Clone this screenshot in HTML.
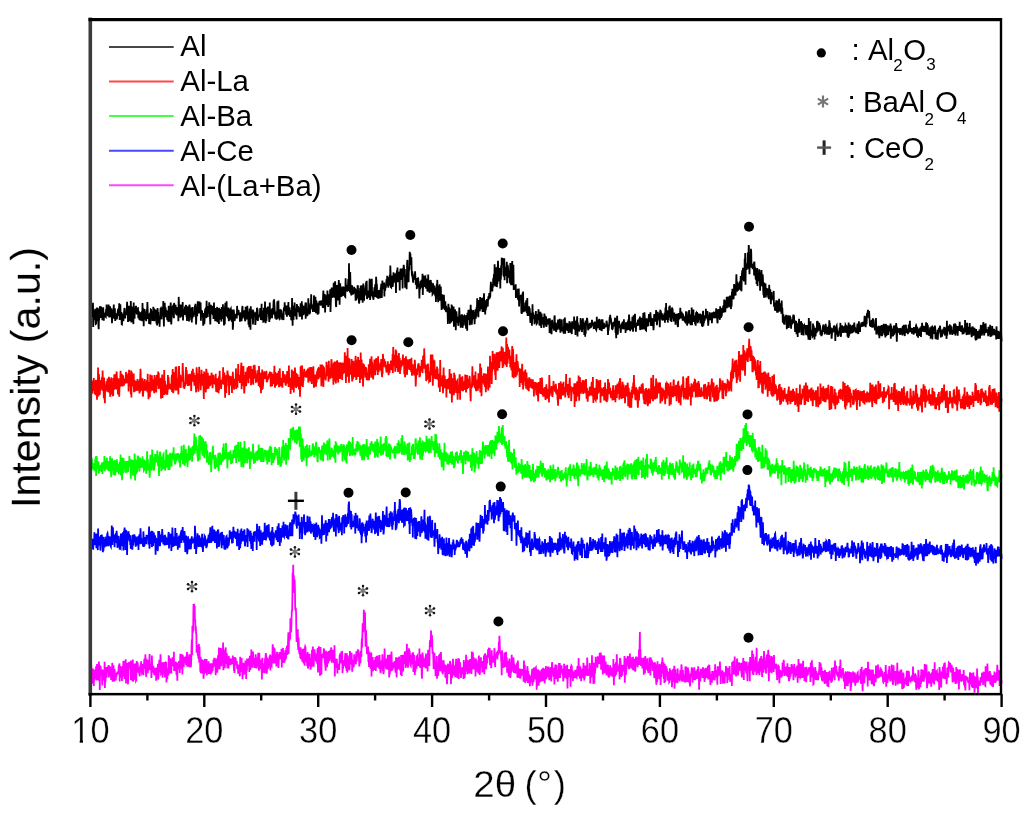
<!DOCTYPE html>
<html><head><meta charset="utf-8"><title>XRD patterns</title>
<style>html,body{margin:0;padding:0;background:#fff;overflow:hidden}svg{display:block}
text{font-family:"Liberation Sans",Arial,sans-serif;fill:#000}</style></head>
<body>
<svg width="1024" height="816" viewBox="0 0 1024 816">
<rect width="1024" height="816" fill="#fff"/>
<defs><filter id="bl" x="-5%" y="-5%" width="110%" height="110%"><feGaussianBlur stdDeviation="0.35"/></filter>
<filter id="soft" x="0" y="0" width="100%" height="100%" filterUnits="userSpaceOnUse"><feGaussianBlur stdDeviation="0.45"/></filter></defs>
<g filter="url(#soft)">
<g filter="url(#bl)">
<polyline fill="none" stroke="#000000" stroke-width="1.8" stroke-linejoin="miter" points="90.4,304.6 90.7,319.6 91.0,307.8 91.3,311.3 91.5,312.4 91.8,308.8 92.1,305.5 92.4,316.9 92.7,315.5 93.0,302.8 93.2,326.9 93.5,319.5 93.8,310.2 94.1,319.7 94.4,312.3 94.7,314.9 95.0,319.8 95.2,308.7 95.5,319.1 95.8,323.8 96.1,323.5 96.4,314.6 96.7,321.3 97.0,307.4 97.2,315.4 97.5,318.7 97.8,308.6 98.1,315.3 98.4,325.1 98.7,329.3 98.9,319.3 99.2,319.3 99.5,309.2 99.8,307.5 100.1,306.2 100.4,316.7 100.7,317.7 100.9,309.8 101.2,306.5 101.5,314.6 101.8,314.9 102.1,312.4 102.4,320.2 102.6,312.7 102.9,312.9 103.2,307.2 103.5,314.1 103.8,320.8 104.1,313.7 104.4,313.8 104.6,315.8 104.9,314.9 105.2,316.3 105.5,316.4 105.8,316.8 106.1,309.0 106.4,315.1 106.6,304.6 106.9,314.9 107.2,306.5 107.5,313.1 107.8,316.1 108.1,311.3 108.3,314.1 108.6,304.6 108.9,308.9 109.2,317.5 109.5,307.4 109.8,317.4 110.1,306.3 110.3,309.0 110.6,308.1 110.9,314.2 111.2,317.2 111.5,308.5 111.8,313.4 112.0,323.3 112.3,312.8 112.6,310.1 112.9,316.6 113.2,313.2 113.5,310.6 113.8,304.5 114.0,318.7 114.3,311.0 114.6,314.1 114.9,308.2 115.2,321.0 115.5,317.9 115.8,319.1 116.0,313.2 116.3,316.3 116.6,318.6 116.9,319.3 117.2,315.5 117.5,313.5 117.7,311.9 118.0,309.9 118.3,308.7 118.6,316.0 118.9,312.8 119.2,303.3 119.5,313.3 119.7,320.0 120.0,312.7 120.3,304.2 120.6,313.6 120.9,318.5 121.2,315.3 121.4,311.9 121.7,324.2 122.0,324.4 122.3,313.4 122.6,318.2 122.9,315.8 123.2,317.7 123.4,321.2 123.7,317.5 124.0,313.3 124.3,309.1 124.6,308.0 124.9,312.1 125.2,318.4 125.4,313.6 125.7,312.2 126.0,313.3 126.3,312.2 126.6,315.0 126.9,306.1 127.1,301.7 127.4,310.3 127.7,306.7 128.0,321.9 128.3,312.6 128.6,312.4 128.9,305.8 129.1,316.0 129.4,311.4 129.7,321.1 130.0,319.8 130.3,311.2 130.6,317.8 130.8,300.9 131.1,312.1 131.4,322.5 131.7,320.0 132.0,316.6 132.3,315.3 132.6,307.6 132.8,307.7 133.1,316.1 133.4,324.1 133.7,302.6 134.0,317.5 134.3,317.0 134.6,318.7 134.8,308.6 135.1,310.2 135.4,313.1 135.7,307.2 136.0,305.9 136.3,307.7 136.5,312.0 136.8,314.3 137.1,312.1 137.4,312.7 137.7,308.5 138.0,308.3 138.3,318.3 138.5,312.0 138.8,311.9 139.1,317.4 139.4,319.1 139.7,319.3 140.0,314.7 140.2,312.3 140.5,314.3 140.8,313.8 141.1,320.5 141.4,314.7 141.7,316.8 142.0,313.4 142.2,321.2 142.5,302.9 142.8,316.2 143.1,318.4 143.4,308.3 143.7,326.3 143.9,314.0 144.2,314.0 144.5,309.1 144.8,319.6 145.1,316.0 145.4,311.6 145.7,315.9 145.9,318.3 146.2,321.1 146.5,315.6 146.8,309.2 147.1,311.4 147.4,302.1 147.7,310.6 147.9,318.7 148.2,317.4 148.5,314.5 148.8,313.5 149.1,324.0 149.4,317.2 149.6,320.8 149.9,318.1 150.2,312.5 150.5,324.6 150.8,309.5 151.1,309.7 151.4,313.8 151.6,312.1 151.9,312.9 152.2,312.5 152.5,320.9 152.8,315.7 153.1,317.2 153.3,306.7 153.6,310.6 153.9,320.9 154.2,308.5 154.5,321.3 154.8,309.4 155.1,316.5 155.3,310.3 155.6,315.9 155.9,309.9 156.2,313.4 156.5,323.7 156.8,312.6 157.1,325.5 157.3,312.0 157.6,308.0 157.9,314.6 158.2,311.9 158.5,323.5 158.8,318.5 159.0,320.1 159.3,317.0 159.6,326.8 159.9,317.7 160.2,316.2 160.5,308.7 160.8,308.3 161.0,314.1 161.3,318.5 161.6,319.2 161.9,308.1 162.2,316.1 162.5,314.3 162.7,307.2 163.0,316.0 163.3,300.9 163.6,314.6 163.9,326.6 164.2,307.6 164.5,313.2 164.7,302.8 165.0,309.0 165.3,317.2 165.6,307.5 165.9,313.0 166.2,311.3 166.5,311.2 166.7,314.4 167.0,316.1 167.3,320.3 167.6,318.3 167.9,310.8 168.2,321.7 168.4,320.9 168.7,305.7 169.0,317.9 169.3,318.8 169.6,319.5 169.9,317.2 170.2,307.0 170.4,312.5 170.7,302.5 171.0,312.8 171.3,324.5 171.6,316.9 171.9,317.5 172.1,309.9 172.4,307.0 172.7,306.5 173.0,312.9 173.3,307.7 173.6,308.6 173.9,318.3 174.1,303.0 174.4,304.9 174.7,309.3 175.0,311.6 175.3,311.6 175.6,304.8 175.9,313.6 176.1,312.0 176.4,314.8 176.7,307.1 177.0,314.6 177.3,314.6 177.6,309.9 177.8,312.5 178.1,310.8 178.4,321.3 178.7,296.9 179.0,306.1 179.3,304.7 179.6,311.9 179.8,310.2 180.1,311.6 180.4,317.7 180.7,304.6 181.0,308.7 181.3,312.0 181.5,306.3 181.8,314.7 182.1,314.2 182.4,308.2 182.7,302.1 183.0,320.4 183.3,313.9 183.5,313.4 183.8,311.2 184.1,310.6 184.4,315.0 184.7,310.2 185.0,306.7 185.3,314.0 185.5,310.4 185.8,305.7 186.1,305.0 186.4,316.5 186.7,313.6 187.0,321.0 187.2,307.3 187.5,306.3 187.8,312.7 188.1,318.2 188.4,314.1 188.7,313.3 189.0,321.5 189.2,307.1 189.5,304.5 189.8,307.4 190.1,309.9 190.4,313.8 190.7,317.4 190.9,314.1 191.2,320.3 191.5,307.4 191.8,322.5 192.1,307.6 192.4,318.6 192.7,307.1 192.9,314.2 193.2,312.7 193.5,315.4 193.8,316.8 194.1,311.6 194.4,312.5 194.7,314.2 194.9,305.6 195.2,308.7 195.5,303.7 195.8,312.5 196.1,324.5 196.4,316.0 196.6,306.8 196.9,307.4 197.2,316.3 197.5,308.0 197.8,301.4 198.1,304.4 198.4,304.1 198.6,304.1 198.9,313.4 199.2,310.1 199.5,301.6 199.8,306.9 200.1,303.8 200.3,303.7 200.6,302.4 200.9,320.7 201.2,309.7 201.5,315.0 201.8,317.0 202.1,310.5 202.3,315.9 202.6,316.3 202.9,314.8 203.2,325.8 203.5,315.7 203.8,313.0 204.1,317.9 204.3,324.2 204.6,319.9 204.9,311.8 205.2,309.6 205.5,309.0 205.8,310.3 206.0,315.8 206.3,318.1 206.6,300.7 206.9,312.7 207.2,306.5 207.5,316.0 207.8,317.0 208.0,307.5 208.3,309.0 208.6,306.1 208.9,313.4 209.2,302.3 209.5,305.0 209.7,307.4 210.0,317.9 210.3,324.4 210.6,311.4 210.9,304.7 211.2,311.9 211.5,306.9 211.7,314.2 212.0,305.7 212.3,309.8 212.6,311.8 212.9,314.8 213.2,311.6 213.5,319.0 213.7,312.9 214.0,302.5 214.3,317.5 214.6,311.1 214.9,309.2 215.2,321.2 215.4,307.9 215.7,313.9 216.0,309.9 216.3,321.2 216.6,312.1 216.9,315.5 217.2,306.9 217.4,322.2 217.7,308.7 218.0,319.4 218.3,320.4 218.6,321.0 218.9,324.0 219.1,307.9 219.4,316.2 219.7,314.7 220.0,316.0 220.3,319.6 220.6,314.2 220.9,309.1 221.1,312.9 221.4,321.6 221.7,307.0 222.0,313.7 222.3,308.0 222.6,319.1 222.9,304.3 223.1,311.3 223.4,312.4 223.7,313.6 224.0,325.5 224.3,321.2 224.6,307.4 224.8,324.3 225.1,306.5 225.4,302.9 225.7,304.9 226.0,314.0 226.3,315.8 226.6,301.3 226.8,315.4 227.1,311.7 227.4,316.9 227.7,311.3 228.0,318.1 228.3,316.4 228.5,307.4 228.8,321.2 229.1,314.8 229.4,317.6 229.7,320.4 230.0,308.7 230.3,313.4 230.5,309.5 230.8,308.9 231.1,315.2 231.4,315.6 231.7,320.8 232.0,321.1 232.2,313.8 232.5,309.6 232.8,329.7 233.1,325.4 233.4,313.7 233.7,309.5 234.0,312.3 234.2,316.2 234.5,320.8 234.8,320.1 235.1,317.5 235.4,314.0 235.7,316.3 236.0,313.9 236.2,316.0 236.5,315.1 236.8,318.4 237.1,305.9 237.4,313.9 237.7,314.1 237.9,309.7 238.2,314.7 238.5,310.1 238.8,312.2 239.1,314.2 239.4,314.4 239.7,312.8 239.9,321.7 240.2,317.1 240.5,317.9 240.8,317.7 241.1,313.2 241.4,312.2 241.6,321.3 241.9,315.3 242.2,308.1 242.5,305.9 242.8,318.5 243.1,313.5 243.4,317.0 243.6,314.4 243.9,315.0 244.2,316.0 244.5,310.2 244.8,316.4 245.1,321.3 245.4,319.6 245.6,306.7 245.9,308.6 246.2,308.4 246.5,313.9 246.8,319.4 247.1,316.6 247.3,305.8 247.6,315.1 247.9,319.0 248.2,312.5 248.5,324.8 248.8,311.6 249.1,321.1 249.3,327.2 249.6,308.6 249.9,313.6 250.2,318.3 250.5,329.8 250.8,306.2 251.0,318.5 251.3,317.1 251.6,313.6 251.9,311.6 252.2,313.3 252.5,314.5 252.8,309.6 253.0,324.4 253.3,310.6 253.6,314.2 253.9,313.0 254.2,314.2 254.5,316.8 254.8,312.3 255.0,315.0 255.3,325.0 255.6,321.4 255.9,314.3 256.2,320.3 256.5,311.5 256.7,316.4 257.0,307.7 257.3,309.0 257.6,310.2 257.9,320.9 258.2,315.5 258.5,316.9 258.7,314.7 259.0,315.6 259.3,315.6 259.6,317.2 259.9,313.9 260.2,308.1 260.4,308.6 260.7,318.8 261.0,319.7 261.3,315.2 261.6,303.7 261.9,320.3 262.2,313.9 262.4,311.9 262.7,312.5 263.0,310.6 263.3,321.8 263.6,321.7 263.9,307.7 264.2,312.5 264.4,315.3 264.7,320.6 265.0,301.6 265.3,319.2 265.6,323.1 265.9,312.9 266.1,314.4 266.4,321.1 266.7,316.5 267.0,307.5 267.3,308.2 267.6,308.7 267.9,306.5 268.1,313.6 268.4,310.7 268.7,313.4 269.0,316.6 269.3,322.0 269.6,313.6 269.8,302.6 270.1,319.3 270.4,311.3 270.7,317.8 271.0,309.3 271.3,313.1 271.6,310.7 271.8,311.3 272.1,318.1 272.4,308.0 272.7,312.4 273.0,312.8 273.3,309.8 273.6,300.5 273.8,314.0 274.1,299.2 274.4,304.7 274.7,310.4 275.0,315.2 275.3,317.6 275.5,317.5 275.8,316.4 276.1,311.5 276.4,319.7 276.7,312.0 277.0,319.2 277.3,301.6 277.5,308.2 277.8,310.1 278.1,312.9 278.4,300.4 278.7,316.9 279.0,317.7 279.2,316.5 279.5,309.6 279.8,319.8 280.1,309.2 280.4,316.7 280.7,311.5 281.0,311.6 281.2,310.8 281.5,311.3 281.8,317.1 282.1,318.7 282.4,318.6 282.7,315.8 283.0,314.5 283.2,313.3 283.5,320.1 283.8,308.6 284.1,307.6 284.4,311.2 284.7,302.3 284.9,309.8 285.2,310.7 285.5,305.7 285.8,308.1 286.1,314.8 286.4,310.0 286.7,311.6 286.9,316.6 287.2,308.1 287.5,305.4 287.8,311.2 288.1,313.7 288.4,302.1 288.6,315.1 288.9,310.1 289.2,309.7 289.5,307.4 289.8,311.0 290.1,317.0 290.4,314.8 290.6,316.2 290.9,310.1 291.2,320.3 291.5,318.6 291.8,311.7 292.1,298.0 292.4,311.9 292.6,325.8 292.9,311.0 293.2,305.8 293.5,319.9 293.8,307.6 294.1,313.2 294.3,314.5 294.6,302.6 294.9,310.8 295.2,316.2 295.5,308.2 295.8,313.2 296.1,309.7 296.3,315.1 296.6,319.5 296.9,304.1 297.2,308.5 297.5,312.2 297.8,306.9 298.0,306.0 298.3,308.6 298.6,309.1 298.9,307.2 299.2,312.4 299.5,314.9 299.8,314.5 300.0,314.1 300.3,316.6 300.6,303.2 300.9,309.6 301.2,311.0 301.5,312.6 301.8,301.3 302.0,319.5 302.3,304.9 302.6,310.9 302.9,313.4 303.2,315.2 303.5,305.9 303.7,306.7 304.0,311.5 304.3,312.7 304.6,314.4 304.9,309.4 305.2,306.1 305.5,302.7 305.7,318.8 306.0,302.4 306.3,313.2 306.6,310.9 306.9,313.3 307.2,314.2 307.4,316.1 307.7,308.5 308.0,310.8 308.3,298.2 308.6,308.6 308.9,303.4 309.2,307.2 309.4,314.4 309.7,308.4 310.0,313.5 310.3,306.7 310.6,309.8 310.9,305.5 311.2,294.3 311.4,303.9 311.7,306.2 312.0,308.3 312.3,307.4 312.6,306.5 312.9,312.0 313.1,310.0 313.4,304.4 313.7,310.8 314.0,295.4 314.3,304.1 314.6,304.5 314.9,311.9 315.1,302.0 315.4,296.8 315.7,305.4 316.0,313.3 316.3,303.1 316.6,303.7 316.8,303.1 317.1,304.4 317.4,311.0 317.7,314.6 318.0,306.5 318.3,303.4 318.6,313.8 318.8,304.4 319.1,304.1 319.4,301.7 319.7,301.7 320.0,304.6 320.3,301.6 320.5,305.2 320.8,303.2 321.1,305.6 321.4,300.3 321.7,301.1 322.0,303.4 322.3,302.3 322.5,302.3 322.8,308.0 323.1,295.5 323.4,290.6 323.7,305.2 324.0,299.6 324.3,308.3 324.5,300.2 324.8,294.0 325.1,312.5 325.4,302.3 325.7,297.3 326.0,295.4 326.2,302.5 326.5,295.3 326.8,301.0 327.1,305.2 327.4,290.5 327.7,296.0 328.0,300.5 328.2,306.9 328.5,302.5 328.8,294.4 329.1,304.9 329.4,294.3 329.7,295.1 329.9,297.9 330.2,289.2 330.5,312.0 330.8,301.7 331.1,295.9 331.4,291.2 331.7,287.6 331.9,296.1 332.2,297.8 332.5,291.4 332.8,292.4 333.1,296.6 333.4,293.0 333.7,282.7 333.9,297.1 334.2,294.7 334.5,297.6 334.8,289.1 335.1,281.3 335.4,286.4 335.6,295.3 335.9,305.5 336.2,307.1 336.5,295.3 336.8,285.1 337.1,291.5 337.4,295.9 337.6,295.7 337.9,293.6 338.2,300.5 338.5,287.5 338.8,280.0 339.1,287.2 339.3,285.4 339.6,304.7 339.9,290.6 340.2,283.3 340.5,294.9 340.8,297.0 341.1,291.4 341.3,292.1 341.6,296.7 341.9,293.7 342.2,286.6 342.5,294.0 342.8,295.8 343.1,292.4 343.3,295.4 343.6,293.6 343.9,288.8 344.2,289.3 344.5,293.6 344.8,286.8 345.0,296.6 345.3,296.9 345.6,278.2 345.9,289.4 346.2,285.4 346.5,285.9 346.8,290.2 347.0,288.0 347.3,291.7 347.6,289.5 347.9,288.6 348.2,279.9 348.5,279.9 348.7,288.4 349.0,263.3 349.3,291.1 349.6,280.0 349.9,292.4 350.2,271.9 350.5,285.6 350.7,293.5 351.0,290.1 351.3,295.5 351.6,285.1 351.9,287.3 352.2,287.1 352.5,293.9 352.7,293.9 353.0,290.9 353.3,290.3 353.6,290.3 353.9,292.6 354.2,286.9 354.4,292.0 354.7,291.6 355.0,289.4 355.3,289.3 355.6,300.7 355.9,289.2 356.2,294.9 356.4,300.2 356.7,296.9 357.0,293.0 357.3,298.5 357.6,285.3 357.9,286.4 358.1,291.0 358.4,292.0 358.7,292.7 359.0,303.5 359.3,302.4 359.6,293.0 359.9,294.5 360.1,288.1 360.4,294.6 360.7,285.5 361.0,300.2 361.3,289.8 361.6,295.5 361.9,285.4 362.1,299.9 362.4,295.6 362.7,302.8 363.0,292.7 363.3,283.6 363.6,288.1 363.8,285.6 364.1,300.7 364.4,288.9 364.7,288.2 365.0,295.4 365.3,293.6 365.6,294.8 365.8,289.6 366.1,281.7 366.4,285.1 366.7,280.7 367.0,299.1 367.3,297.2 367.5,290.5 367.8,295.9 368.1,296.3 368.4,296.2 368.7,295.7 369.0,297.7 369.3,293.6 369.5,281.5 369.8,278.7 370.1,299.9 370.4,296.3 370.7,279.9 371.0,293.9 371.3,288.3 371.5,289.8 371.8,278.8 372.1,296.3 372.4,291.6 372.7,296.1 373.0,297.3 373.2,298.1 373.5,299.8 373.8,292.5 374.1,291.9 374.4,287.3 374.7,293.4 375.0,289.4 375.2,284.4 375.5,297.1 375.8,294.6 376.1,276.8 376.4,281.3 376.7,290.1 376.9,284.3 377.2,298.1 377.5,292.7 377.8,294.8 378.1,296.7 378.4,298.8 378.7,290.1 378.9,294.7 379.2,292.6 379.5,295.3 379.8,293.8 380.1,298.2 380.4,293.3 380.7,287.6 380.9,290.7 381.2,283.8 381.5,291.6 381.8,297.9 382.1,286.4 382.4,280.6 382.6,289.0 382.9,286.5 383.2,289.1 383.5,285.6 383.8,289.0 384.1,282.6 384.4,296.4 384.6,286.2 384.9,289.8 385.2,290.7 385.5,285.2 385.8,288.0 386.1,283.6 386.3,282.0 386.6,282.7 386.9,286.2 387.2,275.9 387.5,277.4 387.8,277.5 388.1,278.3 388.3,287.7 388.6,280.5 388.9,278.5 389.2,280.7 389.5,285.6 389.8,274.9 390.1,284.8 390.3,265.5 390.6,273.4 390.9,287.0 391.2,287.3 391.5,279.3 391.8,275.6 392.0,282.8 392.3,275.5 392.6,286.9 392.9,284.6 393.2,282.0 393.5,272.2 393.8,282.7 394.0,275.2 394.3,275.0 394.6,273.6 394.9,275.1 395.2,278.6 395.5,280.4 395.7,280.2 396.0,292.9 396.3,272.7 396.6,281.8 396.9,270.6 397.2,273.5 397.5,267.6 397.7,282.1 398.0,276.4 398.3,275.6 398.6,274.2 398.9,280.6 399.2,271.9 399.5,277.4 399.7,290.5 400.0,274.1 400.3,271.1 400.6,268.6 400.9,280.0 401.2,275.4 401.4,270.3 401.7,269.9 402.0,275.3 402.3,269.0 402.6,288.5 402.9,274.4 403.2,274.6 403.4,275.4 403.7,264.8 404.0,267.3 404.3,274.3 404.6,276.6 404.9,269.1 405.1,287.7 405.4,279.9 405.7,285.2 406.0,284.3 406.3,275.2 406.6,289.2 406.9,276.8 407.1,263.4 407.4,259.9 407.7,274.2 408.0,278.9 408.3,272.6 408.6,282.2 408.9,266.9 409.1,270.3 409.4,268.3 409.7,251.8 410.0,256.5 410.3,253.2 410.6,258.0 410.8,261.9 411.1,264.9 411.4,257.3 411.7,271.2 412.0,276.2 412.3,271.4 412.6,277.7 412.8,279.0 413.1,282.6 413.4,276.3 413.7,279.5 414.0,278.2 414.3,277.8 414.5,273.9 414.8,276.0 415.1,271.4 415.4,277.5 415.7,283.4 416.0,283.3 416.3,284.4 416.5,279.4 416.8,289.1 417.1,278.1 417.4,286.0 417.7,284.3 418.0,277.5 418.2,278.1 418.5,287.4 418.8,283.4 419.1,285.2 419.4,298.4 419.7,287.6 420.0,285.1 420.2,289.1 420.5,281.1 420.8,283.8 421.1,287.6 421.4,279.9 421.7,284.6 422.0,283.6 422.2,285.2 422.5,273.7 422.8,294.9 423.1,283.5 423.4,287.1 423.7,277.3 423.9,275.5 424.2,283.4 424.5,281.1 424.8,286.9 425.1,277.3 425.4,276.9 425.7,284.9 425.9,287.2 426.2,288.6 426.5,282.9 426.8,284.8 427.1,278.5 427.4,291.5 427.6,290.6 427.9,290.6 428.2,274.5 428.5,289.8 428.8,280.3 429.1,288.0 429.4,287.9 429.6,293.0 429.9,284.9 430.2,284.3 430.5,280.7 430.8,280.0 431.1,290.9 431.4,282.3 431.6,292.0 431.9,286.0 432.2,285.1 432.5,294.4 432.8,294.0 433.1,283.2 433.3,288.3 433.6,289.5 433.9,293.7 434.2,285.6 434.5,287.7 434.8,289.7 435.1,294.8 435.3,296.2 435.6,288.1 435.9,301.9 436.2,294.5 436.5,287.8 436.8,283.8 437.0,290.3 437.3,279.9 437.6,295.0 437.9,297.6 438.2,302.1 438.5,298.0 438.8,285.8 439.0,294.3 439.3,300.2 439.6,284.3 439.9,292.2 440.2,300.6 440.5,297.7 440.8,286.6 441.0,295.2 441.3,298.4 441.6,310.0 441.9,296.6 442.2,294.4 442.5,301.0 442.7,301.9 443.0,303.6 443.3,308.8 443.6,301.2 443.9,294.8 444.2,302.9 444.5,303.4 444.7,309.0 445.0,308.9 445.3,301.3 445.6,309.7 445.9,311.5 446.2,305.9 446.4,312.2 446.7,308.7 447.0,309.1 447.3,307.9 447.6,313.0 447.9,323.9 448.2,310.6 448.4,303.9 448.7,308.8 449.0,307.3 449.3,312.1 449.6,310.1 449.9,323.7 450.2,315.0 450.4,320.9 450.7,308.4 451.0,311.2 451.3,322.6 451.6,304.5 451.9,313.7 452.1,305.7 452.4,321.0 452.7,306.9 453.0,312.5 453.3,313.4 453.6,306.4 453.9,326.8 454.1,314.4 454.4,323.5 454.7,312.7 455.0,309.4 455.3,317.9 455.6,318.2 455.8,330.2 456.1,313.2 456.4,311.3 456.7,315.8 457.0,320.9 457.3,322.5 457.6,316.6 457.8,318.7 458.1,323.1 458.4,325.8 458.7,317.9 459.0,321.3 459.3,307.6 459.6,316.0 459.8,322.5 460.1,320.3 460.4,319.4 460.7,327.8 461.0,318.7 461.3,314.8 461.5,320.9 461.8,320.8 462.1,314.4 462.4,324.5 462.7,327.8 463.0,316.9 463.3,315.5 463.5,319.2 463.8,325.4 464.1,316.7 464.4,315.8 464.7,316.3 465.0,320.0 465.2,319.7 465.5,317.6 465.8,323.9 466.1,328.6 466.4,315.0 466.7,322.4 467.0,318.5 467.2,330.8 467.5,312.7 467.8,315.1 468.1,317.1 468.4,309.8 468.7,315.5 469.0,319.9 469.2,309.7 469.5,317.3 469.8,325.2 470.1,313.9 470.4,312.6 470.7,304.8 470.9,316.5 471.2,309.2 471.5,319.6 471.8,324.7 472.1,319.3 472.4,312.6 472.7,319.3 472.9,313.6 473.2,310.1 473.5,312.7 473.8,316.0 474.1,312.6 474.4,316.6 474.6,324.2 474.9,316.3 475.2,316.6 475.5,309.2 475.8,318.8 476.1,313.5 476.4,316.4 476.6,307.0 476.9,311.8 477.2,298.2 477.5,307.9 477.8,305.0 478.1,303.6 478.4,317.3 478.6,299.9 478.9,306.6 479.2,306.1 479.5,309.2 479.8,311.3 480.1,297.1 480.3,302.3 480.6,301.0 480.9,308.1 481.2,309.1 481.5,301.6 481.8,300.6 482.1,297.8 482.3,305.1 482.6,312.0 482.9,304.8 483.2,298.8 483.5,298.0 483.8,298.5 484.0,293.3 484.3,311.9 484.6,302.6 484.9,300.3 485.2,314.6 485.5,303.3 485.8,310.3 486.0,303.4 486.3,308.0 486.6,301.9 486.9,299.2 487.2,303.4 487.5,304.8 487.8,306.5 488.0,300.8 488.3,297.6 488.6,296.2 488.9,299.4 489.2,293.9 489.5,293.9 489.7,298.1 490.0,297.3 490.3,295.8 490.6,287.2 490.9,281.9 491.2,291.3 491.5,289.4 491.7,285.4 492.0,288.2 492.3,291.5 492.6,284.3 492.9,287.5 493.2,278.4 493.4,282.6 493.7,278.4 494.0,274.0 494.3,285.6 494.6,264.2 494.9,281.5 495.2,286.4 495.4,283.5 495.7,270.3 496.0,281.3 496.3,267.2 496.6,272.6 496.9,287.1 497.2,278.0 497.4,284.0 497.7,268.2 498.0,260.8 498.3,268.8 498.6,281.5 498.9,278.3 499.1,278.6 499.4,269.7 499.7,269.4 500.0,268.0 500.3,288.4 500.6,268.7 500.9,279.5 501.1,265.6 501.4,275.6 501.7,257.7 502.0,260.6 502.3,265.4 502.6,258.2 502.8,259.4 503.1,262.2 503.4,260.9 503.7,276.7 504.0,274.9 504.3,258.3 504.6,280.2 504.8,268.7 505.1,269.1 505.4,268.5 505.7,275.7 506.0,274.8 506.3,266.6 506.5,270.7 506.8,261.7 507.1,283.3 507.4,265.3 507.7,265.4 508.0,267.0 508.3,273.1 508.5,277.6 508.8,270.6 509.1,273.6 509.4,271.5 509.7,282.7 510.0,275.8 510.3,263.0 510.5,284.0 510.8,275.7 511.1,285.1 511.4,265.4 511.7,263.7 512.0,266.2 512.2,261.1 512.5,271.7 512.8,285.1 513.1,283.3 513.4,264.8 513.7,290.0 514.0,285.4 514.2,289.5 514.5,285.9 514.8,288.0 515.1,288.4 515.4,289.6 515.7,284.2 515.9,297.9 516.2,294.0 516.5,296.0 516.8,296.7 517.1,293.6 517.4,295.7 517.7,288.8 517.9,298.7 518.2,299.2 518.5,296.7 518.8,288.6 519.1,306.5 519.4,298.2 519.7,299.5 519.9,298.2 520.2,297.0 520.5,298.5 520.8,294.9 521.1,298.3 521.4,313.4 521.6,309.0 521.9,313.9 522.2,299.9 522.5,293.4 522.8,296.8 523.1,291.6 523.4,310.9 523.6,312.1 523.9,306.5 524.2,308.4 524.5,308.7 524.8,306.6 525.1,311.5 525.3,302.6 525.6,306.1 525.9,308.0 526.2,300.3 526.5,304.3 526.8,312.3 527.1,312.3 527.3,297.9 527.6,316.0 527.9,313.4 528.2,316.0 528.5,312.0 528.8,315.7 529.1,306.3 529.3,312.3 529.6,308.2 529.9,311.3 530.2,320.3 530.5,322.9 530.8,315.0 531.0,312.9 531.3,319.3 531.6,317.9 531.9,325.6 532.2,319.2 532.5,304.3 532.8,316.6 533.0,314.8 533.3,312.5 533.6,317.3 533.9,317.0 534.2,314.9 534.5,324.3 534.7,318.6 535.0,318.7 535.3,317.4 535.6,322.6 535.9,310.9 536.2,322.4 536.5,315.1 536.7,323.7 537.0,323.3 537.3,318.7 537.6,314.0 537.9,317.6 538.2,318.1 538.5,309.2 538.7,315.0 539.0,313.3 539.3,323.8 539.6,325.6 539.9,314.0 540.2,315.3 540.4,311.8 540.7,319.8 541.0,322.9 541.3,328.0 541.6,313.4 541.9,324.5 542.2,319.6 542.4,317.2 542.7,319.3 543.0,317.6 543.3,323.7 543.6,321.9 543.9,327.8 544.1,319.8 544.4,313.6 544.7,318.0 545.0,324.5 545.3,315.9 545.6,319.4 545.9,325.6 546.1,316.5 546.4,327.0 546.7,324.6 547.0,320.1 547.3,322.6 547.6,320.4 547.9,320.8 548.1,321.1 548.4,322.8 548.7,322.3 549.0,319.3 549.3,318.4 549.6,332.9 549.8,318.2 550.1,322.9 550.4,329.5 550.7,328.8 551.0,321.1 551.3,334.1 551.6,333.3 551.8,323.8 552.1,319.8 552.4,328.7 552.7,325.1 553.0,324.7 553.3,322.5 553.5,323.5 553.8,327.1 554.1,330.6 554.4,316.9 554.7,315.5 555.0,330.8 555.3,322.5 555.5,329.5 555.8,326.8 556.1,332.0 556.4,330.4 556.7,325.0 557.0,325.5 557.3,327.8 557.5,329.7 557.8,323.5 558.1,319.6 558.4,327.0 558.7,326.4 559.0,325.9 559.2,322.1 559.5,329.5 559.8,318.9 560.1,324.6 560.4,332.7 560.7,321.8 561.0,328.7 561.2,328.9 561.5,328.8 561.8,319.4 562.1,331.5 562.4,327.6 562.7,329.2 562.9,328.4 563.2,327.3 563.5,332.6 563.8,333.6 564.1,318.7 564.4,323.6 564.7,326.4 564.9,317.4 565.2,333.8 565.5,323.7 565.8,329.8 566.1,328.2 566.4,326.3 566.7,322.8 566.9,325.7 567.2,327.7 567.5,330.8 567.8,326.4 568.1,325.5 568.4,326.1 568.6,333.0 568.9,328.4 569.2,324.0 569.5,321.2 569.8,325.0 570.1,322.6 570.4,324.8 570.6,332.7 570.9,329.6 571.2,327.5 571.5,328.2 571.8,334.1 572.1,321.2 572.3,328.3 572.6,325.4 572.9,326.9 573.2,326.6 573.5,324.9 573.8,328.8 574.1,316.6 574.3,327.7 574.6,329.5 574.9,322.1 575.2,322.0 575.5,335.1 575.8,322.3 576.1,324.5 576.3,322.6 576.6,323.2 576.9,322.8 577.2,316.2 577.5,336.4 577.8,322.2 578.0,327.1 578.3,324.9 578.6,331.3 578.9,328.3 579.2,330.2 579.5,330.4 579.8,328.9 580.0,325.3 580.3,329.4 580.6,318.1 580.9,329.5 581.2,328.8 581.5,327.1 581.7,319.8 582.0,332.1 582.3,323.2 582.6,329.2 582.9,318.2 583.2,325.9 583.5,323.9 583.7,323.4 584.0,324.0 584.3,335.1 584.6,326.9 584.9,328.6 585.2,336.7 585.5,320.4 585.7,333.7 586.0,324.9 586.3,323.6 586.6,324.4 586.9,317.9 587.2,319.0 587.4,320.6 587.7,323.1 588.0,328.7 588.3,330.3 588.6,323.7 588.9,327.0 589.2,327.3 589.4,324.3 589.7,326.4 590.0,322.8 590.3,328.0 590.6,324.6 590.9,325.9 591.1,326.9 591.4,326.5 591.7,322.7 592.0,319.9 592.3,325.7 592.6,323.5 592.9,323.7 593.1,325.6 593.4,322.9 593.7,328.0 594.0,327.8 594.3,321.9 594.6,327.5 594.8,321.5 595.1,329.0 595.4,328.4 595.7,325.5 596.0,329.4 596.3,329.9 596.6,327.2 596.8,316.8 597.1,325.5 597.4,325.7 597.7,328.3 598.0,320.2 598.3,327.7 598.6,326.1 598.8,326.4 599.1,319.0 599.4,320.8 599.7,329.9 600.0,328.7 600.3,324.8 600.5,330.3 600.8,326.9 601.1,324.1 601.4,319.2 601.7,331.1 602.0,326.2 602.3,328.1 602.5,319.3 602.8,325.0 603.1,328.9 603.4,326.6 603.7,324.4 604.0,322.8 604.2,328.6 604.5,326.0 604.8,326.1 605.1,326.2 605.4,324.5 605.7,325.8 606.0,324.4 606.2,327.1 606.5,320.7 606.8,321.8 607.1,326.6 607.4,325.6 607.7,326.8 608.0,334.9 608.2,329.1 608.5,330.7 608.8,327.4 609.1,324.9 609.4,321.8 609.7,317.1 609.9,318.9 610.2,314.8 610.5,320.1 610.8,317.9 611.1,320.6 611.4,324.7 611.7,322.9 611.9,328.5 612.2,328.5 612.5,328.9 612.8,328.2 613.1,325.5 613.4,322.1 613.6,326.3 613.9,323.3 614.2,323.6 614.5,326.4 614.8,319.9 615.1,317.7 615.4,326.4 615.6,333.0 615.9,330.2 616.2,338.3 616.5,319.5 616.8,322.9 617.1,315.8 617.4,322.3 617.6,334.5 617.9,333.4 618.2,321.9 618.5,325.1 618.8,323.0 619.1,320.8 619.3,325.7 619.6,325.3 619.9,327.2 620.2,327.9 620.5,329.8 620.8,332.8 621.1,326.3 621.3,325.7 621.6,326.5 621.9,328.3 622.2,325.7 622.5,321.8 622.8,323.7 623.0,329.1 623.3,321.2 623.6,329.2 623.9,319.4 624.2,328.2 624.5,328.1 624.8,324.5 625.0,325.4 625.3,324.5 625.6,332.9 625.9,323.6 626.2,322.3 626.5,327.2 626.8,330.4 627.0,326.9 627.3,324.7 627.6,329.7 627.9,321.7 628.2,321.5 628.5,319.3 628.7,329.9 629.0,314.6 629.3,318.5 629.6,325.1 629.9,325.6 630.2,331.3 630.5,325.4 630.7,321.2 631.0,329.4 631.3,327.9 631.6,328.2 631.9,327.8 632.2,325.3 632.4,316.7 632.7,318.5 633.0,331.8 633.3,323.4 633.6,315.2 633.9,323.6 634.2,327.7 634.4,325.4 634.7,323.8 635.0,313.7 635.3,324.3 635.6,323.6 635.9,331.7 636.2,324.5 636.4,324.4 636.7,322.8 637.0,324.2 637.3,326.0 637.6,322.6 637.9,321.0 638.1,319.5 638.4,325.5 638.7,323.4 639.0,323.5 639.3,318.2 639.6,321.3 639.9,316.5 640.1,329.0 640.4,330.0 640.7,326.5 641.0,324.1 641.3,326.6 641.6,317.9 641.8,318.5 642.1,329.5 642.4,319.6 642.7,323.8 643.0,321.0 643.3,313.0 643.6,320.7 643.8,327.3 644.1,329.3 644.4,312.3 644.7,316.4 645.0,320.7 645.3,327.6 645.6,328.5 645.8,330.1 646.1,330.4 646.4,320.9 646.7,318.3 647.0,326.7 647.3,321.4 647.5,322.5 647.8,320.7 648.1,320.4 648.4,326.2 648.7,317.5 649.0,314.1 649.3,318.7 649.5,322.2 649.8,320.2 650.1,320.9 650.4,312.4 650.7,317.3 651.0,326.0 651.2,320.3 651.5,317.9 651.8,325.9 652.1,318.2 652.4,324.0 652.7,321.4 653.0,322.1 653.2,324.8 653.5,330.1 653.8,325.4 654.1,315.6 654.4,314.1 654.7,317.4 655.0,317.9 655.2,321.6 655.5,318.4 655.8,318.9 656.1,310.0 656.4,317.4 656.7,320.0 656.9,325.2 657.2,321.0 657.5,317.7 657.8,311.8 658.1,317.1 658.4,317.2 658.7,316.5 658.9,317.8 659.2,319.4 659.5,319.1 659.8,327.3 660.1,312.4 660.4,309.7 660.6,318.7 660.9,311.2 661.2,315.9 661.5,316.4 661.8,313.0 662.1,320.3 662.4,319.6 662.6,317.1 662.9,319.1 663.2,320.2 663.5,314.5 663.8,318.5 664.1,316.1 664.4,315.2 664.6,312.8 664.9,322.7 665.2,315.9 665.5,307.5 665.8,316.2 666.1,303.0 666.3,314.8 666.6,317.1 666.9,320.0 667.2,314.5 667.5,310.3 667.8,322.6 668.1,318.6 668.3,320.0 668.6,313.1 668.9,317.4 669.2,306.6 669.5,317.1 669.8,305.5 670.0,310.7 670.3,308.9 670.6,321.0 670.9,320.2 671.2,313.4 671.5,321.9 671.8,316.7 672.0,307.4 672.3,314.7 672.6,308.6 672.9,316.8 673.2,318.2 673.5,313.2 673.8,320.2 674.0,321.4 674.3,312.6 674.6,319.3 674.9,316.4 675.2,315.7 675.5,324.7 675.7,314.0 676.0,315.7 676.3,317.2 676.6,320.1 676.9,321.2 677.2,313.5 677.5,324.0 677.7,326.1 678.0,327.0 678.3,318.7 678.6,315.6 678.9,313.1 679.2,319.4 679.4,317.5 679.7,317.6 680.0,315.0 680.3,307.9 680.6,316.5 680.9,317.0 681.2,316.2 681.4,311.5 681.7,316.6 682.0,317.2 682.3,312.8 682.6,320.7 682.9,317.7 683.1,318.4 683.4,319.5 683.7,316.6 684.0,317.3 684.3,320.0 684.6,321.0 684.9,321.5 685.1,316.7 685.4,320.9 685.7,322.6 686.0,311.3 686.3,315.7 686.6,317.5 686.9,317.6 687.1,325.6 687.4,322.9 687.7,317.1 688.0,317.2 688.3,311.5 688.6,313.3 688.8,323.5 689.1,310.0 689.4,320.3 689.7,314.4 690.0,316.1 690.3,316.9 690.6,325.3 690.8,318.7 691.1,319.4 691.4,321.6 691.7,307.4 692.0,325.3 692.3,309.8 692.5,313.9 692.8,320.0 693.1,311.6 693.4,309.4 693.7,322.0 694.0,315.6 694.3,321.0 694.5,319.1 694.8,316.1 695.1,324.3 695.4,315.9 695.7,325.7 696.0,313.1 696.3,312.7 696.5,314.1 696.8,318.0 697.1,312.1 697.4,314.0 697.7,323.2 698.0,317.8 698.2,322.0 698.5,318.6 698.8,314.5 699.1,313.7 699.4,317.9 699.7,317.4 700.0,314.9 700.2,314.8 700.5,323.4 700.8,321.7 701.1,318.5 701.4,315.8 701.7,315.5 701.9,325.9 702.2,314.7 702.5,327.1 702.8,314.4 703.1,310.8 703.4,325.7 703.7,316.4 703.9,323.3 704.2,318.6 704.5,315.6 704.8,320.6 705.1,315.2 705.4,318.3 705.7,315.8 705.9,308.9 706.2,318.1 706.5,314.3 706.8,316.0 707.1,318.5 707.4,310.9 707.6,319.4 707.9,319.8 708.2,325.7 708.5,321.2 708.8,319.3 709.1,315.3 709.4,318.1 709.6,312.3 709.9,320.1 710.2,317.5 710.5,316.8 710.8,318.3 711.1,320.0 711.3,319.0 711.6,312.6 711.9,323.1 712.2,317.3 712.5,318.3 712.8,316.5 713.1,312.2 713.3,317.0 713.6,313.9 713.9,311.7 714.2,315.6 714.5,318.2 714.8,317.4 715.1,315.4 715.3,311.9 715.6,313.1 715.9,313.9 716.2,308.3 716.5,318.1 716.8,315.0 717.0,309.2 717.3,321.3 717.6,323.3 717.9,309.4 718.2,314.3 718.5,311.5 718.8,318.5 719.0,309.1 719.3,317.3 719.6,316.7 719.9,319.8 720.2,306.3 720.5,311.1 720.7,313.2 721.0,318.0 721.3,313.8 721.6,316.3 721.9,314.6 722.2,308.0 722.5,311.0 722.7,309.2 723.0,309.0 723.3,305.7 723.6,312.7 723.9,310.1 724.2,299.6 724.5,311.2 724.7,304.8 725.0,300.2 725.3,312.2 725.6,306.2 725.9,307.7 726.2,305.1 726.4,305.3 726.7,296.7 727.0,308.3 727.3,300.9 727.6,304.1 727.9,303.1 728.2,298.4 728.4,296.5 728.7,301.1 729.0,307.4 729.3,297.4 729.6,297.0 729.9,299.7 730.1,295.8 730.4,304.4 730.7,299.6 731.0,309.1 731.3,297.2 731.6,306.6 731.9,292.1 732.1,295.7 732.4,288.7 732.7,291.6 733.0,291.5 733.3,295.9 733.6,299.3 733.9,290.6 734.1,284.1 734.4,291.2 734.7,289.9 735.0,287.9 735.3,294.5 735.6,295.6 735.8,285.5 736.1,284.9 736.4,274.3 736.7,284.3 737.0,291.7 737.3,281.7 737.6,291.0 737.8,289.2 738.1,288.3 738.4,287.9 738.7,283.4 739.0,288.9 739.3,288.6 739.5,284.1 739.8,281.4 740.1,288.3 740.4,288.8 740.7,276.1 741.0,283.8 741.3,278.6 741.5,291.2 741.8,275.0 742.1,272.6 742.4,270.1 742.7,280.2 743.0,267.8 743.3,277.3 743.5,269.7 743.8,280.2 744.1,281.1 744.4,278.0 744.7,258.8 745.0,261.2 745.2,253.1 745.5,284.7 745.8,264.6 746.1,265.1 746.4,267.3 746.7,270.0 747.0,263.4 747.2,264.8 747.5,263.0 747.8,252.6 748.1,268.7 748.4,262.4 748.7,245.1 748.9,246.1 749.2,266.0 749.5,274.2 749.8,261.7 750.1,266.6 750.4,261.2 750.7,266.3 750.9,248.8 751.2,251.0 751.5,267.7 751.8,263.9 752.1,267.6 752.4,265.8 752.7,269.1 752.9,267.2 753.2,264.8 753.5,268.7 753.8,262.5 754.1,275.6 754.4,261.6 754.6,265.8 754.9,274.3 755.2,267.3 755.5,276.0 755.8,279.7 756.1,276.3 756.4,269.6 756.6,284.1 756.9,276.1 757.2,268.1 757.5,286.1 757.8,275.7 758.1,278.6 758.3,280.6 758.6,272.7 758.9,281.3 759.2,269.3 759.5,271.3 759.8,275.3 760.1,290.7 760.3,282.2 760.6,286.2 760.9,277.8 761.2,284.1 761.5,270.0 761.8,281.4 762.1,286.1 762.3,281.4 762.6,274.3 762.9,277.1 763.2,290.5 763.5,295.2 763.8,286.3 764.0,297.8 764.3,282.5 764.6,293.6 764.9,292.4 765.2,296.9 765.5,283.5 765.8,297.5 766.0,293.0 766.3,288.1 766.6,290.6 766.9,292.1 767.2,295.1 767.5,289.2 767.7,289.3 768.0,294.6 768.3,294.0 768.6,297.0 768.9,299.2 769.2,284.8 769.5,294.2 769.7,296.0 770.0,295.1 770.3,289.4 770.6,298.9 770.9,304.3 771.2,294.8 771.5,291.9 771.7,300.4 772.0,297.0 772.3,298.0 772.6,299.1 772.9,296.3 773.2,299.3 773.4,296.4 773.7,290.9 774.0,306.8 774.3,303.8 774.6,302.7 774.9,310.5 775.2,303.6 775.4,310.6 775.7,309.7 776.0,304.7 776.3,300.4 776.6,309.3 776.9,308.5 777.1,312.7 777.4,300.5 777.7,307.8 778.0,309.9 778.3,310.7 778.6,309.9 778.9,311.1 779.1,298.8 779.4,308.7 779.7,307.3 780.0,303.4 780.3,311.7 780.6,309.5 780.8,306.2 781.1,305.3 781.4,313.8 781.7,300.6 782.0,312.4 782.3,307.9 782.6,314.1 782.8,322.8 783.1,318.9 783.4,314.3 783.7,321.9 784.0,324.0 784.3,320.3 784.6,324.7 784.8,317.5 785.1,319.9 785.4,317.0 785.7,316.0 786.0,318.2 786.3,314.9 786.5,318.4 786.8,329.1 787.1,322.6 787.4,318.7 787.7,327.6 788.0,326.5 788.3,315.3 788.5,317.1 788.8,328.0 789.1,320.8 789.4,321.2 789.7,318.1 790.0,315.6 790.2,325.5 790.5,317.0 790.8,323.0 791.1,328.8 791.4,323.1 791.7,320.0 792.0,323.8 792.2,323.6 792.5,319.4 792.8,322.8 793.1,316.6 793.4,314.6 793.7,320.0 794.0,315.2 794.2,320.3 794.5,322.8 794.8,324.5 795.1,332.0 795.4,320.5 795.7,322.8 795.9,323.1 796.2,321.1 796.5,334.3 796.8,322.8 797.1,325.3 797.4,325.9 797.7,337.1 797.9,325.8 798.2,324.1 798.5,332.6 798.8,324.8 799.1,318.8 799.4,332.5 799.6,331.7 799.9,321.8 800.2,322.6 800.5,327.6 800.8,323.6 801.1,321.3 801.4,322.6 801.6,335.1 801.9,332.1 802.2,323.2 802.5,327.1 802.8,328.2 803.1,326.5 803.4,327.8 803.6,335.4 803.9,325.6 804.2,325.2 804.5,328.4 804.8,325.9 805.1,327.0 805.3,327.2 805.6,325.0 805.9,334.4 806.2,326.7 806.5,335.1 806.8,326.1 807.1,326.0 807.3,330.9 807.6,328.8 807.9,333.5 808.2,332.9 808.5,339.7 808.8,317.9 809.0,325.9 809.3,330.2 809.6,329.5 809.9,330.3 810.2,339.9 810.5,321.3 810.8,333.6 811.0,329.9 811.3,331.0 811.6,335.6 811.9,330.9 812.2,334.5 812.5,336.6 812.8,336.2 813.0,323.5 813.3,328.5 813.6,325.7 813.9,327.8 814.2,330.2 814.5,339.5 814.7,328.0 815.0,329.3 815.3,329.7 815.6,336.4 815.9,327.7 816.2,331.7 816.5,333.0 816.7,331.8 817.0,320.9 817.3,323.7 817.6,331.8 817.9,321.6 818.2,328.0 818.4,322.7 818.7,330.6 819.0,328.9 819.3,322.8 819.6,328.3 819.9,325.0 820.2,327.3 820.4,334.8 820.7,330.9 821.0,331.3 821.3,336.2 821.6,330.4 821.9,335.4 822.2,331.6 822.4,331.0 822.7,328.4 823.0,326.4 823.3,325.5 823.6,325.8 823.9,331.7 824.1,331.1 824.4,326.0 824.7,334.4 825.0,326.8 825.3,327.8 825.6,323.8 825.9,326.0 826.1,333.0 826.4,331.3 826.7,327.0 827.0,334.6 827.3,329.4 827.6,330.0 827.8,334.0 828.1,331.6 828.4,328.4 828.7,325.5 829.0,335.0 829.3,320.3 829.6,327.4 829.8,322.9 830.1,327.7 830.4,333.6 830.7,328.9 831.0,328.7 831.3,330.3 831.6,338.6 831.8,336.3 832.1,331.8 832.4,328.4 832.7,329.5 833.0,332.5 833.3,330.2 833.5,330.7 833.8,327.0 834.1,325.6 834.4,326.6 834.7,331.9 835.0,327.1 835.3,341.0 835.5,332.9 835.8,333.2 836.1,334.5 836.4,326.2 836.7,325.6 837.0,329.3 837.2,332.6 837.5,332.4 837.8,336.7 838.1,335.6 838.4,334.2 838.7,334.5 839.0,330.9 839.2,333.2 839.5,328.6 839.8,327.9 840.1,333.3 840.4,322.9 840.7,335.0 841.0,336.8 841.2,327.3 841.5,332.2 841.8,329.8 842.1,325.2 842.4,330.5 842.7,331.0 842.9,332.9 843.2,327.5 843.5,329.3 843.8,326.2 844.1,332.6 844.4,328.1 844.7,331.9 844.9,325.7 845.2,328.9 845.5,324.9 845.8,325.5 846.1,333.0 846.4,327.9 846.6,328.3 846.9,331.7 847.2,325.6 847.5,336.7 847.8,325.9 848.1,327.6 848.4,337.9 848.6,322.5 848.9,336.4 849.2,331.0 849.5,331.6 849.8,325.4 850.1,330.3 850.4,324.6 850.6,333.6 850.9,328.6 851.2,327.0 851.5,327.6 851.8,328.9 852.1,333.3 852.3,330.9 852.6,326.3 852.9,325.8 853.2,325.1 853.5,332.4 853.8,331.1 854.1,324.7 854.3,322.6 854.6,328.9 854.9,326.8 855.2,331.1 855.5,328.5 855.8,330.5 856.0,332.1 856.3,333.0 856.6,327.9 856.9,331.6 857.2,326.4 857.5,323.7 857.8,329.4 858.0,333.2 858.3,334.0 858.6,328.0 858.9,321.3 859.2,329.4 859.5,327.2 859.8,330.4 860.0,332.0 860.3,325.8 860.6,324.4 860.9,325.4 861.2,323.9 861.5,322.3 861.7,326.9 862.0,322.6 862.3,324.1 862.6,323.5 862.9,321.9 863.2,326.5 863.5,321.7 863.7,322.9 864.0,326.2 864.3,321.8 864.6,315.8 864.9,319.5 865.2,319.0 865.4,323.2 865.7,327.1 866.0,320.2 866.3,318.0 866.6,324.1 866.9,313.4 867.2,316.6 867.4,315.9 867.7,311.9 868.0,310.0 868.3,311.1 868.6,317.8 868.9,314.7 869.1,311.1 869.4,316.8 869.7,321.3 870.0,326.1 870.3,322.9 870.6,321.2 870.9,327.0 871.1,325.5 871.4,323.0 871.7,320.1 872.0,323.7 872.3,327.8 872.6,319.9 872.9,318.3 873.1,327.3 873.4,319.5 873.7,320.9 874.0,325.7 874.3,326.0 874.6,327.6 874.8,328.5 875.1,330.3 875.4,328.1 875.7,325.6 876.0,318.0 876.3,334.4 876.6,332.9 876.8,332.5 877.1,330.2 877.4,327.1 877.7,332.6 878.0,330.6 878.3,325.7 878.5,335.2 878.8,325.7 879.1,329.7 879.4,338.3 879.7,328.3 880.0,332.2 880.3,335.6 880.5,331.4 880.8,325.8 881.1,329.3 881.4,330.8 881.7,325.0 882.0,336.2 882.3,331.7 882.5,333.0 882.8,331.0 883.1,331.3 883.4,328.2 883.7,323.8 884.0,331.9 884.2,329.3 884.5,335.1 884.8,324.6 885.1,329.7 885.4,337.5 885.7,324.0 886.0,324.7 886.2,330.2 886.5,335.9 886.8,325.0 887.1,329.9 887.4,329.1 887.7,327.8 887.9,329.1 888.2,334.9 888.5,330.9 888.8,325.5 889.1,328.4 889.4,331.3 889.7,325.7 889.9,328.6 890.2,329.8 890.5,323.5 890.8,338.7 891.1,325.5 891.4,332.0 891.7,331.1 891.9,329.5 892.2,336.4 892.5,332.0 892.8,328.5 893.1,336.1 893.4,333.7 893.6,327.6 893.9,325.6 894.2,334.7 894.5,330.7 894.8,325.5 895.1,333.1 895.4,325.4 895.6,328.1 895.9,327.5 896.2,323.0 896.5,333.0 896.8,341.6 897.1,332.7 897.3,331.7 897.6,329.1 897.9,329.8 898.2,331.1 898.5,332.5 898.8,328.2 899.1,330.4 899.3,329.5 899.6,332.5 899.9,334.0 900.2,334.7 900.5,328.9 900.8,328.8 901.1,333.3 901.3,329.7 901.6,329.8 901.9,332.4 902.2,332.0 902.5,335.5 902.8,325.7 903.0,334.5 903.3,328.3 903.6,332.5 903.9,324.8 904.2,329.1 904.5,327.1 904.8,336.1 905.0,325.6 905.3,333.5 905.6,326.0 905.9,324.7 906.2,330.1 906.5,333.0 906.7,328.7 907.0,331.2 907.3,329.9 907.6,328.7 907.9,334.3 908.2,329.0 908.5,332.3 908.7,324.5 909.0,328.2 909.3,332.5 909.6,327.1 909.9,320.7 910.2,331.7 910.5,331.1 910.7,327.8 911.0,329.4 911.3,327.8 911.6,330.7 911.9,333.6 912.2,330.8 912.4,329.5 912.7,328.3 913.0,329.8 913.3,328.7 913.6,334.6 913.9,327.1 914.2,329.0 914.4,332.7 914.7,332.7 915.0,332.4 915.3,329.8 915.6,332.2 915.9,325.9 916.1,325.4 916.4,326.3 916.7,332.5 917.0,336.2 917.3,329.3 917.6,328.8 917.9,329.8 918.1,337.8 918.4,331.7 918.7,331.3 919.0,328.7 919.3,332.7 919.6,335.8 919.9,331.5 920.1,327.6 920.4,335.5 920.7,330.3 921.0,337.0 921.3,326.1 921.6,329.3 921.8,330.7 922.1,322.9 922.4,329.7 922.7,331.6 923.0,328.7 923.3,330.7 923.6,329.7 923.8,325.9 924.1,331.9 924.4,326.4 924.7,328.2 925.0,326.7 925.3,332.2 925.5,328.2 925.8,328.3 926.1,322.2 926.4,329.5 926.7,334.6 927.0,323.0 927.3,332.5 927.5,331.1 927.8,324.8 928.1,330.0 928.4,335.2 928.7,331.7 929.0,333.1 929.3,336.0 929.5,330.6 929.8,335.2 930.1,327.2 930.4,328.6 930.7,337.4 931.0,337.1 931.2,335.5 931.5,326.3 931.8,331.2 932.1,328.7 932.4,339.4 932.7,327.1 933.0,327.5 933.2,330.1 933.5,333.7 933.8,330.4 934.1,331.5 934.4,333.8 934.7,332.8 934.9,325.6 935.2,327.9 935.5,338.8 935.8,332.7 936.1,339.3 936.4,337.8 936.7,336.3 936.9,332.2 937.2,337.5 937.5,329.8 937.8,339.7 938.1,333.3 938.4,333.1 938.7,329.2 938.9,328.3 939.2,329.4 939.5,328.2 939.8,326.8 940.1,325.9 940.4,330.7 940.6,334.5 940.9,337.4 941.2,333.0 941.5,329.7 941.8,332.6 942.1,336.8 942.4,330.9 942.6,334.3 942.9,332.0 943.2,331.2 943.5,328.6 943.8,333.5 944.1,327.7 944.3,327.1 944.6,332.2 944.9,334.6 945.2,334.5 945.5,334.2 945.8,329.9 946.1,330.5 946.3,335.3 946.6,338.8 946.9,320.8 947.2,335.5 947.5,331.7 947.8,330.6 948.1,327.9 948.3,328.2 948.6,325.9 948.9,331.4 949.2,326.6 949.5,329.5 949.8,324.4 950.0,334.5 950.3,332.5 950.6,325.4 950.9,331.5 951.2,328.2 951.5,326.3 951.8,329.8 952.0,332.6 952.3,335.0 952.6,330.3 952.9,333.6 953.2,331.6 953.5,331.6 953.7,332.6 954.0,323.7 954.3,327.2 954.6,334.3 954.9,323.5 955.2,325.3 955.5,335.6 955.7,324.6 956.0,328.9 956.3,329.5 956.6,327.4 956.9,332.1 957.2,331.9 957.4,326.1 957.7,335.6 958.0,326.0 958.3,327.6 958.6,328.9 958.9,330.4 959.2,325.7 959.4,331.0 959.7,321.9 960.0,328.5 960.3,327.1 960.6,328.0 960.9,330.5 961.2,331.8 961.4,328.1 961.7,331.0 962.0,325.3 962.3,329.6 962.6,334.5 962.9,328.3 963.1,329.7 963.4,330.7 963.7,333.8 964.0,332.1 964.3,330.0 964.6,326.8 964.9,331.3 965.1,319.9 965.4,331.8 965.7,327.4 966.0,332.5 966.3,329.9 966.6,335.1 966.8,327.7 967.1,322.7 967.4,330.2 967.7,328.3 968.0,329.8 968.3,334.7 968.6,326.9 968.8,332.9 969.1,333.7 969.4,334.4 969.7,323.0 970.0,331.1 970.3,328.0 970.6,329.7 970.8,327.6 971.1,329.4 971.4,334.2 971.7,337.2 972.0,333.4 972.3,326.4 972.5,335.7 972.8,326.5 973.1,329.9 973.4,335.6 973.7,329.3 974.0,334.3 974.3,330.8 974.5,327.7 974.8,332.9 975.1,330.3 975.4,339.0 975.7,339.4 976.0,338.5 976.2,329.1 976.5,339.9 976.8,334.2 977.1,334.9 977.4,333.8 977.7,331.0 978.0,333.5 978.2,336.2 978.5,338.6 978.8,334.9 979.1,332.8 979.4,330.9 979.7,331.3 980.0,338.4 980.2,334.8 980.5,332.9 980.8,325.8 981.1,325.2 981.4,334.1 981.7,333.7 981.9,335.3 982.2,331.8 982.5,328.5 982.8,324.5 983.1,327.4 983.4,322.1 983.7,331.7 983.9,332.3 984.2,335.6 984.5,323.9 984.8,325.4 985.1,332.9 985.4,331.9 985.6,323.4 985.9,328.3 986.2,331.3 986.5,329.6 986.8,332.5 987.1,331.4 987.4,329.4 987.6,332.9 987.9,331.4 988.2,336.1 988.5,326.7 988.8,331.3 989.1,329.7 989.4,331.5 989.6,333.9 989.9,334.9 990.2,324.8 990.5,336.9 990.8,334.7 991.1,334.6 991.3,332.9 991.6,336.1 991.9,334.2 992.2,326.1 992.5,330.2 992.8,331.8 993.1,331.4 993.3,331.2 993.6,335.1 993.9,328.9 994.2,330.4 994.5,329.7 994.8,333.3 995.0,335.2 995.3,330.5 995.6,335.4 995.9,332.2 996.2,339.5 996.5,326.4 996.8,334.6 997.0,338.9 997.3,333.6 997.6,331.0 997.9,331.9 998.2,337.1 998.5,333.1 998.8,338.9 999.0,335.2 999.3,333.0 999.6,333.4 999.9,336.6 1000.2,338.5 1000.5,331.9 1000.7,330.5 1001.0,330.5 1001.3,336.5 1001.6,341.3"/>
<polyline fill="none" stroke="#ff0000" stroke-width="1.8" stroke-linejoin="miter" points="90.4,382.5 90.7,398.8 91.0,403.2 91.3,393.4 91.5,386.2 91.8,386.1 92.1,381.0 92.4,393.4 92.7,380.9 93.0,389.1 93.2,380.3 93.5,390.9 93.8,378.1 94.1,386.3 94.4,382.4 94.7,394.0 95.0,384.8 95.2,386.5 95.5,395.3 95.8,380.7 96.1,380.1 96.4,388.0 96.7,381.8 97.0,399.7 97.2,389.5 97.5,390.2 97.8,386.2 98.1,367.5 98.4,396.4 98.7,386.9 98.9,374.0 99.2,380.0 99.5,386.8 99.8,394.9 100.1,388.8 100.4,388.8 100.7,388.5 100.9,380.3 101.2,381.8 101.5,386.3 101.8,377.3 102.1,386.4 102.4,390.7 102.6,370.6 102.9,384.8 103.2,384.6 103.5,387.1 103.8,398.1 104.1,377.4 104.4,399.4 104.6,391.2 104.9,403.2 105.2,384.4 105.5,389.4 105.8,386.3 106.1,390.5 106.4,381.3 106.6,382.1 106.9,386.2 107.2,391.6 107.5,378.6 107.8,385.0 108.1,383.0 108.3,388.9 108.6,392.3 108.9,376.8 109.2,379.8 109.5,383.9 109.8,379.3 110.1,395.2 110.3,396.8 110.6,390.3 110.9,388.5 111.2,377.6 111.5,378.4 111.8,387.5 112.0,394.4 112.3,382.2 112.6,386.4 112.9,395.2 113.2,396.1 113.5,378.1 113.8,386.7 114.0,390.0 114.3,374.2 114.6,382.1 114.9,386.6 115.2,382.0 115.5,389.1 115.8,383.1 116.0,374.3 116.3,377.4 116.6,371.6 116.9,377.0 117.2,389.7 117.5,387.7 117.7,389.2 118.0,394.4 118.3,378.2 118.6,382.4 118.9,386.5 119.2,396.6 119.5,387.1 119.7,384.1 120.0,386.6 120.3,378.2 120.6,370.7 120.9,386.5 121.2,380.0 121.4,385.3 121.7,373.9 122.0,375.3 122.3,385.9 122.6,381.8 122.9,386.4 123.2,375.4 123.4,380.2 123.7,384.2 124.0,385.5 124.3,379.3 124.6,381.6 124.9,379.3 125.2,379.1 125.4,379.9 125.7,383.6 126.0,371.9 126.3,380.8 126.6,374.6 126.9,381.7 127.1,380.2 127.4,383.2 127.7,380.5 128.0,381.3 128.3,373.2 128.6,391.6 128.9,373.3 129.1,369.8 129.4,384.6 129.7,386.1 130.0,381.5 130.3,379.8 130.6,374.4 130.8,394.3 131.1,370.6 131.4,397.5 131.7,371.7 132.0,375.6 132.3,381.0 132.6,379.9 132.8,386.4 133.1,377.8 133.4,381.4 133.7,373.5 134.0,392.2 134.3,382.6 134.6,379.9 134.8,385.3 135.1,391.5 135.4,388.1 135.7,381.1 136.0,387.1 136.3,388.4 136.5,389.1 136.8,384.3 137.1,390.9 137.4,379.0 137.7,387.1 138.0,380.8 138.3,386.6 138.5,382.2 138.8,390.4 139.1,383.1 139.4,393.5 139.7,379.3 140.0,392.2 140.2,379.6 140.5,368.7 140.8,378.4 141.1,390.7 141.4,386.2 141.7,388.1 142.0,382.2 142.2,387.1 142.5,378.2 142.8,396.4 143.1,395.5 143.4,388.0 143.7,381.2 143.9,380.8 144.2,389.2 144.5,387.5 144.8,379.1 145.1,389.9 145.4,390.7 145.7,388.6 145.9,387.4 146.2,386.2 146.5,384.5 146.8,382.4 147.1,380.2 147.4,392.3 147.7,373.8 147.9,384.8 148.2,389.7 148.5,399.3 148.8,381.9 149.1,393.4 149.4,393.0 149.6,391.0 149.9,397.3 150.2,374.4 150.5,392.3 150.8,385.5 151.1,389.5 151.4,386.0 151.6,381.7 151.9,375.2 152.2,390.7 152.5,386.5 152.8,379.4 153.1,387.5 153.3,381.0 153.6,382.5 153.9,389.4 154.2,393.2 154.5,375.0 154.8,387.1 155.1,391.4 155.3,378.7 155.6,384.8 155.9,388.7 156.2,392.5 156.5,378.4 156.8,374.9 157.1,381.3 157.3,381.8 157.6,384.7 157.9,385.0 158.2,371.5 158.5,389.1 158.8,373.1 159.0,386.4 159.3,387.4 159.6,386.8 159.9,386.0 160.2,386.4 160.5,378.9 160.8,378.7 161.0,398.6 161.3,395.1 161.6,393.8 161.9,390.5 162.2,374.6 162.5,397.9 162.7,384.1 163.0,385.6 163.3,391.1 163.6,381.6 163.9,395.0 164.2,370.1 164.5,394.6 164.7,389.9 165.0,380.7 165.3,392.1 165.6,394.2 165.9,391.8 166.2,392.7 166.5,384.6 166.7,393.3 167.0,393.3 167.3,394.8 167.6,390.6 167.9,374.9 168.2,389.6 168.4,377.2 168.7,380.7 169.0,385.0 169.3,386.9 169.6,383.8 169.9,387.9 170.2,389.0 170.4,386.7 170.7,385.9 171.0,387.7 171.3,389.8 171.6,378.9 171.9,374.9 172.1,392.0 172.4,385.6 172.7,369.1 173.0,392.1 173.3,392.2 173.6,372.1 173.9,376.4 174.1,380.8 174.4,375.9 174.7,379.8 175.0,383.5 175.3,390.4 175.6,366.8 175.9,384.0 176.1,390.5 176.4,366.4 176.7,384.7 177.0,381.7 177.3,378.0 177.6,386.7 177.8,390.2 178.1,388.3 178.4,394.4 178.7,375.4 179.0,366.1 179.3,376.2 179.6,380.6 179.8,387.2 180.1,382.7 180.4,374.8 180.7,387.9 181.0,381.5 181.3,379.9 181.5,376.7 181.8,380.6 182.1,381.6 182.4,377.7 182.7,363.0 183.0,371.3 183.3,380.1 183.5,387.7 183.8,385.0 184.1,384.6 184.4,388.9 184.7,381.8 185.0,386.3 185.3,384.4 185.5,379.4 185.8,371.9 186.1,367.1 186.4,381.4 186.7,370.3 187.0,378.3 187.2,384.2 187.5,374.7 187.8,386.0 188.1,380.6 188.4,374.4 188.7,384.6 189.0,385.8 189.2,377.8 189.5,384.6 189.8,373.7 190.1,382.2 190.4,383.4 190.7,374.4 190.9,382.0 191.2,391.0 191.5,376.7 191.8,373.1 192.1,370.9 192.4,375.1 192.7,372.7 192.9,368.7 193.2,380.4 193.5,381.8 193.8,372.8 194.1,379.8 194.4,385.6 194.7,381.7 194.9,380.6 195.2,384.0 195.5,375.0 195.8,385.6 196.1,392.4 196.4,375.4 196.6,367.2 196.9,375.2 197.2,373.4 197.5,381.7 197.8,388.4 198.1,384.1 198.4,391.8 198.6,383.2 198.9,380.5 199.2,366.8 199.5,382.4 199.8,375.3 200.1,375.9 200.3,377.6 200.6,390.3 200.9,385.2 201.2,379.5 201.5,369.7 201.8,376.5 202.1,377.7 202.3,385.5 202.6,383.5 202.9,383.6 203.2,373.9 203.5,386.9 203.8,399.0 204.1,371.6 204.3,374.4 204.6,382.0 204.9,388.4 205.2,383.8 205.5,382.9 205.8,392.4 206.0,375.3 206.3,368.8 206.6,372.4 206.9,388.1 207.2,389.0 207.5,380.0 207.8,372.8 208.0,376.5 208.3,384.8 208.6,388.7 208.9,377.9 209.2,376.4 209.5,375.7 209.7,377.7 210.0,386.2 210.3,382.9 210.6,384.0 210.9,382.3 211.2,382.8 211.5,372.7 211.7,374.2 212.0,383.6 212.3,383.8 212.6,388.2 212.9,380.3 213.2,374.8 213.5,379.1 213.7,378.7 214.0,383.8 214.3,379.0 214.6,383.6 214.9,383.8 215.2,383.8 215.4,384.2 215.7,373.7 216.0,388.2 216.3,391.9 216.6,386.7 216.9,392.1 217.2,384.5 217.4,378.3 217.7,385.7 218.0,382.0 218.3,381.5 218.6,393.2 218.9,376.6 219.1,390.0 219.4,378.7 219.7,370.7 220.0,387.1 220.3,382.8 220.6,383.4 220.9,383.6 221.1,389.0 221.4,384.1 221.7,379.8 222.0,380.8 222.3,384.2 222.6,377.4 222.9,383.4 223.1,367.2 223.4,379.6 223.7,380.0 224.0,384.6 224.3,372.5 224.6,378.1 224.8,382.2 225.1,397.8 225.4,380.2 225.7,382.9 226.0,375.3 226.3,393.0 226.6,377.4 226.8,377.4 227.1,380.1 227.4,370.6 227.7,372.7 228.0,377.2 228.3,374.4 228.5,386.3 228.8,376.8 229.1,394.9 229.4,382.2 229.7,375.8 230.0,381.8 230.3,385.4 230.5,381.0 230.8,384.0 231.1,379.7 231.4,376.2 231.7,380.8 232.0,392.9 232.2,379.0 232.5,381.3 232.8,371.9 233.1,377.6 233.4,384.1 233.7,379.7 234.0,389.5 234.2,388.2 234.5,378.9 234.8,380.9 235.1,385.7 235.4,383.5 235.7,378.8 236.0,368.4 236.2,388.9 236.5,379.7 236.8,380.1 237.1,374.0 237.4,387.8 237.7,377.0 237.9,378.5 238.2,364.0 238.5,373.8 238.8,376.2 239.1,379.0 239.4,380.9 239.7,375.1 239.9,383.0 240.2,375.7 240.5,375.5 240.8,376.7 241.1,366.0 241.4,362.7 241.6,389.2 241.9,366.2 242.2,373.8 242.5,381.7 242.8,373.8 243.1,385.7 243.4,365.9 243.6,379.7 243.9,383.1 244.2,393.5 244.5,389.0 244.8,374.9 245.1,385.3 245.4,381.5 245.6,371.8 245.9,376.2 246.2,386.2 246.5,377.2 246.8,372.6 247.1,374.4 247.3,369.9 247.6,367.4 247.9,379.6 248.2,379.8 248.5,383.2 248.8,366.1 249.1,368.6 249.3,378.3 249.6,376.4 249.9,374.2 250.2,367.5 250.5,373.2 250.8,366.1 251.0,385.2 251.3,379.9 251.6,369.1 251.9,383.5 252.2,368.9 252.5,379.4 252.8,376.8 253.0,373.3 253.3,384.7 253.6,365.4 253.9,374.0 254.2,374.2 254.5,364.9 254.8,366.8 255.0,377.5 255.3,378.6 255.6,370.6 255.9,380.8 256.2,380.4 256.5,382.5 256.7,376.0 257.0,377.1 257.3,381.7 257.6,374.2 257.9,372.4 258.2,370.0 258.5,381.1 258.7,386.0 259.0,366.0 259.3,376.1 259.6,382.6 259.9,387.5 260.2,379.8 260.4,372.9 260.7,382.8 261.0,393.2 261.3,381.0 261.6,383.3 261.9,390.0 262.2,369.6 262.4,384.4 262.7,388.8 263.0,385.8 263.3,380.7 263.6,377.3 263.9,376.1 264.2,371.2 264.4,376.3 264.7,371.8 265.0,378.6 265.3,377.7 265.6,375.2 265.9,376.2 266.1,379.0 266.4,370.7 266.7,382.3 267.0,379.4 267.3,381.8 267.6,376.0 267.9,376.7 268.1,378.8 268.4,378.5 268.7,375.4 269.0,375.7 269.3,374.5 269.6,375.5 269.8,373.2 270.1,373.0 270.4,371.8 270.7,386.8 271.0,374.1 271.3,377.7 271.6,372.3 271.8,379.4 272.1,386.2 272.4,374.1 272.7,379.6 273.0,378.1 273.3,383.9 273.6,377.9 273.8,377.6 274.1,376.6 274.4,365.8 274.7,383.9 275.0,387.7 275.3,372.1 275.5,382.4 275.8,376.9 276.1,385.7 276.4,373.3 276.7,379.2 277.0,384.6 277.3,379.8 277.5,377.7 277.8,376.2 278.1,372.8 278.4,377.5 278.7,370.9 279.0,387.2 279.2,380.7 279.5,376.5 279.8,368.4 280.1,384.4 280.4,386.4 280.7,381.2 281.0,384.1 281.2,384.4 281.5,379.1 281.8,378.0 282.1,380.6 282.4,387.8 282.7,376.9 283.0,371.0 283.2,381.6 283.5,381.7 283.8,380.6 284.1,382.3 284.4,374.2 284.7,376.2 284.9,379.0 285.2,380.9 285.5,384.4 285.8,385.6 286.1,382.3 286.4,380.1 286.7,374.9 286.9,377.8 287.2,371.0 287.5,376.0 287.8,382.7 288.1,383.4 288.4,373.7 288.6,386.9 288.9,365.6 289.2,382.9 289.5,379.8 289.8,378.9 290.1,382.4 290.4,377.7 290.6,393.9 290.9,377.8 291.2,378.8 291.5,382.9 291.8,369.4 292.1,380.6 292.4,373.0 292.6,389.8 292.9,378.7 293.2,380.9 293.5,371.0 293.8,392.5 294.1,371.2 294.3,372.6 294.6,376.8 294.9,367.5 295.2,372.9 295.5,378.2 295.8,386.9 296.1,387.0 296.3,373.2 296.6,376.6 296.9,383.8 297.2,386.7 297.5,374.3 297.8,377.6 298.0,379.0 298.3,379.7 298.6,377.2 298.9,389.4 299.2,377.1 299.5,385.5 299.8,381.5 300.0,396.8 300.3,387.1 300.6,366.6 300.9,382.0 301.2,365.8 301.5,386.3 301.8,376.4 302.0,365.4 302.3,372.1 302.6,376.1 302.9,386.9 303.2,378.7 303.5,381.0 303.7,373.9 304.0,374.9 304.3,368.7 304.6,375.1 304.9,375.7 305.2,376.7 305.5,371.8 305.7,375.3 306.0,373.6 306.3,377.6 306.6,372.0 306.9,372.0 307.2,370.0 307.4,371.0 307.7,373.3 308.0,368.6 308.3,382.5 308.6,381.1 308.9,377.0 309.2,379.5 309.4,367.2 309.7,371.0 310.0,372.2 310.3,376.8 310.6,380.6 310.9,381.2 311.2,367.1 311.4,376.2 311.7,384.0 312.0,375.7 312.3,380.6 312.6,367.5 312.9,378.6 313.1,377.0 313.4,366.3 313.7,384.0 314.0,387.7 314.3,384.3 314.6,376.9 314.9,378.0 315.1,374.5 315.4,382.3 315.7,381.0 316.0,386.8 316.3,377.3 316.6,382.7 316.8,374.9 317.1,371.4 317.4,375.4 317.7,369.5 318.0,369.1 318.3,379.0 318.6,378.4 318.8,368.6 319.1,367.6 319.4,371.9 319.7,368.2 320.0,377.5 320.3,370.8 320.5,364.5 320.8,367.5 321.1,375.7 321.4,386.3 321.7,376.6 322.0,364.6 322.3,367.7 322.5,374.7 322.8,372.7 323.1,374.8 323.4,386.9 323.7,367.4 324.0,367.8 324.3,373.8 324.5,374.3 324.8,375.4 325.1,379.3 325.4,373.7 325.7,380.5 326.0,374.6 326.2,375.6 326.5,361.8 326.8,367.0 327.1,369.8 327.4,376.1 327.7,367.4 328.0,365.0 328.2,366.1 328.5,381.8 328.8,360.8 329.1,371.7 329.4,370.3 329.7,379.2 329.9,374.3 330.2,367.7 330.5,375.3 330.8,378.3 331.1,367.6 331.4,359.2 331.7,362.3 331.9,370.6 332.2,363.7 332.5,371.3 332.8,377.9 333.1,371.9 333.4,384.8 333.7,369.7 333.9,362.6 334.2,371.9 334.5,377.1 334.8,361.6 335.1,373.8 335.4,381.8 335.6,372.6 335.9,383.4 336.2,361.9 336.5,375.7 336.8,361.3 337.1,361.2 337.4,363.3 337.6,380.1 337.9,375.3 338.2,382.6 338.5,367.9 338.8,362.3 339.1,379.0 339.3,368.6 339.6,362.8 339.9,377.6 340.2,378.9 340.5,366.5 340.8,372.2 341.1,374.4 341.3,364.1 341.6,364.5 341.9,371.4 342.2,380.1 342.5,362.5 342.8,374.2 343.1,372.5 343.3,369.9 343.6,367.3 343.9,363.1 344.2,373.2 344.5,368.0 344.8,352.3 345.0,371.2 345.3,363.9 345.6,368.4 345.9,383.0 346.2,371.9 346.5,355.8 346.8,366.9 347.0,362.2 347.3,376.7 347.6,348.0 347.9,374.0 348.2,370.6 348.5,368.0 348.7,373.3 349.0,382.7 349.3,358.2 349.6,367.4 349.9,370.8 350.2,371.3 350.5,369.6 350.7,374.6 351.0,372.4 351.3,368.7 351.6,359.0 351.9,376.1 352.2,381.4 352.5,379.3 352.7,374.1 353.0,379.0 353.3,360.8 353.6,375.9 353.9,372.5 354.2,369.3 354.4,377.1 354.7,367.9 355.0,366.2 355.3,361.6 355.6,355.8 355.9,364.7 356.2,379.3 356.4,379.8 356.7,363.1 357.0,368.1 357.3,377.1 357.6,359.8 357.9,363.5 358.1,356.9 358.4,377.0 358.7,361.8 359.0,363.5 359.3,365.6 359.6,360.1 359.9,382.9 360.1,373.6 360.4,380.1 360.7,352.5 361.0,371.6 361.3,365.6 361.6,359.6 361.9,368.0 362.1,378.7 362.4,376.1 362.7,365.3 363.0,386.6 363.3,377.1 363.6,364.4 363.8,364.5 364.1,366.1 364.4,370.1 364.7,367.3 365.0,366.7 365.3,377.6 365.6,367.1 365.8,372.5 366.1,367.6 366.4,370.3 366.7,380.1 367.0,372.5 367.3,377.7 367.5,372.2 367.8,380.2 368.1,372.6 368.4,380.4 368.7,364.3 369.0,380.2 369.3,375.7 369.5,366.4 369.8,367.8 370.1,358.8 370.4,370.0 370.7,372.7 371.0,367.7 371.3,377.8 371.5,356.3 371.8,368.9 372.1,361.9 372.4,366.5 372.7,375.4 373.0,369.5 373.2,379.4 373.5,367.1 373.8,365.1 374.1,367.5 374.4,359.6 374.7,363.6 375.0,368.8 375.2,375.3 375.5,362.4 375.8,363.0 376.1,358.3 376.4,359.4 376.7,368.1 376.9,368.7 377.2,370.4 377.5,366.4 377.8,375.0 378.1,356.3 378.4,367.6 378.7,372.0 378.9,365.4 379.2,370.3 379.5,365.8 379.8,364.7 380.1,368.1 380.4,362.5 380.7,366.5 380.9,370.5 381.2,359.0 381.5,370.8 381.8,374.0 382.1,377.2 382.4,364.0 382.6,373.9 382.9,353.9 383.2,357.2 383.5,367.0 383.8,359.2 384.1,360.6 384.4,360.3 384.6,365.2 384.9,363.2 385.2,361.4 385.5,367.8 385.8,364.7 386.1,368.5 386.3,370.7 386.6,372.5 386.9,367.3 387.2,365.9 387.5,365.9 387.8,361.3 388.1,371.6 388.3,367.9 388.6,375.1 388.9,369.8 389.2,364.1 389.5,373.0 389.8,364.9 390.1,366.1 390.3,369.4 390.6,367.6 390.9,360.5 391.2,370.2 391.5,367.8 391.8,364.8 392.0,363.3 392.3,366.1 392.6,354.0 392.9,372.9 393.2,346.9 393.5,356.8 393.8,356.9 394.0,366.2 394.3,363.7 394.6,365.9 394.9,355.1 395.2,371.7 395.5,369.8 395.7,349.4 396.0,365.2 396.3,350.7 396.6,360.3 396.9,368.0 397.2,364.5 397.5,355.5 397.7,360.3 398.0,372.1 398.3,365.9 398.6,369.7 398.9,353.1 399.2,368.3 399.5,366.0 399.7,358.0 400.0,374.0 400.3,364.0 400.6,370.1 400.9,360.4 401.2,366.5 401.4,367.2 401.7,362.6 402.0,364.0 402.3,365.3 402.6,362.5 402.9,354.5 403.2,365.5 403.4,362.5 403.7,365.2 404.0,358.0 404.3,374.2 404.6,370.2 404.9,373.7 405.1,377.3 405.4,371.5 405.7,362.8 406.0,356.3 406.3,373.1 406.6,367.3 406.9,371.3 407.1,374.8 407.4,364.6 407.7,359.4 408.0,368.7 408.3,363.0 408.6,360.3 408.9,368.8 409.1,364.6 409.4,369.9 409.7,359.1 410.0,365.9 410.3,365.1 410.6,366.8 410.8,363.1 411.1,372.0 411.4,357.8 411.7,371.0 412.0,375.8 412.3,368.6 412.6,369.7 412.8,364.3 413.1,371.7 413.4,373.4 413.7,372.0 414.0,373.7 414.3,375.2 414.5,373.3 414.8,359.7 415.1,364.6 415.4,371.4 415.7,386.5 416.0,379.2 416.3,371.8 416.5,370.4 416.8,368.5 417.1,375.1 417.4,368.8 417.7,370.9 418.0,364.5 418.2,367.2 418.5,363.3 418.8,364.5 419.1,367.3 419.4,377.3 419.7,371.9 420.0,376.5 420.2,366.7 420.5,371.7 420.8,366.1 421.1,369.0 421.4,369.3 421.7,359.7 422.0,370.7 422.2,362.2 422.5,373.0 422.8,364.7 423.1,357.1 423.4,357.3 423.7,355.8 423.9,368.8 424.2,348.4 424.5,357.8 424.8,365.1 425.1,365.0 425.4,367.2 425.7,373.1 425.9,364.5 426.2,381.1 426.5,379.0 426.8,371.8 427.1,379.7 427.4,371.9 427.6,368.5 427.9,363.7 428.2,367.2 428.5,375.3 428.8,373.6 429.1,381.7 429.4,381.3 429.6,376.8 429.9,371.5 430.2,382.0 430.5,370.0 430.8,354.5 431.1,368.2 431.4,372.9 431.6,373.6 431.9,373.8 432.2,375.3 432.5,354.6 432.8,385.7 433.1,374.8 433.3,372.2 433.6,359.6 433.9,378.0 434.2,366.4 434.5,360.6 434.8,377.8 435.1,377.9 435.3,373.9 435.6,369.2 435.9,378.2 436.2,376.1 436.5,378.2 436.8,378.9 437.0,366.6 437.3,379.3 437.6,368.4 437.9,379.7 438.2,374.4 438.5,373.7 438.8,387.6 439.0,378.7 439.3,378.7 439.6,382.7 439.9,392.0 440.2,359.9 440.5,381.8 440.8,379.2 441.0,386.5 441.3,379.7 441.6,379.6 441.9,384.0 442.2,380.4 442.5,375.3 442.7,381.4 443.0,393.2 443.3,385.4 443.6,367.5 443.9,381.3 444.2,376.2 444.5,388.2 444.7,375.5 445.0,382.2 445.3,386.0 445.6,388.2 445.9,379.5 446.2,385.1 446.4,397.5 446.7,379.9 447.0,384.4 447.3,379.1 447.6,383.5 447.9,387.9 448.2,385.4 448.4,389.3 448.7,377.9 449.0,386.7 449.3,384.2 449.6,369.1 449.9,393.3 450.2,387.6 450.4,383.5 450.7,393.8 451.0,390.9 451.3,373.6 451.6,390.9 451.9,402.4 452.1,390.3 452.4,393.6 452.7,378.4 453.0,379.1 453.3,379.8 453.6,394.9 453.9,393.9 454.1,372.8 454.4,393.3 454.7,374.8 455.0,378.7 455.3,386.4 455.6,382.4 455.8,386.1 456.1,387.3 456.4,392.9 456.7,382.5 457.0,381.1 457.3,380.6 457.6,399.7 457.8,391.9 458.1,392.0 458.4,388.0 458.7,386.0 459.0,393.2 459.3,383.9 459.6,374.9 459.8,374.4 460.1,399.7 460.4,377.8 460.7,380.0 461.0,383.2 461.3,390.7 461.5,377.2 461.8,382.8 462.1,386.5 462.4,376.3 462.7,384.7 463.0,391.1 463.3,385.9 463.5,385.0 463.8,387.6 464.1,384.2 464.4,381.9 464.7,381.4 465.0,389.9 465.2,374.5 465.5,377.3 465.8,389.8 466.1,392.4 466.4,385.6 466.7,379.7 467.0,375.0 467.2,388.8 467.5,386.3 467.8,387.4 468.1,388.0 468.4,378.9 468.7,380.8 469.0,385.0 469.2,384.6 469.5,375.8 469.8,378.2 470.1,384.9 470.4,395.0 470.7,401.3 470.9,388.0 471.2,384.3 471.5,388.2 471.8,386.6 472.1,380.6 472.4,366.3 472.7,386.7 472.9,381.4 473.2,384.6 473.5,378.4 473.8,382.2 474.1,385.0 474.4,375.3 474.6,379.0 474.9,387.2 475.2,388.1 475.5,371.6 475.8,388.0 476.1,391.1 476.4,385.4 476.6,385.6 476.9,383.5 477.2,385.1 477.5,379.5 477.8,390.8 478.1,382.4 478.4,373.2 478.6,385.8 478.9,388.1 479.2,384.8 479.5,375.7 479.8,386.0 480.1,363.5 480.3,392.6 480.6,385.0 480.9,369.5 481.2,367.5 481.5,396.3 481.8,382.1 482.1,375.7 482.3,382.5 482.6,378.8 482.9,378.9 483.2,382.2 483.5,382.1 483.8,373.2 484.0,382.3 484.3,381.8 484.6,373.9 484.9,386.9 485.2,384.0 485.5,373.4 485.8,392.2 486.0,383.6 486.3,388.9 486.6,374.0 486.9,375.3 487.2,379.0 487.5,373.7 487.8,375.6 488.0,366.4 488.3,390.4 488.6,379.1 488.9,384.2 489.2,386.8 489.5,373.5 489.7,387.8 490.0,355.7 490.3,369.4 490.6,367.6 490.9,370.7 491.2,361.9 491.5,376.4 491.7,384.1 492.0,370.4 492.3,372.6 492.6,350.9 492.9,361.2 493.2,369.4 493.4,360.7 493.7,367.9 494.0,362.0 494.3,367.5 494.6,353.7 494.9,368.1 495.2,375.0 495.4,369.0 495.7,379.9 496.0,362.3 496.3,369.7 496.6,352.3 496.9,369.9 497.2,366.1 497.4,359.9 497.7,370.7 498.0,352.3 498.3,359.2 498.6,363.4 498.9,352.7 499.1,352.6 499.4,368.1 499.7,357.1 500.0,351.3 500.3,355.5 500.6,354.4 500.9,352.7 501.1,361.4 501.4,349.9 501.7,346.4 502.0,358.6 502.3,357.6 502.6,368.0 502.8,347.7 503.1,353.7 503.4,366.5 503.7,361.2 504.0,353.9 504.3,351.9 504.6,363.9 504.8,358.0 505.1,351.7 505.4,354.6 505.7,354.8 506.0,365.2 506.3,337.5 506.5,352.9 506.8,366.9 507.1,343.9 507.4,354.8 507.7,363.6 508.0,346.7 508.3,352.7 508.5,350.3 508.8,358.6 509.1,352.4 509.4,349.5 509.7,358.7 510.0,360.0 510.3,367.5 510.5,356.1 510.8,358.3 511.1,355.7 511.4,369.5 511.7,370.3 512.0,355.5 512.2,345.9 512.5,377.3 512.8,348.9 513.1,350.2 513.4,359.6 513.7,378.2 514.0,372.6 514.2,362.6 514.5,369.9 514.8,363.6 515.1,373.3 515.4,362.1 515.7,377.3 515.9,370.1 516.2,362.1 516.5,354.2 516.8,375.4 517.1,371.4 517.4,361.2 517.7,362.2 517.9,365.8 518.2,367.4 518.5,369.2 518.8,370.9 519.1,371.7 519.4,368.3 519.7,387.1 519.9,371.4 520.2,369.3 520.5,378.0 520.8,368.7 521.1,378.1 521.4,376.5 521.6,382.9 521.9,369.7 522.2,363.8 522.5,384.9 522.8,376.1 523.1,389.4 523.4,383.0 523.6,375.4 523.9,381.1 524.2,371.3 524.5,373.0 524.8,380.0 525.1,381.1 525.3,369.5 525.6,386.1 525.9,384.8 526.2,388.6 526.5,372.6 526.8,386.2 527.1,378.7 527.3,379.9 527.6,390.0 527.9,383.9 528.2,387.4 528.5,389.6 528.8,391.2 529.1,378.2 529.3,378.2 529.6,386.4 529.9,387.7 530.2,379.7 530.5,386.7 530.8,378.7 531.0,382.4 531.3,383.4 531.6,385.5 531.9,388.3 532.2,382.2 532.5,385.3 532.8,379.3 533.0,389.1 533.3,388.1 533.6,381.5 533.9,396.6 534.2,384.7 534.5,383.6 534.7,382.9 535.0,387.9 535.3,386.7 535.6,382.1 535.9,388.9 536.2,392.5 536.5,395.2 536.7,390.0 537.0,385.1 537.3,382.7 537.6,390.8 537.9,395.3 538.2,401.4 538.5,386.4 538.7,382.0 539.0,382.9 539.3,391.1 539.6,393.2 539.9,385.0 540.2,382.4 540.4,378.0 540.7,393.9 541.0,380.3 541.3,392.9 541.6,388.4 541.9,377.6 542.2,382.4 542.4,395.2 542.7,389.3 543.0,387.9 543.3,396.7 543.6,389.2 543.9,390.1 544.1,390.4 544.4,390.4 544.7,396.6 545.0,387.1 545.3,397.1 545.6,399.9 545.9,387.8 546.1,393.9 546.4,384.2 546.7,391.7 547.0,398.7 547.3,397.0 547.6,388.9 547.9,394.7 548.1,394.2 548.4,391.8 548.7,391.9 549.0,402.5 549.3,375.0 549.6,387.0 549.8,395.7 550.1,389.6 550.4,392.4 550.7,392.1 551.0,389.0 551.3,390.5 551.6,386.1 551.8,390.6 552.1,395.3 552.4,396.9 552.7,394.1 553.0,389.6 553.3,388.8 553.5,381.0 553.8,390.0 554.1,385.4 554.4,386.9 554.7,388.8 555.0,391.2 555.3,391.5 555.5,390.7 555.8,383.9 556.1,387.8 556.4,394.5 556.7,389.8 557.0,392.8 557.3,390.7 557.5,399.3 557.8,400.3 558.1,405.7 558.4,388.4 558.7,395.3 559.0,382.9 559.2,394.8 559.5,393.3 559.8,388.3 560.1,399.1 560.4,391.5 560.7,381.4 561.0,399.3 561.2,391.2 561.5,395.4 561.8,386.9 562.1,386.3 562.4,383.7 562.7,384.7 562.9,395.3 563.2,394.5 563.5,381.7 563.8,391.5 564.1,391.7 564.4,387.1 564.7,393.4 564.9,387.1 565.2,397.4 565.5,390.0 565.8,392.6 566.1,373.9 566.4,388.5 566.7,391.3 566.9,387.2 567.2,389.5 567.5,385.0 567.8,395.4 568.1,384.1 568.4,388.1 568.6,398.1 568.9,396.3 569.2,389.1 569.5,381.7 569.8,377.8 570.1,391.4 570.4,390.2 570.6,387.1 570.9,387.1 571.2,401.3 571.5,394.2 571.8,389.1 572.1,387.9 572.3,387.2 572.6,391.3 572.9,387.9 573.2,390.1 573.5,387.1 573.8,394.1 574.1,391.3 574.3,383.3 574.6,407.1 574.9,391.9 575.2,387.7 575.5,383.4 575.8,391.2 576.1,387.4 576.3,401.2 576.6,394.5 576.9,388.1 577.2,381.3 577.5,396.6 577.8,382.0 578.0,394.7 578.3,392.6 578.6,375.4 578.9,389.9 579.2,400.8 579.5,385.5 579.8,377.1 580.0,379.8 580.3,389.0 580.6,390.7 580.9,393.6 581.2,389.9 581.5,382.4 581.7,385.1 582.0,386.2 582.3,386.5 582.6,380.0 582.9,391.2 583.2,393.9 583.5,386.8 583.7,388.6 584.0,380.4 584.3,389.3 584.6,383.5 584.9,383.2 585.2,393.3 585.5,389.5 585.7,386.0 586.0,379.1 586.3,389.1 586.6,398.8 586.9,391.1 587.2,390.6 587.4,396.5 587.7,401.8 588.0,392.8 588.3,395.5 588.6,390.7 588.9,392.4 589.2,392.2 589.4,396.2 589.7,386.9 590.0,391.7 590.3,391.7 590.6,389.5 590.9,386.7 591.1,395.3 591.4,388.5 591.7,381.7 592.0,395.5 592.3,382.9 592.6,396.3 592.9,376.9 593.1,392.1 593.4,402.9 593.7,391.1 594.0,399.3 594.3,390.0 594.6,387.7 594.8,390.5 595.1,397.7 595.4,399.5 595.7,400.1 596.0,396.7 596.3,391.0 596.6,379.0 596.8,386.2 597.1,399.5 597.4,380.8 597.7,393.2 598.0,392.9 598.3,380.3 598.6,392.5 598.8,388.2 599.1,392.0 599.4,390.4 599.7,390.0 600.0,386.1 600.3,379.9 600.5,402.7 600.8,387.2 601.1,390.9 601.4,390.4 601.7,391.0 602.0,388.3 602.3,396.1 602.5,392.7 602.8,389.7 603.1,389.0 603.4,395.5 603.7,387.0 604.0,395.6 604.2,400.4 604.5,398.9 604.8,395.9 605.1,382.6 605.4,397.1 605.7,394.5 606.0,401.2 606.2,389.8 606.5,390.5 606.8,402.2 607.1,388.8 607.4,400.6 607.7,395.9 608.0,379.1 608.2,391.2 608.5,391.2 608.8,385.9 609.1,382.6 609.4,394.3 609.7,387.7 609.9,389.7 610.2,387.9 610.5,392.1 610.8,396.4 611.1,398.1 611.4,396.3 611.7,390.9 611.9,392.0 612.2,396.5 612.5,400.4 612.8,392.4 613.1,385.2 613.4,394.6 613.6,396.7 613.9,390.0 614.2,399.9 614.5,389.9 614.8,392.7 615.1,394.9 615.4,402.2 615.6,385.3 615.9,395.5 616.2,396.9 616.5,391.3 616.8,398.0 617.1,387.8 617.4,384.5 617.6,383.9 617.9,387.0 618.2,384.4 618.5,393.7 618.8,390.6 619.1,381.6 619.3,399.6 619.6,391.4 619.9,379.7 620.2,378.3 620.5,389.8 620.8,397.5 621.1,387.3 621.3,395.0 621.6,399.0 621.9,393.7 622.2,387.4 622.5,381.7 622.8,385.8 623.0,398.0 623.3,390.4 623.6,384.6 623.9,388.4 624.2,389.9 624.5,398.2 624.8,388.1 625.0,403.2 625.3,393.4 625.6,394.2 625.9,385.3 626.2,394.6 626.5,393.7 626.8,396.4 627.0,387.7 627.3,393.3 627.6,382.7 627.9,385.9 628.2,406.2 628.5,389.4 628.7,387.7 629.0,398.0 629.3,391.7 629.6,407.8 629.9,393.8 630.2,397.9 630.5,392.2 630.7,400.9 631.0,394.3 631.3,407.8 631.6,389.7 631.9,396.7 632.2,398.2 632.4,386.6 632.7,390.1 633.0,388.3 633.3,382.6 633.6,394.5 633.9,375.0 634.2,384.5 634.4,385.4 634.7,394.1 635.0,391.6 635.3,399.0 635.6,400.1 635.9,393.9 636.2,387.2 636.4,397.6 636.7,388.9 637.0,391.4 637.3,393.6 637.6,402.4 637.9,407.6 638.1,400.7 638.4,390.2 638.7,398.6 639.0,400.5 639.3,387.2 639.6,393.2 639.9,388.0 640.1,388.2 640.4,392.5 640.7,392.7 641.0,387.2 641.3,392.0 641.6,384.4 641.8,391.1 642.1,393.1 642.4,389.5 642.7,383.2 643.0,388.0 643.3,395.2 643.6,398.8 643.8,398.9 644.1,399.4 644.4,404.0 644.7,390.9 645.0,400.6 645.3,388.9 645.6,404.5 645.8,400.0 646.1,388.1 646.4,398.6 646.7,400.6 647.0,389.7 647.3,396.8 647.5,400.2 647.8,406.2 648.1,391.5 648.4,404.3 648.7,388.6 649.0,389.6 649.3,402.8 649.5,399.0 649.8,389.6 650.1,403.5 650.4,397.1 650.7,395.1 651.0,392.0 651.2,377.8 651.5,393.5 651.8,399.1 652.1,392.9 652.4,397.5 652.7,392.3 653.0,401.2 653.2,374.9 653.5,395.5 653.8,386.7 654.1,393.5 654.4,396.2 654.7,399.2 655.0,397.0 655.2,399.3 655.5,385.7 655.8,392.8 656.1,378.5 656.4,394.0 656.7,381.7 656.9,398.4 657.2,393.1 657.5,390.1 657.8,387.8 658.1,392.7 658.4,387.8 658.7,382.5 658.9,393.5 659.2,385.5 659.5,393.4 659.8,384.3 660.1,382.4 660.4,403.4 660.6,393.1 660.9,396.7 661.2,387.5 661.5,388.9 661.8,389.1 662.1,401.3 662.4,393.5 662.6,390.2 662.9,389.6 663.2,390.5 663.5,397.0 663.8,391.0 664.1,391.5 664.4,399.8 664.6,397.7 664.9,396.9 665.2,404.3 665.5,391.7 665.8,385.4 666.1,382.5 666.3,392.1 666.6,394.0 666.9,398.6 667.2,383.6 667.5,384.1 667.8,391.0 668.1,390.5 668.3,383.5 668.6,391.0 668.9,396.3 669.2,390.3 669.5,405.7 669.8,396.1 670.0,386.4 670.3,390.0 670.6,382.3 670.9,404.5 671.2,389.2 671.5,388.8 671.8,395.2 672.0,388.4 672.3,386.2 672.6,389.8 672.9,396.4 673.2,396.4 673.5,381.3 673.8,379.6 674.0,392.5 674.3,387.7 674.6,386.7 674.9,396.2 675.2,392.3 675.5,386.4 675.7,393.4 676.0,384.9 676.3,386.3 676.6,401.2 676.9,387.9 677.2,392.8 677.5,387.7 677.7,387.3 678.0,382.2 678.3,382.0 678.6,397.0 678.9,402.8 679.2,393.3 679.4,392.7 679.7,385.7 680.0,388.8 680.3,398.7 680.6,405.3 680.9,394.0 681.2,392.3 681.4,396.9 681.7,391.1 682.0,385.6 682.3,385.1 682.6,389.1 682.9,388.5 683.1,376.4 683.4,380.2 683.7,396.7 684.0,397.8 684.3,397.1 684.6,390.7 684.9,388.0 685.1,392.1 685.4,394.5 685.7,389.5 686.0,399.4 686.3,388.3 686.6,377.8 686.9,396.7 687.1,398.1 687.4,391.2 687.7,398.7 688.0,399.5 688.3,375.9 688.6,394.3 688.8,384.0 689.1,395.7 689.4,392.8 689.7,396.3 690.0,389.1 690.3,386.8 690.6,392.1 690.8,405.4 691.1,392.7 691.4,383.3 691.7,389.4 692.0,387.9 692.3,397.3 692.5,390.0 692.8,387.1 693.1,390.1 693.4,384.4 693.7,391.7 694.0,381.9 694.3,385.7 694.5,389.8 694.8,379.9 695.1,380.1 695.4,383.6 695.7,397.5 696.0,393.8 696.3,389.1 696.5,395.1 696.8,394.4 697.1,385.5 697.4,382.7 697.7,397.2 698.0,386.0 698.2,394.3 698.5,381.0 698.8,390.4 699.1,383.5 699.4,395.5 699.7,396.4 700.0,394.4 700.2,397.0 700.5,389.0 700.8,395.0 701.1,396.3 701.4,387.4 701.7,396.6 701.9,394.6 702.2,395.7 702.5,391.4 702.8,392.5 703.1,395.7 703.4,393.5 703.7,396.2 703.9,384.5 704.2,398.5 704.5,387.8 704.8,399.1 705.1,383.9 705.4,389.0 705.7,394.4 705.9,395.3 706.2,390.2 706.5,387.5 706.8,396.8 707.1,399.3 707.4,387.6 707.6,385.7 707.9,389.3 708.2,392.1 708.5,382.0 708.8,386.4 709.1,396.4 709.4,387.4 709.6,387.1 709.9,401.0 710.2,398.2 710.5,401.6 710.8,391.4 711.1,390.5 711.3,388.7 711.6,382.4 711.9,378.5 712.2,390.7 712.5,386.6 712.8,395.2 713.1,397.4 713.3,382.5 713.6,383.6 713.9,393.4 714.2,400.7 714.5,401.8 714.8,388.3 715.1,392.9 715.3,401.2 715.6,388.0 715.9,386.5 716.2,400.5 716.5,387.9 716.8,384.8 717.0,401.3 717.3,388.9 717.6,388.7 717.9,394.4 718.2,399.7 718.5,395.1 718.8,391.5 719.0,392.2 719.3,391.9 719.6,390.8 719.9,378.2 720.2,390.3 720.5,379.9 720.7,383.4 721.0,388.6 721.3,386.9 721.6,389.7 721.9,387.2 722.2,390.3 722.5,398.7 722.7,380.4 723.0,394.1 723.3,398.9 723.6,384.6 723.9,385.1 724.2,386.7 724.5,390.3 724.7,382.9 725.0,385.0 725.3,387.1 725.6,387.6 725.9,396.3 726.2,383.8 726.4,392.2 726.7,391.8 727.0,387.6 727.3,387.0 727.6,380.4 727.9,380.7 728.2,387.5 728.4,386.2 728.7,382.4 729.0,391.4 729.3,384.2 729.6,383.3 729.9,381.3 730.1,389.1 730.4,385.2 730.7,383.1 731.0,371.9 731.3,391.4 731.6,369.9 731.9,381.5 732.1,370.1 732.4,366.8 732.7,358.6 733.0,376.9 733.3,377.2 733.6,371.8 733.9,370.4 734.1,363.4 734.4,372.0 734.7,369.8 735.0,360.6 735.3,367.3 735.6,367.9 735.8,361.8 736.1,377.4 736.4,359.7 736.7,382.9 737.0,376.9 737.3,364.8 737.6,379.9 737.8,376.0 738.1,376.7 738.4,368.6 738.7,359.7 739.0,351.0 739.3,368.7 739.5,365.5 739.8,361.8 740.1,381.7 740.4,369.8 740.7,354.7 741.0,365.0 741.3,369.9 741.5,356.5 741.8,367.5 742.1,363.2 742.4,354.3 742.7,368.7 743.0,370.5 743.3,344.9 743.5,368.0 743.8,359.6 744.1,361.0 744.4,350.2 744.7,354.8 745.0,375.7 745.2,366.9 745.5,359.5 745.8,360.8 746.1,353.1 746.4,358.0 746.7,351.6 747.0,359.7 747.2,348.2 747.5,358.0 747.8,362.0 748.1,352.5 748.4,355.8 748.7,355.5 748.9,347.6 749.2,338.7 749.5,357.4 749.8,348.3 750.1,345.8 750.4,360.9 750.7,346.4 750.9,351.1 751.2,351.3 751.5,350.1 751.8,358.3 752.1,355.4 752.4,372.2 752.7,356.7 752.9,372.1 753.2,355.9 753.5,360.8 753.8,364.0 754.1,357.3 754.4,369.6 754.6,360.3 754.9,360.2 755.2,371.1 755.5,360.7 755.8,371.8 756.1,375.8 756.4,374.4 756.6,379.8 756.9,366.9 757.2,380.1 757.5,367.6 757.8,360.0 758.1,371.8 758.3,388.2 758.6,367.1 758.9,388.1 759.2,365.2 759.5,382.8 759.8,380.3 760.1,373.8 760.3,360.9 760.6,382.5 760.9,382.6 761.2,381.7 761.5,385.3 761.8,372.5 762.1,392.7 762.3,384.8 762.6,372.9 762.9,393.8 763.2,378.5 763.5,381.7 763.8,384.5 764.0,372.7 764.3,372.7 764.6,378.1 764.9,371.6 765.2,378.5 765.5,389.8 765.8,373.0 766.0,381.7 766.3,377.7 766.6,387.6 766.9,374.5 767.2,375.3 767.5,381.8 767.7,396.7 768.0,377.3 768.3,372.6 768.6,377.7 768.9,389.2 769.2,391.0 769.5,385.0 769.7,387.4 770.0,377.1 770.3,389.1 770.6,385.8 770.9,383.1 771.2,393.8 771.5,394.3 771.7,384.8 772.0,389.3 772.3,375.8 772.6,381.4 772.9,396.4 773.2,381.2 773.4,382.6 773.7,395.6 774.0,374.4 774.3,384.8 774.6,394.0 774.9,387.0 775.2,384.8 775.4,384.2 775.7,392.5 776.0,385.9 776.3,394.1 776.6,391.8 776.9,393.3 777.1,400.6 777.4,391.4 777.7,388.9 778.0,394.9 778.3,396.9 778.6,394.4 778.9,385.4 779.1,399.8 779.4,385.3 779.7,383.9 780.0,401.4 780.3,404.8 780.6,393.9 780.8,390.5 781.1,403.7 781.4,387.3 781.7,395.0 782.0,391.6 782.3,398.6 782.6,396.8 782.8,390.3 783.1,401.6 783.4,399.5 783.7,395.2 784.0,393.6 784.3,395.0 784.6,388.1 784.8,394.3 785.1,394.4 785.4,399.2 785.7,394.9 786.0,393.8 786.3,397.8 786.5,402.1 786.8,399.9 787.1,395.9 787.4,394.1 787.7,404.8 788.0,397.0 788.3,389.8 788.5,398.3 788.8,386.6 789.1,394.0 789.4,400.9 789.7,396.2 790.0,395.3 790.2,401.5 790.5,404.1 790.8,391.6 791.1,390.7 791.4,393.2 791.7,390.8 792.0,400.4 792.2,402.0 792.5,397.3 792.8,391.8 793.1,388.9 793.4,397.4 793.7,393.9 794.0,401.2 794.2,391.3 794.5,395.5 794.8,396.5 795.1,404.9 795.4,403.4 795.7,401.6 795.9,400.0 796.2,402.6 796.5,388.0 796.8,403.5 797.1,396.6 797.4,406.5 797.7,402.9 797.9,404.5 798.2,393.3 798.5,412.1 798.8,400.3 799.1,398.5 799.4,393.4 799.6,398.8 799.9,384.4 800.2,404.4 800.5,399.5 800.8,396.4 801.1,404.6 801.4,399.8 801.6,399.4 801.9,393.8 802.2,398.7 802.5,390.0 802.8,390.2 803.1,397.5 803.4,392.9 803.6,388.6 803.9,395.2 804.2,385.5 804.5,405.0 804.8,390.6 805.1,390.6 805.3,404.5 805.6,386.8 805.9,382.5 806.2,395.2 806.5,393.6 806.8,400.9 807.1,394.6 807.3,385.6 807.6,395.5 807.9,393.3 808.2,402.0 808.5,396.6 808.8,389.5 809.0,391.0 809.3,395.2 809.6,392.8 809.9,396.6 810.2,397.1 810.5,388.9 810.8,397.1 811.0,400.6 811.3,389.0 811.6,387.6 811.9,400.4 812.2,399.2 812.5,401.4 812.8,406.1 813.0,395.1 813.3,389.7 813.6,397.0 813.9,391.9 814.2,398.0 814.5,400.2 814.7,396.6 815.0,399.5 815.3,396.4 815.6,398.1 815.9,390.2 816.2,406.8 816.5,393.4 816.7,395.1 817.0,393.5 817.3,396.4 817.6,395.5 817.9,386.6 818.2,407.2 818.4,400.5 818.7,396.7 819.0,398.3 819.3,404.4 819.6,403.4 819.9,400.3 820.2,403.8 820.4,383.6 820.7,403.4 821.0,397.1 821.3,393.9 821.6,392.2 821.9,398.4 822.2,387.7 822.4,399.3 822.7,392.6 823.0,401.0 823.3,386.2 823.6,398.3 823.9,393.1 824.1,388.4 824.4,402.1 824.7,400.9 825.0,388.8 825.3,392.3 825.6,402.3 825.9,394.2 826.1,390.0 826.4,388.1 826.7,389.2 827.0,397.2 827.3,399.4 827.6,392.1 827.8,388.5 828.1,390.2 828.4,384.8 828.7,398.3 829.0,396.0 829.3,402.7 829.6,409.9 829.8,405.0 830.1,395.1 830.4,395.9 830.7,390.4 831.0,386.1 831.3,409.3 831.6,400.0 831.8,389.7 832.1,402.7 832.4,386.5 832.7,397.5 833.0,399.5 833.3,395.1 833.5,395.9 833.8,403.6 834.1,396.0 834.4,405.8 834.7,388.7 835.0,396.8 835.3,409.2 835.5,393.3 835.8,393.3 836.1,399.3 836.4,396.4 836.7,400.4 837.0,404.7 837.2,401.9 837.5,399.6 837.8,395.8 838.1,399.1 838.4,403.0 838.7,392.1 839.0,394.4 839.2,390.0 839.5,396.2 839.8,396.8 840.1,392.4 840.4,388.9 840.7,390.6 841.0,398.7 841.2,391.4 841.5,399.4 841.8,390.9 842.1,389.9 842.4,398.9 842.7,389.6 842.9,400.9 843.2,381.4 843.5,394.4 843.8,391.3 844.1,392.2 844.4,396.1 844.7,383.0 844.9,407.2 845.2,392.2 845.5,409.4 845.8,399.9 846.1,396.4 846.4,386.1 846.6,405.4 846.9,399.2 847.2,402.4 847.5,386.2 847.8,385.0 848.1,393.1 848.4,398.5 848.6,400.0 848.9,402.5 849.2,390.1 849.5,387.3 849.8,399.7 850.1,389.4 850.4,395.0 850.6,407.6 850.9,393.0 851.2,397.8 851.5,397.2 851.8,395.8 852.1,398.1 852.3,398.8 852.6,396.2 852.9,404.8 853.2,401.4 853.5,389.8 853.8,404.2 854.1,396.3 854.3,394.4 854.6,390.6 854.9,399.7 855.2,394.7 855.5,390.2 855.8,389.9 856.0,401.5 856.3,392.9 856.6,392.5 856.9,409.9 857.2,397.2 857.5,399.2 857.8,396.2 858.0,395.5 858.3,390.0 858.6,400.0 858.9,397.6 859.2,391.2 859.5,395.5 859.8,406.4 860.0,397.7 860.3,396.3 860.6,392.2 860.9,392.5 861.2,399.0 861.5,400.9 861.7,397.0 862.0,401.2 862.3,391.0 862.6,393.6 862.9,398.1 863.2,402.9 863.5,393.5 863.7,402.0 864.0,390.3 864.3,403.2 864.6,404.4 864.9,395.1 865.2,399.1 865.4,401.5 865.7,393.2 866.0,394.8 866.3,394.6 866.6,400.3 866.9,402.4 867.2,391.6 867.4,392.6 867.7,400.5 868.0,392.9 868.3,395.4 868.6,401.2 868.9,396.6 869.1,402.4 869.4,396.7 869.7,395.4 870.0,391.6 870.3,382.8 870.6,393.3 870.9,384.8 871.1,399.9 871.4,399.5 871.7,397.6 872.0,401.4 872.3,407.1 872.6,384.5 872.9,393.8 873.1,399.3 873.4,393.2 873.7,393.9 874.0,401.0 874.3,397.7 874.6,386.6 874.8,403.1 875.1,389.9 875.4,395.9 875.7,397.8 876.0,384.6 876.3,404.3 876.6,398.1 876.8,396.4 877.1,398.6 877.4,392.6 877.7,397.9 878.0,397.5 878.3,380.9 878.5,386.6 878.8,399.1 879.1,387.4 879.4,396.7 879.7,392.5 880.0,397.7 880.3,383.2 880.5,394.3 880.8,393.7 881.1,395.4 881.4,395.2 881.7,394.5 882.0,396.3 882.3,397.2 882.5,391.2 882.8,403.1 883.1,395.0 883.4,391.5 883.7,399.1 884.0,386.9 884.2,401.7 884.5,393.5 884.8,395.9 885.1,395.7 885.4,398.2 885.7,391.7 886.0,392.6 886.2,397.2 886.5,391.4 886.8,394.6 887.1,393.9 887.4,392.4 887.7,390.2 887.9,389.3 888.2,391.5 888.5,386.8 888.8,387.2 889.1,409.3 889.4,393.9 889.7,399.0 889.9,395.4 890.2,397.9 890.5,394.6 890.8,399.6 891.1,395.1 891.4,395.6 891.7,387.1 891.9,399.7 892.2,393.1 892.5,394.2 892.8,396.8 893.1,396.0 893.4,394.6 893.6,402.1 893.9,390.2 894.2,383.8 894.5,393.6 894.8,382.9 895.1,394.7 895.4,403.1 895.6,404.8 895.9,390.0 896.2,398.5 896.5,389.5 896.8,398.2 897.1,404.1 897.3,392.8 897.6,404.9 897.9,397.7 898.2,411.0 898.5,392.6 898.8,390.9 899.1,403.4 899.3,401.1 899.6,399.3 899.9,391.6 900.2,396.9 900.5,393.1 900.8,404.9 901.1,399.9 901.3,392.7 901.6,391.8 901.9,388.4 902.2,393.5 902.5,396.9 902.8,399.7 903.0,403.6 903.3,394.9 903.6,405.0 903.9,386.6 904.2,397.8 904.5,402.1 904.8,395.8 905.0,400.1 905.3,403.6 905.6,395.9 905.9,400.3 906.2,405.5 906.5,392.4 906.7,405.6 907.0,398.6 907.3,391.0 907.6,401.4 907.9,403.1 908.2,398.3 908.5,401.2 908.7,402.0 909.0,399.6 909.3,399.9 909.6,403.9 909.9,403.5 910.2,399.0 910.5,388.5 910.7,391.7 911.0,396.7 911.3,405.3 911.6,401.6 911.9,408.7 912.2,401.2 912.4,400.9 912.7,396.6 913.0,405.3 913.3,390.7 913.6,400.3 913.9,397.5 914.2,395.4 914.4,403.8 914.7,402.3 915.0,400.8 915.3,396.9 915.6,390.6 915.9,391.4 916.1,384.7 916.4,391.6 916.7,401.2 917.0,407.5 917.3,393.4 917.6,406.9 917.9,410.7 918.1,406.3 918.4,409.8 918.7,400.0 919.0,397.4 919.3,401.8 919.6,405.7 919.9,402.8 920.1,401.2 920.4,404.6 920.7,395.0 921.0,404.3 921.3,388.4 921.6,407.6 921.8,407.2 922.1,412.4 922.4,393.6 922.7,395.2 923.0,392.3 923.3,389.5 923.6,384.2 923.8,401.6 924.1,395.6 924.4,395.8 924.7,386.1 925.0,397.0 925.3,407.6 925.5,396.9 925.8,400.8 926.1,389.3 926.4,402.3 926.7,396.1 927.0,397.1 927.3,398.6 927.5,395.3 927.8,400.8 928.1,396.5 928.4,394.8 928.7,391.2 929.0,390.8 929.3,402.4 929.5,403.8 929.8,397.0 930.1,396.5 930.4,394.3 930.7,398.7 931.0,405.6 931.2,399.2 931.5,394.7 931.8,403.8 932.1,402.2 932.4,387.8 932.7,395.5 933.0,405.4 933.2,400.7 933.5,398.3 933.8,401.2 934.1,392.3 934.4,392.5 934.7,398.7 934.9,400.2 935.2,409.0 935.5,399.3 935.8,401.9 936.1,409.2 936.4,397.2 936.7,399.3 936.9,401.2 937.2,402.7 937.5,402.3 937.8,405.5 938.1,394.7 938.4,394.0 938.7,401.0 938.9,392.1 939.2,410.3 939.5,396.5 939.8,397.5 940.1,403.8 940.4,401.9 940.6,402.9 940.9,399.1 941.2,391.4 941.5,397.5 941.8,394.2 942.1,388.0 942.4,395.6 942.6,402.4 942.9,391.4 943.2,392.3 943.5,392.1 943.8,400.6 944.1,384.6 944.3,399.0 944.6,397.0 944.9,395.9 945.2,391.3 945.5,395.2 945.8,407.9 946.1,398.3 946.3,395.0 946.6,402.3 946.9,390.6 947.2,404.4 947.5,397.7 947.8,412.9 948.1,411.5 948.3,402.5 948.6,401.8 948.9,397.2 949.2,402.9 949.5,403.9 949.8,392.0 950.0,391.1 950.3,402.8 950.6,396.4 950.9,400.4 951.2,400.1 951.5,400.2 951.8,397.8 952.0,402.6 952.3,407.2 952.6,408.3 952.9,396.9 953.2,399.6 953.5,399.4 953.7,390.4 954.0,390.2 954.3,398.3 954.6,401.7 954.9,403.5 955.2,395.5 955.5,403.0 955.7,398.7 956.0,397.0 956.3,405.2 956.6,390.0 956.9,386.6 957.2,410.7 957.4,399.5 957.7,404.2 958.0,399.2 958.3,395.8 958.6,393.2 958.9,389.5 959.2,400.8 959.4,393.8 959.7,399.1 960.0,401.4 960.3,399.5 960.6,400.4 960.9,408.4 961.2,401.7 961.4,401.4 961.7,399.1 962.0,408.2 962.3,407.3 962.6,396.6 962.9,402.0 963.1,398.9 963.4,397.1 963.7,394.3 964.0,409.5 964.3,402.4 964.6,387.2 964.9,405.2 965.1,409.3 965.4,400.0 965.7,399.1 966.0,400.5 966.3,405.0 966.6,396.8 966.8,402.4 967.1,391.8 967.4,407.1 967.7,394.1 968.0,398.5 968.3,402.9 968.6,406.4 968.8,396.5 969.1,396.6 969.4,408.9 969.7,396.6 970.0,395.4 970.3,396.9 970.6,403.4 970.8,403.3 971.1,404.9 971.4,401.4 971.7,396.4 972.0,401.1 972.3,402.7 972.5,391.7 972.8,394.5 973.1,397.7 973.4,407.0 973.7,395.8 974.0,397.8 974.3,397.6 974.5,399.3 974.8,400.7 975.1,391.2 975.4,383.1 975.7,401.1 976.0,384.8 976.2,398.2 976.5,398.8 976.8,400.4 977.1,390.4 977.4,398.0 977.7,399.9 978.0,399.9 978.2,402.9 978.5,390.1 978.8,392.7 979.1,394.0 979.4,395.1 979.7,401.1 980.0,400.0 980.2,395.9 980.5,405.3 980.8,398.9 981.1,389.1 981.4,403.2 981.7,388.7 981.9,389.2 982.2,394.3 982.5,394.3 982.8,396.6 983.1,397.5 983.4,393.3 983.7,393.8 983.9,401.9 984.2,399.8 984.5,396.9 984.8,393.5 985.1,398.2 985.4,392.3 985.6,390.4 985.9,403.3 986.2,401.3 986.5,395.3 986.8,406.1 987.1,396.3 987.4,400.5 987.6,399.6 987.9,397.5 988.2,397.6 988.5,405.6 988.8,402.2 989.1,386.7 989.4,400.7 989.6,385.0 989.9,391.7 990.2,400.1 990.5,391.5 990.8,404.7 991.1,395.6 991.3,400.9 991.6,399.2 991.9,401.9 992.2,404.7 992.5,389.0 992.8,396.8 993.1,398.2 993.3,402.9 993.6,400.2 993.9,395.7 994.2,389.7 994.5,388.6 994.8,392.7 995.0,399.3 995.3,399.5 995.6,407.2 995.9,401.1 996.2,404.3 996.5,392.5 996.8,402.0 997.0,398.1 997.3,397.8 997.6,408.3 997.9,401.3 998.2,401.0 998.5,401.4 998.8,393.7 999.0,392.0 999.3,411.7 999.6,401.1 999.9,400.5 1000.2,401.6 1000.5,397.6 1000.7,398.4 1001.0,395.0 1001.3,401.6 1001.6,398.8"/>
<polyline fill="none" stroke="#00ff00" stroke-width="1.8" stroke-linejoin="miter" points="90.4,451.6 90.7,466.9 91.0,474.3 91.3,457.8 91.5,471.1 91.8,458.5 92.1,462.5 92.4,464.0 92.7,469.2 93.0,464.1 93.2,464.3 93.5,468.8 93.8,469.0 94.1,463.2 94.4,466.5 94.7,471.2 95.0,466.6 95.2,458.9 95.5,464.6 95.8,456.4 96.1,476.0 96.4,465.7 96.7,456.1 97.0,462.6 97.2,467.4 97.5,469.2 97.8,464.9 98.1,463.8 98.4,461.3 98.7,471.3 98.9,473.5 99.2,468.9 99.5,468.5 99.8,468.5 100.1,465.1 100.4,466.1 100.7,471.1 100.9,469.5 101.2,470.4 101.5,464.1 101.8,471.9 102.1,462.3 102.4,474.0 102.6,466.2 102.9,468.5 103.2,462.9 103.5,465.8 103.8,462.0 104.1,466.5 104.4,456.1 104.6,471.3 104.9,466.3 105.2,468.9 105.5,464.5 105.8,467.9 106.1,461.6 106.4,460.6 106.6,463.2 106.9,457.7 107.2,469.7 107.5,463.7 107.8,464.5 108.1,461.1 108.3,468.4 108.6,471.1 108.9,463.7 109.2,471.1 109.5,467.1 109.8,466.4 110.1,456.4 110.3,460.6 110.6,471.6 110.9,471.0 111.2,477.1 111.5,462.5 111.8,470.1 112.0,458.2 112.3,461.9 112.6,460.9 112.9,462.4 113.2,468.7 113.5,474.9 113.8,468.6 114.0,461.3 114.3,475.0 114.6,470.0 114.9,460.0 115.2,475.6 115.5,468.5 115.8,472.3 116.0,464.9 116.3,465.4 116.6,470.1 116.9,459.3 117.2,467.9 117.5,472.1 117.7,469.5 118.0,466.6 118.3,464.6 118.6,464.5 118.9,474.4 119.2,468.0 119.5,467.4 119.7,461.5 120.0,468.5 120.3,470.5 120.6,454.5 120.9,475.5 121.2,471.2 121.4,466.0 121.7,457.5 122.0,480.3 122.3,471.1 122.6,464.9 122.9,459.9 123.2,473.2 123.4,457.9 123.7,467.5 124.0,465.8 124.3,460.9 124.6,463.3 124.9,463.2 125.2,471.6 125.4,468.8 125.7,472.6 126.0,460.9 126.3,473.0 126.6,467.9 126.9,472.6 127.1,464.2 127.4,468.4 127.7,460.7 128.0,472.0 128.3,466.4 128.6,462.6 128.9,465.1 129.1,466.3 129.4,456.0 129.7,466.5 130.0,460.2 130.3,465.4 130.6,467.0 130.8,478.8 131.1,468.5 131.4,459.3 131.7,469.4 132.0,460.4 132.3,461.1 132.6,462.7 132.8,471.8 133.1,475.8 133.4,470.6 133.7,460.0 134.0,467.8 134.3,471.4 134.6,453.5 134.8,465.1 135.1,480.6 135.4,459.5 135.7,461.4 136.0,460.5 136.3,474.2 136.5,471.6 136.8,470.5 137.1,472.5 137.4,462.4 137.7,455.5 138.0,468.4 138.3,456.3 138.5,468.3 138.8,467.5 139.1,465.4 139.4,471.4 139.7,466.5 140.0,457.7 140.2,460.0 140.5,467.9 140.8,460.8 141.1,467.8 141.4,463.0 141.7,466.1 142.0,459.7 142.2,464.1 142.5,456.4 142.8,461.4 143.1,468.3 143.4,462.0 143.7,460.4 143.9,470.4 144.2,469.9 144.5,459.6 144.8,467.1 145.1,468.5 145.4,461.1 145.7,461.7 145.9,464.9 146.2,473.8 146.5,465.5 146.8,465.3 147.1,451.2 147.4,467.3 147.7,470.5 147.9,459.2 148.2,469.2 148.5,466.9 148.8,469.1 149.1,464.6 149.4,464.6 149.6,477.7 149.9,474.0 150.2,458.9 150.5,454.8 150.8,465.6 151.1,465.7 151.4,463.7 151.6,462.1 151.9,470.4 152.2,449.6 152.5,456.9 152.8,465.4 153.1,464.5 153.3,464.4 153.6,457.6 153.9,470.8 154.2,466.9 154.5,466.3 154.8,464.3 155.1,454.1 155.3,458.9 155.6,455.3 155.9,462.3 156.2,454.3 156.5,462.3 156.8,458.9 157.1,462.4 157.3,450.6 157.6,456.7 157.9,463.2 158.2,466.4 158.5,455.7 158.8,465.9 159.0,476.1 159.3,461.3 159.6,457.8 159.9,451.8 160.2,452.8 160.5,458.5 160.8,459.8 161.0,464.4 161.3,471.1 161.6,456.5 161.9,462.7 162.2,469.5 162.5,464.6 162.7,462.7 163.0,462.5 163.3,454.4 163.6,453.9 163.9,465.6 164.2,469.0 164.5,467.4 164.7,467.2 165.0,470.5 165.3,469.7 165.6,459.7 165.9,463.1 166.2,449.4 166.5,467.4 166.7,462.7 167.0,462.4 167.3,467.2 167.6,454.5 167.9,462.5 168.2,456.9 168.4,470.0 168.7,454.4 169.0,457.9 169.3,463.3 169.6,469.9 169.9,460.4 170.2,452.7 170.4,456.4 170.7,462.0 171.0,463.1 171.3,453.4 171.6,466.4 171.9,455.4 172.1,455.2 172.4,459.3 172.7,453.8 173.0,453.9 173.3,459.3 173.6,447.3 173.9,458.4 174.1,453.7 174.4,461.8 174.7,454.7 175.0,464.5 175.3,461.2 175.6,461.7 175.9,459.7 176.1,453.4 176.4,459.8 176.7,460.7 177.0,457.6 177.3,458.5 177.6,458.3 177.8,454.9 178.1,453.2 178.4,456.7 178.7,456.8 179.0,459.5 179.3,462.7 179.6,454.6 179.8,454.0 180.1,467.4 180.4,456.6 180.7,456.9 181.0,452.8 181.3,459.7 181.5,445.7 181.8,453.8 182.1,456.7 182.4,454.2 182.7,459.4 183.0,464.3 183.3,460.1 183.5,456.0 183.8,444.8 184.1,453.4 184.4,464.4 184.7,465.8 185.0,460.5 185.3,461.9 185.5,461.4 185.8,448.9 186.1,454.5 186.4,453.8 186.7,460.0 187.0,462.7 187.2,456.9 187.5,467.0 187.8,455.9 188.1,453.8 188.4,453.7 188.7,445.6 189.0,460.8 189.2,454.0 189.5,460.5 189.8,459.3 190.1,459.9 190.4,447.6 190.7,454.5 190.9,454.9 191.2,458.0 191.5,450.4 191.8,449.9 192.1,461.8 192.4,446.5 192.7,454.8 192.9,446.0 193.2,455.7 193.5,447.0 193.8,446.4 194.1,441.7 194.4,433.4 194.7,453.8 194.9,438.4 195.2,446.4 195.5,443.8 195.8,436.9 196.1,442.3 196.4,450.7 196.6,449.0 196.9,445.5 197.2,452.8 197.5,456.2 197.8,458.6 198.1,461.4 198.4,452.0 198.6,449.2 198.9,449.1 199.2,435.9 199.5,458.5 199.8,459.8 200.1,435.0 200.3,450.6 200.6,446.3 200.9,447.8 201.2,438.7 201.5,448.0 201.8,436.5 202.1,452.1 202.3,453.9 202.6,455.6 202.9,438.7 203.2,441.6 203.5,445.0 203.8,456.6 204.1,447.7 204.3,458.2 204.6,450.6 204.9,453.7 205.2,442.1 205.5,441.3 205.8,446.8 206.0,445.0 206.3,444.0 206.6,456.0 206.9,462.4 207.2,450.0 207.5,454.1 207.8,462.8 208.0,456.2 208.3,460.6 208.6,460.8 208.9,463.8 209.2,463.8 209.5,459.3 209.7,452.5 210.0,464.1 210.3,452.1 210.6,459.0 210.9,460.8 211.2,472.3 211.5,462.2 211.7,460.7 212.0,456.3 212.3,457.3 212.6,449.7 212.9,445.8 213.2,457.2 213.5,458.9 213.7,455.5 214.0,456.6 214.3,456.7 214.6,467.9 214.9,454.9 215.2,469.0 215.4,454.8 215.7,457.5 216.0,458.6 216.3,462.2 216.6,467.0 216.9,464.7 217.2,465.4 217.4,461.1 217.7,459.4 218.0,458.8 218.3,453.1 218.6,471.2 218.9,458.8 219.1,455.2 219.4,452.5 219.7,457.1 220.0,452.8 220.3,463.9 220.6,464.5 220.9,454.4 221.1,464.7 221.4,462.0 221.7,459.3 222.0,458.7 222.3,455.5 222.6,461.7 222.9,447.4 223.1,460.3 223.4,455.8 223.7,443.6 224.0,454.2 224.3,456.7 224.6,459.3 224.8,456.6 225.1,451.1 225.4,457.6 225.7,457.2 226.0,442.9 226.3,450.8 226.6,455.0 226.8,453.6 227.1,458.2 227.4,468.4 227.7,457.5 228.0,454.8 228.3,456.8 228.5,452.0 228.8,453.7 229.1,452.7 229.4,459.6 229.7,453.4 230.0,456.7 230.3,457.8 230.5,450.3 230.8,458.9 231.1,464.3 231.4,454.3 231.7,457.1 232.0,461.7 232.2,462.9 232.5,457.4 232.8,454.8 233.1,458.8 233.4,450.1 233.7,451.6 234.0,452.9 234.2,458.0 234.5,449.4 234.8,456.6 235.1,445.9 235.4,449.2 235.7,449.4 236.0,456.8 236.2,463.1 236.5,444.7 236.8,454.3 237.1,452.1 237.4,455.1 237.7,449.8 237.9,457.6 238.2,442.0 238.5,458.7 238.8,461.7 239.1,449.9 239.4,455.7 239.7,449.2 239.9,453.9 240.2,454.5 240.5,441.8 240.8,461.3 241.1,460.5 241.4,467.0 241.6,456.8 241.9,458.0 242.2,463.8 242.5,447.5 242.8,460.3 243.1,455.4 243.4,467.4 243.6,456.0 243.9,462.1 244.2,454.0 244.5,441.1 244.8,463.2 245.1,461.0 245.4,460.4 245.6,452.9 245.9,460.7 246.2,448.7 246.5,449.4 246.8,458.7 247.1,457.6 247.3,463.2 247.6,449.2 247.9,455.6 248.2,456.0 248.5,459.0 248.8,447.2 249.1,453.5 249.3,450.8 249.6,455.9 249.9,469.0 250.2,457.1 250.5,461.8 250.8,456.7 251.0,451.6 251.3,455.2 251.6,453.9 251.9,453.4 252.2,458.9 252.5,457.8 252.8,450.4 253.0,443.9 253.3,452.7 253.6,458.2 253.9,463.7 254.2,457.4 254.5,459.5 254.8,462.3 255.0,463.0 255.3,452.7 255.6,455.5 255.9,460.1 256.2,453.3 256.5,451.2 256.7,454.3 257.0,455.6 257.3,461.0 257.6,452.3 257.9,450.2 258.2,452.4 258.5,459.0 258.7,444.6 259.0,456.0 259.3,459.7 259.6,452.1 259.9,451.2 260.2,448.2 260.4,449.7 260.7,454.0 261.0,461.9 261.3,458.3 261.6,453.3 261.9,447.8 262.2,449.4 262.4,461.9 262.7,448.5 263.0,461.6 263.3,457.1 263.6,461.8 263.9,458.5 264.2,453.5 264.4,456.4 264.7,454.4 265.0,449.9 265.3,455.4 265.6,456.2 265.9,450.6 266.1,455.1 266.4,460.5 266.7,456.5 267.0,450.4 267.3,464.6 267.6,452.4 267.9,462.3 268.1,457.8 268.4,461.8 268.7,457.0 269.0,449.5 269.3,461.9 269.6,451.4 269.8,447.3 270.1,447.1 270.4,457.2 270.7,452.2 271.0,452.5 271.3,447.1 271.6,465.3 271.8,459.0 272.1,460.9 272.4,456.5 272.7,461.9 273.0,453.0 273.3,462.9 273.6,455.4 273.8,453.3 274.1,459.8 274.4,457.9 274.7,457.5 275.0,446.9 275.3,450.2 275.5,448.2 275.8,450.7 276.1,455.4 276.4,449.4 276.7,454.6 277.0,448.9 277.3,452.8 277.5,457.6 277.8,460.8 278.1,464.9 278.4,456.2 278.7,456.9 279.0,463.5 279.2,447.2 279.5,450.3 279.8,461.1 280.1,461.9 280.4,466.6 280.7,465.9 281.0,465.2 281.2,461.1 281.5,456.9 281.8,462.9 282.1,446.5 282.4,455.1 282.7,447.8 283.0,454.3 283.2,440.1 283.5,457.4 283.8,454.6 284.1,460.6 284.4,446.1 284.7,452.6 284.9,459.2 285.2,445.2 285.5,453.5 285.8,442.9 286.1,464.8 286.4,449.6 286.7,454.9 286.9,456.4 287.2,444.9 287.5,451.3 287.8,445.1 288.1,456.2 288.4,460.1 288.6,438.1 288.9,448.9 289.2,439.4 289.5,448.0 289.8,447.5 290.1,448.0 290.4,444.9 290.6,429.6 290.9,429.5 291.2,435.3 291.5,438.5 291.8,428.3 292.1,430.6 292.4,436.2 292.6,434.3 292.9,440.4 293.2,426.7 293.5,437.0 293.8,434.6 294.1,434.7 294.3,433.1 294.6,430.8 294.9,442.7 295.2,430.3 295.5,436.8 295.8,435.0 296.1,430.1 296.3,436.1 296.6,436.4 296.9,444.3 297.2,429.5 297.5,438.1 297.8,437.8 298.0,440.3 298.3,430.0 298.6,436.1 298.9,426.5 299.2,437.0 299.5,443.3 299.8,447.2 300.0,426.6 300.3,439.2 300.6,445.2 300.9,433.8 301.2,459.5 301.5,448.3 301.8,437.7 302.0,462.0 302.3,451.7 302.6,439.1 302.9,445.5 303.2,446.8 303.5,450.6 303.7,460.4 304.0,448.2 304.3,449.3 304.6,452.5 304.9,455.6 305.2,454.4 305.5,446.1 305.7,457.6 306.0,448.7 306.3,449.0 306.6,466.3 306.9,444.4 307.2,453.5 307.4,448.4 307.7,457.8 308.0,456.3 308.3,449.4 308.6,451.9 308.9,451.5 309.2,456.8 309.4,445.0 309.7,455.6 310.0,455.0 310.3,453.3 310.6,450.6 310.9,456.2 311.2,455.2 311.4,452.9 311.7,451.7 312.0,454.5 312.3,454.1 312.6,444.5 312.9,443.6 313.1,447.7 313.4,446.0 313.7,446.7 314.0,448.7 314.3,457.1 314.6,450.5 314.9,451.3 315.1,454.9 315.4,447.5 315.7,449.5 316.0,441.8 316.3,447.3 316.6,455.4 316.8,450.4 317.1,450.9 317.4,461.1 317.7,462.1 318.0,454.2 318.3,449.1 318.6,446.9 318.8,453.4 319.1,447.6 319.4,453.0 319.7,450.4 320.0,452.1 320.3,450.7 320.5,458.7 320.8,451.3 321.1,460.5 321.4,449.6 321.7,459.9 322.0,446.2 322.3,452.6 322.5,449.2 322.8,445.4 323.1,461.5 323.4,451.5 323.7,445.7 324.0,442.6 324.3,453.6 324.5,454.2 324.8,451.3 325.1,447.3 325.4,448.2 325.7,444.1 326.0,447.8 326.2,448.8 326.5,454.2 326.8,455.0 327.1,445.2 327.4,440.4 327.7,460.5 328.0,451.6 328.2,447.1 328.5,452.4 328.8,447.0 329.1,448.8 329.4,438.4 329.7,449.2 329.9,459.8 330.2,455.7 330.5,450.2 330.8,452.0 331.1,455.2 331.4,457.2 331.7,447.5 331.9,450.4 332.2,452.8 332.5,456.5 332.8,450.0 333.1,454.3 333.4,456.0 333.7,452.0 333.9,454.5 334.2,458.1 334.5,445.3 334.8,452.6 335.1,453.2 335.4,462.7 335.6,441.2 335.9,447.1 336.2,443.2 336.5,445.4 336.8,452.2 337.1,445.2 337.4,449.6 337.6,450.2 337.9,448.9 338.2,454.4 338.5,451.8 338.8,445.6 339.1,447.6 339.3,451.4 339.6,446.8 339.9,452.3 340.2,449.7 340.5,447.1 340.8,448.2 341.1,444.1 341.3,451.5 341.6,446.9 341.9,446.1 342.2,448.3 342.5,461.4 342.8,455.9 343.1,446.4 343.3,444.4 343.6,453.5 343.9,444.4 344.2,455.9 344.5,446.0 344.8,455.4 345.0,460.5 345.3,447.9 345.6,453.1 345.9,453.5 346.2,462.0 346.5,462.3 346.8,444.6 347.0,455.9 347.3,454.5 347.6,450.2 347.9,451.2 348.2,442.6 348.5,443.5 348.7,447.5 349.0,440.8 349.3,449.8 349.6,448.9 349.9,456.1 350.2,442.1 350.5,455.3 350.7,450.2 351.0,450.0 351.3,448.5 351.6,448.8 351.9,445.1 352.2,443.9 352.5,455.7 352.7,436.9 353.0,454.4 353.3,451.2 353.6,450.5 353.9,454.8 354.2,449.3 354.4,450.5 354.7,452.7 355.0,448.5 355.3,454.3 355.6,453.8 355.9,448.4 356.2,451.2 356.4,444.0 356.7,450.3 357.0,449.5 357.3,441.1 357.6,448.8 357.9,451.7 358.1,443.8 358.4,442.0 358.7,448.8 359.0,446.0 359.3,444.2 359.6,449.8 359.9,444.7 360.1,450.6 360.4,455.8 360.7,452.1 361.0,451.6 361.3,445.4 361.6,457.8 361.9,449.7 362.1,460.3 362.4,448.5 362.7,451.6 363.0,444.6 363.3,453.1 363.6,444.1 363.8,451.7 364.1,460.3 364.4,455.2 364.7,444.5 365.0,456.2 365.3,445.0 365.6,449.7 365.8,448.5 366.1,449.4 366.4,451.2 366.7,438.9 367.0,457.1 367.3,451.1 367.5,446.3 367.8,453.5 368.1,459.6 368.4,446.6 368.7,455.5 369.0,451.5 369.3,452.3 369.5,448.8 369.8,451.8 370.1,454.5 370.4,442.9 370.7,446.6 371.0,447.7 371.3,447.1 371.5,441.0 371.8,446.6 372.1,443.3 372.4,451.2 372.7,449.1 373.0,449.9 373.2,451.1 373.5,446.6 373.8,443.8 374.1,452.8 374.4,447.0 374.7,446.0 375.0,457.7 375.2,441.6 375.5,453.7 375.8,456.4 376.1,447.5 376.4,446.2 376.7,451.2 376.9,445.0 377.2,438.9 377.5,455.0 377.8,457.6 378.1,442.2 378.4,452.8 378.7,450.1 378.9,449.0 379.2,452.9 379.5,446.9 379.8,447.6 380.1,449.9 380.4,450.9 380.7,436.6 380.9,455.6 381.2,452.5 381.5,455.2 381.8,448.7 382.1,444.2 382.4,452.5 382.6,452.4 382.9,454.7 383.2,453.1 383.5,444.8 383.8,443.4 384.1,447.9 384.4,450.8 384.6,448.1 384.9,445.5 385.2,448.8 385.5,438.1 385.8,447.0 386.1,435.9 386.3,456.1 386.6,437.8 386.9,456.7 387.2,452.0 387.5,453.1 387.8,452.0 388.1,446.0 388.3,448.7 388.6,457.0 388.9,443.4 389.2,448.2 389.5,454.7 389.8,446.6 390.1,459.5 390.3,444.5 390.6,447.0 390.9,451.4 391.2,447.1 391.5,449.6 391.8,450.9 392.0,449.8 392.3,452.4 392.6,452.4 392.9,452.0 393.2,451.1 393.5,450.2 393.8,451.5 394.0,451.6 394.3,453.6 394.6,458.0 394.9,446.0 395.2,458.7 395.5,453.8 395.7,454.5 396.0,446.5 396.3,450.7 396.6,450.9 396.9,447.8 397.2,452.9 397.5,443.0 397.7,444.6 398.0,453.4 398.3,451.1 398.6,440.4 398.9,451.2 399.2,449.6 399.5,453.3 399.7,448.4 400.0,448.7 400.3,443.4 400.6,448.0 400.9,446.5 401.2,451.5 401.4,438.1 401.7,448.7 402.0,454.7 402.3,435.1 402.6,452.8 402.9,451.7 403.2,450.3 403.4,451.7 403.7,446.5 404.0,454.9 404.3,452.0 404.6,441.4 404.9,454.5 405.1,445.1 405.4,446.0 405.7,453.3 406.0,449.2 406.3,452.3 406.6,452.9 406.9,450.9 407.1,453.7 407.4,443.3 407.7,460.4 408.0,456.0 408.3,448.0 408.6,450.3 408.9,459.0 409.1,446.5 409.4,442.4 409.7,462.1 410.0,458.1 410.3,453.0 410.6,459.9 410.8,453.4 411.1,454.7 411.4,454.0 411.7,454.9 412.0,445.8 412.3,451.2 412.6,452.7 412.8,445.1 413.1,443.9 413.4,450.2 413.7,459.0 414.0,449.7 414.3,455.9 414.5,456.8 414.8,457.2 415.1,453.4 415.4,440.6 415.7,438.3 416.0,443.8 416.3,448.3 416.5,449.2 416.8,447.3 417.1,448.1 417.4,453.3 417.7,443.6 418.0,453.3 418.2,453.1 418.5,440.5 418.8,450.8 419.1,449.7 419.4,452.5 419.7,452.0 420.0,437.3 420.2,459.4 420.5,449.5 420.8,453.9 421.1,453.4 421.4,442.8 421.7,447.8 422.0,446.9 422.2,459.9 422.5,440.5 422.8,456.3 423.1,452.7 423.4,447.1 423.7,441.9 423.9,446.4 424.2,451.2 424.5,442.1 424.8,448.5 425.1,450.6 425.4,451.0 425.7,445.1 425.9,450.6 426.2,451.2 426.5,435.8 426.8,440.6 427.1,439.3 427.4,443.1 427.6,451.6 427.9,450.2 428.2,449.6 428.5,444.6 428.8,453.2 429.1,438.5 429.4,439.4 429.6,451.0 429.9,445.4 430.2,452.6 430.5,451.2 430.8,451.5 431.1,441.4 431.4,442.5 431.6,436.0 431.9,445.3 432.2,445.0 432.5,441.8 432.8,443.5 433.1,446.2 433.3,450.3 433.6,442.2 433.9,442.2 434.2,445.3 434.5,449.3 434.8,456.9 435.1,452.2 435.3,433.8 435.6,438.2 435.9,443.7 436.2,434.4 436.5,452.9 436.8,444.5 437.0,442.7 437.3,449.3 437.6,452.5 437.9,449.2 438.2,451.6 438.5,457.2 438.8,446.8 439.0,452.9 439.3,443.2 439.6,447.1 439.9,459.5 440.2,450.2 440.5,449.1 440.8,459.0 441.0,452.3 441.3,459.9 441.6,465.3 441.9,467.0 442.2,454.2 442.5,457.3 442.7,452.6 443.0,464.7 443.3,458.7 443.6,470.5 443.9,453.5 444.2,455.8 444.5,442.8 444.7,452.5 445.0,452.9 445.3,458.6 445.6,461.2 445.9,452.2 446.2,455.6 446.4,459.4 446.7,456.0 447.0,459.8 447.3,464.4 447.6,453.4 447.9,458.2 448.2,462.6 448.4,457.3 448.7,464.8 449.0,455.4 449.3,462.7 449.6,458.5 449.9,460.3 450.2,454.0 450.4,462.9 450.7,451.8 451.0,463.0 451.3,457.9 451.6,459.2 451.9,464.6 452.1,451.3 452.4,462.2 452.7,460.3 453.0,456.1 453.3,462.8 453.6,458.7 453.9,468.3 454.1,456.5 454.4,466.9 454.7,466.0 455.0,460.8 455.3,455.6 455.6,458.8 455.8,452.4 456.1,455.3 456.4,455.7 456.7,460.5 457.0,451.6 457.3,460.9 457.6,456.3 457.8,463.5 458.1,461.6 458.4,455.6 458.7,459.9 459.0,459.8 459.3,456.1 459.6,457.5 459.8,458.2 460.1,453.9 460.4,452.7 460.7,460.0 461.0,450.0 461.3,461.4 461.5,463.2 461.8,456.9 462.1,461.3 462.4,455.2 462.7,462.4 463.0,473.9 463.3,461.5 463.5,458.7 463.8,458.7 464.1,451.7 464.4,454.9 464.7,457.0 465.0,455.1 465.2,458.5 465.5,464.2 465.8,450.6 466.1,454.3 466.4,458.1 466.7,451.2 467.0,452.4 467.2,459.5 467.5,459.9 467.8,458.6 468.1,451.9 468.4,459.8 468.7,461.4 469.0,455.0 469.2,457.8 469.5,456.3 469.8,456.7 470.1,455.5 470.4,460.5 470.7,454.5 470.9,467.7 471.2,462.5 471.5,458.1 471.8,471.0 472.1,460.6 472.4,448.3 472.7,465.7 472.9,463.7 473.2,459.9 473.5,460.4 473.8,456.8 474.1,453.7 474.4,454.0 474.6,472.4 474.9,456.1 475.2,459.9 475.5,468.5 475.8,455.3 476.1,458.5 476.4,456.5 476.6,451.0 476.9,461.4 477.2,462.0 477.5,457.5 477.8,457.6 478.1,461.9 478.4,462.2 478.6,468.8 478.9,462.0 479.2,462.3 479.5,454.3 479.8,450.1 480.1,464.0 480.3,452.1 480.6,459.9 480.9,456.3 481.2,450.8 481.5,456.2 481.8,463.9 482.1,461.6 482.3,451.0 482.6,451.8 482.9,441.6 483.2,445.9 483.5,449.3 483.8,452.2 484.0,454.4 484.3,449.3 484.6,458.4 484.9,446.2 485.2,455.0 485.5,445.0 485.8,448.4 486.0,451.1 486.3,454.1 486.6,445.2 486.9,446.6 487.2,447.3 487.5,449.8 487.8,456.4 488.0,451.8 488.3,445.7 488.6,445.7 488.9,454.6 489.2,455.1 489.5,453.1 489.7,447.0 490.0,441.6 490.3,442.3 490.6,447.4 490.9,440.3 491.2,445.4 491.5,459.1 491.7,448.3 492.0,451.0 492.3,439.9 492.6,454.1 492.9,443.2 493.2,445.6 493.4,446.1 493.7,444.9 494.0,440.9 494.3,447.5 494.6,455.9 494.9,440.9 495.2,447.7 495.4,435.4 495.7,443.6 496.0,437.4 496.3,449.5 496.6,437.8 496.9,443.9 497.2,440.1 497.4,431.8 497.7,439.0 498.0,438.2 498.3,442.7 498.6,436.3 498.9,426.1 499.1,430.5 499.4,433.3 499.7,440.4 500.0,433.9 500.3,441.8 500.6,434.6 500.9,438.9 501.1,442.9 501.4,438.1 501.7,427.3 502.0,445.0 502.3,437.2 502.6,444.0 502.8,424.9 503.1,440.1 503.4,440.4 503.7,438.5 504.0,441.1 504.3,436.2 504.6,437.3 504.8,446.2 505.1,442.5 505.4,448.7 505.7,447.1 506.0,441.0 506.3,445.8 506.5,444.2 506.8,449.8 507.1,457.1 507.4,448.2 507.7,445.6 508.0,461.8 508.3,448.3 508.5,446.5 508.8,449.2 509.1,439.8 509.4,461.5 509.7,459.8 510.0,460.4 510.3,458.0 510.5,454.5 510.8,453.1 511.1,452.3 511.4,461.2 511.7,462.7 512.0,462.4 512.2,452.9 512.5,469.5 512.8,455.3 513.1,459.9 513.4,460.1 513.7,458.1 514.0,448.9 514.2,454.9 514.5,458.9 514.8,467.6 515.1,460.5 515.4,465.0 515.7,457.3 515.9,462.2 516.2,471.0 516.5,474.7 516.8,467.6 517.1,469.1 517.4,467.3 517.7,466.3 517.9,467.8 518.2,472.8 518.5,464.6 518.8,462.7 519.1,471.6 519.4,465.9 519.7,471.1 519.9,464.2 520.2,470.9 520.5,467.8 520.8,467.5 521.1,473.8 521.4,467.5 521.6,459.0 521.9,464.9 522.2,469.8 522.5,479.1 522.8,469.2 523.1,465.2 523.4,468.1 523.6,475.9 523.9,472.5 524.2,473.0 524.5,473.2 524.8,477.8 525.1,464.1 525.3,476.8 525.6,473.4 525.9,465.9 526.2,474.1 526.5,477.5 526.8,469.8 527.1,476.1 527.3,461.1 527.6,464.4 527.9,474.3 528.2,472.5 528.5,475.6 528.8,475.0 529.1,477.0 529.3,465.9 529.6,466.1 529.9,478.8 530.2,475.0 530.5,473.7 530.8,472.7 531.0,481.4 531.3,470.1 531.6,475.4 531.9,480.5 532.2,470.7 532.5,470.6 532.8,471.8 533.0,463.7 533.3,478.7 533.6,478.0 533.9,482.1 534.2,473.1 534.5,475.3 534.7,476.5 535.0,481.1 535.3,474.7 535.6,475.3 535.9,469.6 536.2,474.4 536.5,472.6 536.7,477.5 537.0,475.9 537.3,466.8 537.6,467.0 537.9,473.8 538.2,470.0 538.5,473.4 538.7,477.4 539.0,465.9 539.3,473.8 539.6,467.3 539.9,471.8 540.2,471.4 540.4,466.8 540.7,460.9 541.0,470.2 541.3,466.3 541.6,472.9 541.9,472.6 542.2,476.6 542.4,474.8 542.7,463.1 543.0,464.0 543.3,468.0 543.6,471.7 543.9,473.5 544.1,469.2 544.4,474.1 544.7,468.1 545.0,477.8 545.3,470.7 545.6,470.4 545.9,470.8 546.1,473.4 546.4,480.5 546.7,474.6 547.0,478.4 547.3,470.6 547.6,477.4 547.9,478.1 548.1,479.4 548.4,470.3 548.7,470.7 549.0,475.2 549.3,477.8 549.6,471.0 549.8,475.8 550.1,482.2 550.4,465.3 550.7,468.4 551.0,473.2 551.3,476.2 551.6,473.6 551.8,475.9 552.1,479.9 552.4,470.7 552.7,468.8 553.0,479.1 553.3,464.4 553.5,476.3 553.8,478.3 554.1,473.3 554.4,469.2 554.7,472.6 555.0,469.2 555.3,481.2 555.5,474.8 555.8,472.3 556.1,474.1 556.4,474.7 556.7,477.3 557.0,474.1 557.3,469.1 557.5,471.7 557.8,468.2 558.1,466.9 558.4,474.8 558.7,471.2 559.0,473.1 559.2,477.1 559.5,478.5 559.8,474.8 560.1,471.8 560.4,477.5 560.7,470.7 561.0,481.7 561.2,472.5 561.5,480.1 561.8,470.0 562.1,478.8 562.4,477.2 562.7,474.6 562.9,480.4 563.2,478.1 563.5,476.2 563.8,475.5 564.1,478.4 564.4,476.9 564.7,472.6 564.9,473.1 565.2,475.7 565.5,470.9 565.8,467.2 566.1,480.2 566.4,473.5 566.7,486.5 566.9,476.9 567.2,479.6 567.5,479.3 567.8,475.7 568.1,473.6 568.4,467.6 568.6,469.8 568.9,468.3 569.2,467.6 569.5,467.0 569.8,474.9 570.1,464.3 570.4,480.9 570.6,469.2 570.9,474.7 571.2,473.8 571.5,474.2 571.8,471.5 572.1,470.8 572.3,472.1 572.6,475.6 572.9,474.7 573.2,472.3 573.5,464.5 573.8,467.4 574.1,472.1 574.3,477.4 574.6,478.9 574.9,469.6 575.2,474.1 575.5,470.1 575.8,468.5 576.1,473.5 576.3,476.0 576.6,474.5 576.9,462.4 577.2,478.8 577.5,463.4 577.8,478.2 578.0,479.7 578.3,486.3 578.6,465.7 578.9,469.8 579.2,472.5 579.5,473.8 579.8,469.2 580.0,476.5 580.3,469.0 580.6,470.9 580.9,470.5 581.2,474.1 581.5,472.8 581.7,463.0 582.0,474.2 582.3,465.6 582.6,465.9 582.9,466.9 583.2,469.2 583.5,473.2 583.7,473.1 584.0,463.2 584.3,469.8 584.6,475.3 584.9,474.6 585.2,471.2 585.5,466.9 585.7,473.2 586.0,469.3 586.3,464.1 586.6,459.0 586.9,473.2 587.2,476.6 587.4,480.4 587.7,477.5 588.0,473.5 588.3,470.9 588.6,472.5 588.9,474.8 589.2,466.2 589.4,472.5 589.7,470.2 590.0,475.3 590.3,475.1 590.6,462.1 590.9,464.7 591.1,472.2 591.4,474.9 591.7,468.4 592.0,472.9 592.3,472.2 592.6,469.6 592.9,469.1 593.1,473.6 593.4,477.3 593.7,468.9 594.0,474.2 594.3,472.6 594.6,469.0 594.8,468.9 595.1,467.2 595.4,472.5 595.7,474.7 596.0,470.7 596.3,463.8 596.6,472.8 596.8,472.0 597.1,470.9 597.4,478.2 597.7,469.2 598.0,471.7 598.3,474.0 598.6,480.4 598.8,468.4 599.1,474.5 599.4,464.8 599.7,470.4 600.0,472.3 600.3,467.5 600.5,476.3 600.8,474.9 601.1,470.1 601.4,474.3 601.7,470.4 602.0,472.4 602.3,472.6 602.5,480.0 602.8,469.2 603.1,475.9 603.4,478.6 603.7,473.3 604.0,475.6 604.2,482.1 604.5,467.1 604.8,466.7 605.1,474.6 605.4,471.8 605.7,478.7 606.0,468.8 606.2,471.8 606.5,474.4 606.8,461.4 607.1,478.3 607.4,472.1 607.7,467.8 608.0,469.4 608.2,470.1 608.5,479.2 608.8,469.0 609.1,479.7 609.4,471.0 609.7,476.1 609.9,472.5 610.2,474.4 610.5,479.3 610.8,474.4 611.1,472.1 611.4,479.6 611.7,484.6 611.9,474.0 612.2,473.6 612.5,472.1 612.8,468.1 613.1,470.8 613.4,475.7 613.6,470.7 613.9,474.9 614.2,473.9 614.5,475.7 614.8,479.6 615.1,471.9 615.4,465.5 615.6,472.9 615.9,474.4 616.2,480.1 616.5,471.9 616.8,468.6 617.1,467.6 617.4,474.8 617.6,471.1 617.9,477.2 618.2,479.0 618.5,472.9 618.8,475.8 619.1,473.4 619.3,476.1 619.6,466.9 619.9,469.2 620.2,480.9 620.5,466.0 620.8,468.0 621.1,475.4 621.3,468.0 621.6,470.3 621.9,467.8 622.2,478.9 622.5,471.2 622.8,479.2 623.0,472.4 623.3,463.5 623.6,471.7 623.9,462.2 624.2,475.3 624.5,460.2 624.8,475.5 625.0,472.9 625.3,477.2 625.6,472.1 625.9,471.1 626.2,467.8 626.5,466.4 626.8,465.7 627.0,467.4 627.3,467.7 627.6,479.7 627.9,470.4 628.2,464.0 628.5,474.6 628.7,468.6 629.0,464.8 629.3,468.8 629.6,465.2 629.9,471.1 630.2,467.3 630.5,474.1 630.7,463.4 631.0,470.5 631.3,463.4 631.6,478.6 631.9,464.4 632.2,479.5 632.4,468.9 632.7,475.0 633.0,466.1 633.3,468.4 633.6,476.5 633.9,463.2 634.2,472.3 634.4,461.5 634.7,479.1 635.0,474.0 635.3,459.9 635.6,466.8 635.9,473.5 636.2,479.2 636.4,467.8 636.7,459.1 637.0,474.1 637.3,464.1 637.6,467.8 637.9,465.5 638.1,460.9 638.4,456.8 638.7,475.3 639.0,468.4 639.3,467.9 639.6,464.9 639.9,469.7 640.1,462.7 640.4,462.5 640.7,461.5 641.0,461.3 641.3,469.9 641.6,461.2 641.8,477.9 642.1,468.3 642.4,466.6 642.7,467.7 643.0,476.5 643.3,457.5 643.6,468.8 643.8,477.2 644.1,473.6 644.4,469.7 644.7,465.9 645.0,478.9 645.3,465.0 645.6,476.2 645.8,461.8 646.1,458.5 646.4,466.0 646.7,463.5 647.0,454.1 647.3,465.2 647.5,477.4 647.8,464.6 648.1,467.5 648.4,465.3 648.7,465.4 649.0,466.8 649.3,466.5 649.5,465.8 649.8,467.6 650.1,468.0 650.4,466.7 650.7,458.5 651.0,461.6 651.2,460.0 651.5,464.5 651.8,473.3 652.1,467.1 652.4,463.5 652.7,475.6 653.0,469.7 653.2,462.4 653.5,468.1 653.8,470.9 654.1,470.6 654.4,463.0 654.7,467.2 655.0,462.9 655.2,459.7 655.5,469.0 655.8,456.9 656.1,466.0 656.4,472.0 656.7,470.2 656.9,467.2 657.2,469.5 657.5,468.6 657.8,474.5 658.1,470.8 658.4,472.0 658.7,465.1 658.9,467.8 659.2,466.0 659.5,473.7 659.8,472.8 660.1,469.2 660.4,472.8 660.6,469.0 660.9,467.7 661.2,471.3 661.5,469.8 661.8,479.7 662.1,462.1 662.4,473.1 662.6,463.7 662.9,472.1 663.2,463.3 663.5,459.7 663.8,475.7 664.1,467.1 664.4,475.9 664.6,464.4 664.9,463.9 665.2,473.9 665.5,464.9 665.8,468.1 666.1,463.6 666.3,466.8 666.6,457.4 666.9,466.2 667.2,467.5 667.5,472.8 667.8,473.1 668.1,467.9 668.3,468.8 668.6,468.2 668.9,478.9 669.2,465.1 669.5,472.6 669.8,469.2 670.0,462.5 670.3,471.5 670.6,474.6 670.9,470.7 671.2,463.8 671.5,472.5 671.8,473.1 672.0,468.2 672.3,475.0 672.6,463.2 672.9,465.4 673.2,469.9 673.5,471.8 673.8,476.4 674.0,476.7 674.3,468.6 674.6,477.1 674.9,479.6 675.2,476.0 675.5,471.1 675.7,470.2 676.0,467.2 676.3,461.4 676.6,466.7 676.9,463.3 677.2,470.8 677.5,470.2 677.7,471.1 678.0,470.7 678.3,471.3 678.6,466.2 678.9,466.9 679.2,470.5 679.4,475.2 679.7,459.6 680.0,462.7 680.3,466.5 680.6,462.7 680.9,464.8 681.2,467.4 681.4,463.5 681.7,471.1 682.0,470.6 682.3,470.9 682.6,469.6 682.9,471.1 683.1,455.2 683.4,471.6 683.7,463.5 684.0,478.4 684.3,465.1 684.6,470.2 684.9,461.9 685.1,463.6 685.4,470.4 685.7,471.5 686.0,477.2 686.3,474.1 686.6,476.3 686.9,479.8 687.1,463.4 687.4,477.7 687.7,467.1 688.0,472.4 688.3,470.5 688.6,475.3 688.8,475.1 689.1,473.8 689.4,469.1 689.7,462.4 690.0,471.5 690.3,471.0 690.6,471.3 690.8,473.8 691.1,480.1 691.4,476.2 691.7,473.1 692.0,468.4 692.3,465.1 692.5,477.9 692.8,474.1 693.1,471.1 693.4,463.6 693.7,469.2 694.0,473.8 694.3,472.9 694.5,468.8 694.8,471.7 695.1,469.7 695.4,468.9 695.7,477.2 696.0,474.1 696.3,472.1 696.5,468.4 696.8,476.9 697.1,464.2 697.4,471.7 697.7,465.4 698.0,460.7 698.2,468.3 698.5,460.9 698.8,469.2 699.1,464.1 699.4,470.7 699.7,468.6 700.0,463.8 700.2,469.1 700.5,467.6 700.8,478.4 701.1,478.3 701.4,475.5 701.7,476.2 701.9,483.5 702.2,473.8 702.5,473.6 702.8,480.4 703.1,476.1 703.4,469.2 703.7,480.9 703.9,474.6 704.2,480.4 704.5,481.1 704.8,472.1 705.1,474.0 705.4,476.4 705.7,467.7 705.9,468.9 706.2,473.9 706.5,472.9 706.8,468.4 707.1,471.9 707.4,473.7 707.6,468.3 707.9,467.4 708.2,469.9 708.5,465.3 708.8,465.9 709.1,467.8 709.4,460.2 709.6,466.4 709.9,470.0 710.2,464.0 710.5,474.1 710.8,470.4 711.1,475.1 711.3,468.7 711.6,472.1 711.9,469.0 712.2,464.5 712.5,472.5 712.8,466.6 713.1,472.7 713.3,465.7 713.6,470.7 713.9,469.6 714.2,477.0 714.5,470.0 714.8,476.9 715.1,474.4 715.3,479.2 715.6,470.4 715.9,476.9 716.2,476.8 716.5,475.7 716.8,473.7 717.0,479.0 717.3,465.7 717.6,475.5 717.9,469.0 718.2,473.8 718.5,475.1 718.8,472.3 719.0,469.0 719.3,465.4 719.6,462.5 719.9,465.7 720.2,470.9 720.5,461.2 720.7,480.4 721.0,467.5 721.3,463.8 721.6,472.3 721.9,472.4 722.2,468.9 722.5,463.2 722.7,467.0 723.0,472.1 723.3,470.1 723.6,456.7 723.9,470.1 724.2,474.5 724.5,462.7 724.7,456.8 725.0,462.2 725.3,466.5 725.6,465.0 725.9,464.9 726.2,451.9 726.4,462.3 726.7,462.0 727.0,465.0 727.3,470.8 727.6,461.1 727.9,470.2 728.2,471.3 728.4,469.2 728.7,461.4 729.0,470.4 729.3,461.4 729.6,462.1 729.9,455.4 730.1,458.0 730.4,458.2 730.7,469.6 731.0,464.4 731.3,464.0 731.6,460.6 731.9,460.2 732.1,457.2 732.4,460.2 732.7,468.9 733.0,460.6 733.3,471.8 733.6,464.0 733.9,458.9 734.1,467.0 734.4,459.7 734.7,464.5 735.0,456.1 735.3,465.7 735.6,459.7 735.8,458.0 736.1,461.2 736.4,452.8 736.7,443.8 737.0,449.8 737.3,458.6 737.6,461.4 737.8,445.2 738.1,454.8 738.4,454.6 738.7,443.4 739.0,440.8 739.3,459.6 739.5,451.5 739.8,446.8 740.1,451.0 740.4,438.0 740.7,448.9 741.0,445.3 741.3,443.4 741.5,450.9 741.8,443.9 742.1,443.2 742.4,439.7 742.7,437.0 743.0,440.4 743.3,449.3 743.5,428.2 743.8,433.0 744.1,435.4 744.4,442.6 744.7,434.3 745.0,441.9 745.2,425.1 745.5,431.5 745.8,442.2 746.1,423.1 746.4,439.4 746.7,445.9 747.0,441.8 747.2,442.0 747.5,431.3 747.8,432.3 748.1,441.3 748.4,435.6 748.7,444.1 748.9,436.1 749.2,436.0 749.5,436.8 749.8,447.2 750.1,445.2 750.4,436.7 750.7,443.8 750.9,435.2 751.2,446.3 751.5,439.4 751.8,449.9 752.1,450.4 752.4,446.6 752.7,432.7 752.9,439.3 753.2,444.9 753.5,445.4 753.8,446.7 754.1,451.4 754.4,442.1 754.6,439.8 754.9,439.8 755.2,455.3 755.5,454.9 755.8,447.8 756.1,451.1 756.4,459.6 756.6,450.9 756.9,457.5 757.2,458.7 757.5,456.1 757.8,459.8 758.1,461.9 758.3,453.7 758.6,446.7 758.9,455.6 759.2,448.2 759.5,447.3 759.8,460.9 760.1,451.6 760.3,454.8 760.6,458.4 760.9,452.7 761.2,461.3 761.5,468.7 761.8,453.8 762.1,458.4 762.3,444.7 762.6,454.1 762.9,468.4 763.2,458.9 763.5,457.0 763.8,462.2 764.0,458.2 764.3,467.7 764.6,459.4 764.9,456.8 765.2,458.8 765.5,448.3 765.8,462.9 766.0,463.5 766.3,451.3 766.6,450.2 766.9,458.2 767.2,462.6 767.5,469.6 767.7,457.7 768.0,458.5 768.3,462.7 768.6,469.9 768.9,459.3 769.2,462.5 769.5,461.3 769.7,470.1 770.0,473.4 770.3,476.7 770.6,474.9 770.9,471.7 771.2,464.8 771.5,470.2 771.7,474.1 772.0,472.1 772.3,464.1 772.6,467.1 772.9,466.4 773.2,473.2 773.4,469.8 773.7,466.5 774.0,471.8 774.3,470.4 774.6,465.3 774.9,473.6 775.2,468.8 775.4,467.7 775.7,463.7 776.0,469.0 776.3,470.9 776.6,458.3 776.9,465.2 777.1,467.2 777.4,471.3 777.7,462.9 778.0,478.7 778.3,468.1 778.6,465.3 778.9,468.9 779.1,473.9 779.4,469.8 779.7,466.5 780.0,471.1 780.3,471.5 780.6,470.6 780.8,465.4 781.1,471.5 781.4,485.3 781.7,469.1 782.0,471.1 782.3,460.1 782.6,470.2 782.8,471.8 783.1,468.2 783.4,469.7 783.7,465.8 784.0,474.6 784.3,471.1 784.6,465.4 784.8,469.6 785.1,472.8 785.4,472.5 785.7,483.5 786.0,471.3 786.3,472.3 786.5,467.9 786.8,474.7 787.1,468.0 787.4,474.4 787.7,469.1 788.0,468.3 788.3,468.5 788.5,482.0 788.8,467.2 789.1,477.6 789.4,473.2 789.7,467.1 790.0,471.8 790.2,469.7 790.5,474.9 790.8,478.7 791.1,482.7 791.4,470.7 791.7,470.5 792.0,469.8 792.2,472.9 792.5,469.0 792.8,480.9 793.1,472.0 793.4,471.2 793.7,460.8 794.0,473.1 794.2,467.5 794.5,483.6 794.8,475.5 795.1,471.0 795.4,475.5 795.7,482.4 795.9,475.4 796.2,477.6 796.5,465.5 796.8,470.8 797.1,468.8 797.4,476.8 797.7,467.9 797.9,466.7 798.2,472.8 798.5,473.9 798.8,477.3 799.1,481.9 799.4,480.1 799.6,474.6 799.9,474.6 800.2,464.7 800.5,478.7 800.8,469.0 801.1,470.8 801.4,472.4 801.6,467.9 801.9,471.4 802.2,477.1 802.5,479.2 802.8,481.9 803.1,477.2 803.4,470.9 803.6,475.6 803.9,468.8 804.2,462.4 804.5,476.2 804.8,471.6 805.1,471.7 805.3,468.9 805.6,482.8 805.9,474.2 806.2,479.8 806.5,474.2 806.8,474.7 807.1,474.3 807.3,480.2 807.6,464.2 807.9,471.5 808.2,469.6 808.5,474.6 808.8,469.9 809.0,472.6 809.3,469.7 809.6,468.3 809.9,474.6 810.2,477.5 810.5,474.4 810.8,466.7 811.0,469.6 811.3,477.0 811.6,471.9 811.9,477.6 812.2,474.3 812.5,481.0 812.8,469.5 813.0,475.3 813.3,478.3 813.6,476.6 813.9,468.1 814.2,470.2 814.5,471.9 814.7,468.5 815.0,471.4 815.3,471.1 815.6,471.6 815.9,471.5 816.2,469.5 816.5,476.8 816.7,477.8 817.0,472.3 817.3,478.9 817.6,478.5 817.9,471.1 818.2,480.9 818.4,479.7 818.7,476.9 819.0,471.1 819.3,474.4 819.6,470.3 819.9,476.3 820.2,471.5 820.4,467.4 820.7,467.5 821.0,470.2 821.3,468.4 821.6,475.2 821.9,476.6 822.2,473.8 822.4,471.4 822.7,472.1 823.0,470.9 823.3,469.5 823.6,475.8 823.9,470.9 824.1,476.4 824.4,469.2 824.7,468.4 825.0,475.7 825.3,487.1 825.6,474.8 825.9,471.0 826.1,481.8 826.4,475.4 826.7,473.7 827.0,469.9 827.3,478.9 827.6,473.4 827.8,471.6 828.1,474.1 828.4,480.6 828.7,479.2 829.0,470.1 829.3,466.0 829.6,482.4 829.8,475.4 830.1,484.5 830.4,476.6 830.7,477.1 831.0,474.5 831.3,474.7 831.6,475.6 831.8,474.7 832.1,481.9 832.4,473.6 832.7,472.8 833.0,480.0 833.3,470.2 833.5,473.2 833.8,474.8 834.1,467.5 834.4,476.6 834.7,474.1 835.0,478.5 835.3,475.8 835.5,468.8 835.8,467.9 836.1,470.8 836.4,473.2 836.7,473.6 837.0,473.3 837.2,477.1 837.5,468.7 837.8,471.6 838.1,481.3 838.4,474.2 838.7,474.4 839.0,477.9 839.2,468.5 839.5,476.1 839.8,474.0 840.1,471.1 840.4,475.5 840.7,481.3 841.0,475.9 841.2,473.8 841.5,481.8 841.8,477.1 842.1,483.5 842.4,480.4 842.7,475.0 842.9,471.2 843.2,472.6 843.5,479.1 843.8,467.9 844.1,484.9 844.4,461.8 844.7,475.5 844.9,478.5 845.2,469.2 845.5,463.0 845.8,470.7 846.1,471.2 846.4,477.4 846.6,473.2 846.9,474.7 847.2,473.0 847.5,480.9 847.8,471.9 848.1,473.4 848.4,475.6 848.6,486.6 848.9,461.2 849.2,463.9 849.5,471.2 849.8,469.5 850.1,473.3 850.4,477.1 850.6,476.4 850.9,471.8 851.2,469.3 851.5,471.5 851.8,468.6 852.1,481.3 852.3,477.6 852.6,471.1 852.9,475.0 853.2,469.4 853.5,471.6 853.8,472.6 854.1,466.4 854.3,472.3 854.6,469.3 854.9,474.8 855.2,467.7 855.5,470.0 855.8,475.6 856.0,480.4 856.3,476.0 856.6,475.1 856.9,466.8 857.2,471.0 857.5,474.5 857.8,473.5 858.0,474.2 858.3,479.1 858.6,480.1 858.9,471.1 859.2,469.5 859.5,465.5 859.8,473.4 860.0,475.7 860.3,478.6 860.6,468.9 860.9,469.9 861.2,468.0 861.5,482.4 861.7,479.8 862.0,469.7 862.3,473.1 862.6,468.3 862.9,470.3 863.2,482.8 863.5,471.4 863.7,472.0 864.0,473.2 864.3,467.0 864.6,466.1 864.9,464.2 865.2,479.1 865.4,470.6 865.7,471.5 866.0,478.8 866.3,469.2 866.6,472.2 866.9,470.4 867.2,476.0 867.4,472.7 867.7,465.6 868.0,478.5 868.3,479.7 868.6,474.9 868.9,471.8 869.1,472.6 869.4,467.4 869.7,471.3 870.0,477.9 870.3,474.3 870.6,466.4 870.9,466.3 871.1,471.6 871.4,479.0 871.7,475.2 872.0,473.0 872.3,477.3 872.6,469.7 872.9,475.0 873.1,471.7 873.4,467.8 873.7,475.8 874.0,466.9 874.3,472.7 874.6,477.6 874.8,466.5 875.1,478.5 875.4,478.9 875.7,475.9 876.0,470.8 876.3,470.7 876.6,470.6 876.8,471.9 877.1,467.4 877.4,473.3 877.7,478.9 878.0,465.4 878.3,480.0 878.5,467.1 878.8,468.3 879.1,470.4 879.4,472.3 879.7,473.6 880.0,480.6 880.3,475.5 880.5,478.7 880.8,470.6 881.1,475.2 881.4,464.4 881.7,467.2 882.0,484.1 882.3,472.1 882.5,475.5 882.8,476.5 883.1,475.6 883.4,465.5 883.7,472.8 884.0,482.6 884.2,476.5 884.5,469.4 884.8,471.4 885.1,468.7 885.4,471.8 885.7,471.4 886.0,470.8 886.2,467.3 886.5,462.4 886.8,473.2 887.1,472.0 887.4,473.7 887.7,476.7 887.9,470.5 888.2,477.4 888.5,471.2 888.8,476.8 889.1,475.5 889.4,468.7 889.7,477.3 889.9,475.2 890.2,473.5 890.5,472.7 890.8,473.5 891.1,469.9 891.4,467.7 891.7,473.5 891.9,477.8 892.2,473.3 892.5,477.7 892.8,467.1 893.1,482.2 893.4,475.7 893.6,473.3 893.9,474.8 894.2,476.2 894.5,474.8 894.8,476.2 895.1,468.3 895.4,477.0 895.6,473.2 895.9,468.6 896.2,477.6 896.5,473.6 896.8,480.7 897.1,470.3 897.3,479.4 897.6,475.6 897.9,469.2 898.2,477.0 898.5,475.2 898.8,477.1 899.1,469.9 899.3,462.1 899.6,470.5 899.9,473.2 900.2,477.0 900.5,478.4 900.8,479.0 901.1,476.0 901.3,474.2 901.6,471.7 901.9,476.4 902.2,472.2 902.5,475.9 902.8,473.3 903.0,478.7 903.3,473.9 903.6,472.9 903.9,473.6 904.2,479.0 904.5,474.1 904.8,482.4 905.0,471.9 905.3,477.9 905.6,475.0 905.9,470.9 906.2,476.0 906.5,478.2 906.7,478.9 907.0,474.5 907.3,470.7 907.6,472.2 907.9,472.9 908.2,484.0 908.5,469.6 908.7,474.8 909.0,485.6 909.3,470.2 909.6,483.0 909.9,482.1 910.2,479.4 910.5,478.0 910.7,467.7 911.0,475.2 911.3,474.7 911.6,481.5 911.9,481.2 912.2,470.4 912.4,464.5 912.7,472.2 913.0,484.8 913.3,476.3 913.6,475.9 913.9,479.1 914.2,474.5 914.4,477.3 914.7,472.0 915.0,472.3 915.3,478.4 915.6,477.0 915.9,479.4 916.1,476.6 916.4,480.9 916.7,478.5 917.0,478.3 917.3,481.9 917.6,477.5 917.9,471.8 918.1,473.4 918.4,476.3 918.7,482.5 919.0,475.2 919.3,476.6 919.6,483.9 919.9,485.1 920.1,472.0 920.4,473.2 920.7,477.8 921.0,479.1 921.3,476.0 921.6,471.7 921.8,488.4 922.1,480.0 922.4,485.0 922.7,481.8 923.0,480.7 923.3,469.9 923.6,479.2 923.8,478.3 924.1,478.1 924.4,473.8 924.7,471.5 925.0,477.4 925.3,480.1 925.5,481.8 925.8,478.0 926.1,469.2 926.4,475.5 926.7,474.9 927.0,474.0 927.3,471.7 927.5,480.0 927.8,474.0 928.1,477.6 928.4,479.7 928.7,473.5 929.0,475.8 929.3,474.1 929.5,482.3 929.8,473.6 930.1,469.9 930.4,481.2 930.7,465.7 931.0,483.2 931.2,478.7 931.5,478.3 931.8,478.3 932.1,476.6 932.4,478.1 932.7,464.7 933.0,474.1 933.2,470.2 933.5,466.7 933.8,469.8 934.1,473.8 934.4,476.6 934.7,472.0 934.9,471.5 935.2,482.6 935.5,479.2 935.8,472.5 936.1,472.7 936.4,477.3 936.7,480.8 936.9,474.6 937.2,476.6 937.5,481.4 937.8,470.3 938.1,477.9 938.4,476.2 938.7,472.6 938.9,478.1 939.2,480.7 939.5,475.4 939.8,474.3 940.1,482.6 940.4,477.4 940.6,472.5 940.9,477.7 941.2,479.5 941.5,475.4 941.8,467.9 942.1,473.6 942.4,471.2 942.6,483.2 942.9,472.8 943.2,484.3 943.5,476.6 943.8,476.9 944.1,477.8 944.3,484.0 944.6,472.0 944.9,475.0 945.2,475.6 945.5,478.6 945.8,474.5 946.1,477.8 946.3,481.1 946.6,475.4 946.9,483.0 947.2,477.1 947.5,476.4 947.8,479.9 948.1,475.5 948.3,478.9 948.6,474.0 948.9,471.2 949.2,477.7 949.5,479.3 949.8,475.6 950.0,479.5 950.3,473.5 950.6,484.6 950.9,473.8 951.2,477.0 951.5,474.3 951.8,473.7 952.0,470.3 952.3,480.3 952.6,473.4 952.9,471.4 953.2,479.2 953.5,479.0 953.7,471.5 954.0,477.8 954.3,480.3 954.6,476.6 954.9,470.6 955.2,476.4 955.5,473.9 955.7,472.3 956.0,479.3 956.3,481.7 956.6,469.4 956.9,478.1 957.2,476.6 957.4,482.5 957.7,478.6 958.0,475.5 958.3,488.1 958.6,481.4 958.9,488.3 959.2,483.5 959.4,478.7 959.7,476.5 960.0,476.3 960.3,481.4 960.6,483.2 960.9,488.3 961.2,476.9 961.4,482.4 961.7,485.1 962.0,487.6 962.3,485.5 962.6,483.7 962.9,483.8 963.1,474.9 963.4,480.8 963.7,474.8 964.0,489.6 964.3,484.4 964.6,479.4 964.9,478.6 965.1,478.6 965.4,482.4 965.7,478.4 966.0,479.0 966.3,475.6 966.6,481.8 966.8,482.1 967.1,474.4 967.4,481.5 967.7,477.7 968.0,481.9 968.3,482.2 968.6,475.3 968.8,479.9 969.1,481.8 969.4,471.5 969.7,476.8 970.0,471.9 970.3,479.1 970.6,469.0 970.8,480.1 971.1,474.8 971.4,479.2 971.7,485.4 972.0,476.3 972.3,472.3 972.5,471.6 972.8,479.9 973.1,471.1 973.4,470.6 973.7,478.8 974.0,483.2 974.3,479.2 974.5,486.3 974.8,483.8 975.1,482.1 975.4,481.0 975.7,480.9 976.0,481.4 976.2,484.1 976.5,480.4 976.8,473.3 977.1,472.2 977.4,475.1 977.7,479.7 978.0,472.7 978.2,478.2 978.5,480.2 978.8,483.9 979.1,474.6 979.4,474.3 979.7,472.6 980.0,472.8 980.2,476.2 980.5,484.3 980.8,466.5 981.1,477.6 981.4,478.8 981.7,483.7 981.9,483.3 982.2,479.2 982.5,470.5 982.8,474.4 983.1,476.5 983.4,474.8 983.7,481.6 983.9,476.3 984.2,473.7 984.5,478.6 984.8,482.6 985.1,476.7 985.4,474.8 985.6,475.9 985.9,479.8 986.2,480.9 986.5,476.8 986.8,476.4 987.1,483.0 987.4,489.4 987.6,490.9 987.9,490.0 988.2,476.8 988.5,480.4 988.8,479.2 989.1,477.5 989.4,477.1 989.6,479.5 989.9,481.6 990.2,485.3 990.5,485.4 990.8,478.4 991.1,478.4 991.3,483.7 991.6,482.7 991.9,477.7 992.2,480.1 992.5,472.0 992.8,481.1 993.1,474.7 993.3,481.1 993.6,467.2 993.9,479.6 994.2,474.1 994.5,476.9 994.8,479.5 995.0,476.0 995.3,485.8 995.6,482.9 995.9,476.8 996.2,485.8 996.5,478.0 996.8,479.0 997.0,485.7 997.3,486.1 997.6,478.0 997.9,481.0 998.2,477.2 998.5,481.9 998.8,476.4 999.0,482.5 999.3,470.2 999.6,479.0 999.9,482.4 1000.2,478.1 1000.5,470.0 1000.7,478.1 1001.0,472.4 1001.3,475.1 1001.6,477.5"/>
<polyline fill="none" stroke="#0000ff" stroke-width="1.8" stroke-linejoin="miter" points="90.4,544.8 90.7,540.0 91.0,540.4 91.3,543.9 91.5,547.6 91.8,547.4 92.1,539.8 92.4,538.7 92.7,548.8 93.0,545.2 93.2,549.6 93.5,541.4 93.8,539.5 94.1,544.3 94.4,532.3 94.7,545.3 95.0,538.1 95.2,537.6 95.5,540.6 95.8,533.7 96.1,537.2 96.4,548.2 96.7,533.4 97.0,540.8 97.2,534.4 97.5,546.4 97.8,550.1 98.1,528.6 98.4,541.8 98.7,541.3 98.9,544.3 99.2,545.6 99.5,542.3 99.8,544.0 100.1,536.5 100.4,550.6 100.7,544.2 100.9,534.9 101.2,539.6 101.5,540.5 101.8,534.6 102.1,537.9 102.4,536.8 102.6,547.3 102.9,552.1 103.2,544.2 103.5,550.7 103.8,536.9 104.1,543.6 104.4,541.1 104.6,547.5 104.9,539.1 105.2,542.3 105.5,542.2 105.8,540.3 106.1,536.6 106.4,546.5 106.6,536.7 106.9,543.1 107.2,534.1 107.5,533.4 107.8,535.5 108.1,536.2 108.3,546.3 108.6,536.2 108.9,537.7 109.2,537.0 109.5,542.5 109.8,545.4 110.1,536.5 110.3,538.1 110.6,546.1 110.9,546.7 111.2,539.7 111.5,538.4 111.8,525.6 112.0,534.9 112.3,544.9 112.6,535.6 112.9,527.3 113.2,536.4 113.5,534.7 113.8,541.6 114.0,537.8 114.3,539.4 114.6,547.2 114.9,536.6 115.2,534.3 115.5,539.5 115.8,541.0 116.0,533.0 116.3,543.0 116.6,530.8 116.9,534.7 117.2,543.0 117.5,548.0 117.7,539.1 118.0,545.8 118.3,540.0 118.6,535.9 118.9,539.0 119.2,544.6 119.5,544.2 119.7,549.6 120.0,543.0 120.3,548.0 120.6,548.4 120.9,534.4 121.2,533.7 121.4,538.2 121.7,545.1 122.0,545.9 122.3,534.8 122.6,535.8 122.9,532.3 123.2,534.1 123.4,550.4 123.7,537.0 124.0,530.9 124.3,532.1 124.6,527.6 124.9,542.0 125.2,537.2 125.4,550.0 125.7,547.6 126.0,532.8 126.3,531.1 126.6,531.4 126.9,544.6 127.1,555.1 127.4,537.9 127.7,537.3 128.0,539.1 128.3,536.1 128.6,531.2 128.9,537.7 129.1,534.1 129.4,541.2 129.7,540.1 130.0,539.9 130.3,545.0 130.6,535.2 130.8,548.8 131.1,547.2 131.4,548.0 131.7,539.4 132.0,543.4 132.3,549.8 132.6,545.4 132.8,534.8 133.1,545.5 133.4,540.7 133.7,541.4 134.0,542.0 134.3,534.2 134.6,538.0 134.8,536.0 135.1,537.2 135.4,544.3 135.7,546.6 136.0,544.1 136.3,545.7 136.5,540.7 136.8,539.6 137.1,536.5 137.4,545.3 137.7,540.7 138.0,543.0 138.3,541.9 138.5,550.0 138.8,536.0 139.1,538.8 139.4,534.4 139.7,537.0 140.0,544.1 140.2,539.4 140.5,528.2 140.8,535.6 141.1,541.8 141.4,541.0 141.7,538.2 142.0,543.9 142.2,539.9 142.5,540.9 142.8,544.5 143.1,544.0 143.4,531.4 143.7,538.6 143.9,547.0 144.2,541.0 144.5,546.0 144.8,537.1 145.1,543.3 145.4,538.8 145.7,537.8 145.9,539.6 146.2,544.1 146.5,534.9 146.8,537.6 147.1,535.0 147.4,536.3 147.7,537.6 147.9,536.8 148.2,538.1 148.5,544.5 148.8,533.2 149.1,526.5 149.4,547.0 149.6,548.7 149.9,531.8 150.2,536.4 150.5,543.9 150.8,538.7 151.1,536.8 151.4,534.9 151.6,530.8 151.9,547.1 152.2,539.9 152.5,531.1 152.8,543.4 153.1,545.9 153.3,541.3 153.6,542.5 153.9,532.6 154.2,542.9 154.5,538.5 154.8,537.2 155.1,535.3 155.3,540.7 155.6,554.7 155.9,538.3 156.2,539.8 156.5,539.0 156.8,539.3 157.1,548.9 157.3,544.7 157.6,551.0 157.9,549.3 158.2,531.0 158.5,546.0 158.8,539.5 159.0,531.3 159.3,532.2 159.6,538.2 159.9,546.2 160.2,543.7 160.5,540.1 160.8,534.5 161.0,538.2 161.3,540.8 161.6,541.9 161.9,536.9 162.2,529.0 162.5,534.2 162.7,542.2 163.0,539.1 163.3,543.3 163.6,543.2 163.9,535.6 164.2,542.0 164.5,545.5 164.7,535.0 165.0,535.6 165.3,545.1 165.6,537.2 165.9,539.8 166.2,538.2 166.5,538.7 166.7,538.0 167.0,545.0 167.3,540.0 167.6,538.8 167.9,540.8 168.2,536.9 168.4,533.7 168.7,531.9 169.0,548.6 169.3,535.4 169.6,533.5 169.9,542.8 170.2,543.2 170.4,542.9 170.7,543.2 171.0,533.8 171.3,551.0 171.6,546.6 171.9,538.9 172.1,538.6 172.4,527.5 172.7,535.7 173.0,545.8 173.3,546.6 173.6,539.1 173.9,536.5 174.1,541.4 174.4,540.1 174.7,541.3 175.0,545.9 175.3,528.1 175.6,542.1 175.9,533.3 176.1,545.5 176.4,537.3 176.7,533.0 177.0,544.7 177.3,545.8 177.6,537.8 177.8,549.7 178.1,538.5 178.4,537.9 178.7,540.6 179.0,538.9 179.3,535.8 179.6,547.8 179.8,537.0 180.1,541.5 180.4,535.0 180.7,533.8 181.0,534.1 181.3,530.6 181.5,542.9 181.8,529.7 182.1,537.2 182.4,539.2 182.7,527.0 183.0,540.5 183.3,532.7 183.5,535.3 183.8,532.4 184.1,542.8 184.4,531.0 184.7,533.5 185.0,541.2 185.3,552.1 185.5,546.4 185.8,547.6 186.1,535.6 186.4,548.2 186.7,540.3 187.0,540.2 187.2,554.2 187.5,550.6 187.8,543.6 188.1,536.4 188.4,543.4 188.7,547.3 189.0,543.5 189.2,549.4 189.5,539.3 189.8,545.0 190.1,547.3 190.4,541.0 190.7,538.6 190.9,549.1 191.2,542.0 191.5,543.4 191.8,536.4 192.1,542.4 192.4,542.7 192.7,542.6 192.9,540.9 193.2,541.7 193.5,539.1 193.8,541.6 194.1,538.2 194.4,537.7 194.7,549.0 194.9,525.8 195.2,531.1 195.5,540.3 195.8,538.0 196.1,553.9 196.4,545.9 196.6,548.9 196.9,537.3 197.2,539.1 197.5,533.4 197.8,538.4 198.1,546.0 198.4,537.6 198.6,547.0 198.9,544.0 199.2,535.3 199.5,537.2 199.8,541.0 200.1,546.8 200.3,538.9 200.6,538.8 200.9,542.3 201.2,543.5 201.5,544.2 201.8,547.3 202.1,533.8 202.3,541.5 202.6,546.1 202.9,552.0 203.2,546.7 203.5,542.3 203.8,543.9 204.1,537.9 204.3,545.8 204.6,535.8 204.9,536.3 205.2,537.5 205.5,541.6 205.8,546.3 206.0,539.7 206.3,548.2 206.6,545.6 206.9,546.6 207.2,542.8 207.5,540.6 207.8,538.3 208.0,543.2 208.3,538.7 208.6,534.8 208.9,541.6 209.2,542.9 209.5,536.3 209.7,533.1 210.0,536.7 210.3,527.3 210.6,543.0 210.9,535.6 211.2,542.7 211.5,540.9 211.7,535.8 212.0,537.4 212.3,525.8 212.6,536.3 212.9,530.2 213.2,541.2 213.5,535.1 213.7,539.0 214.0,533.6 214.3,530.7 214.6,531.0 214.9,542.9 215.2,538.3 215.4,535.3 215.7,537.0 216.0,531.5 216.3,536.8 216.6,533.7 216.9,548.4 217.2,531.2 217.4,537.6 217.7,530.7 218.0,530.5 218.3,529.4 218.6,546.9 218.9,542.8 219.1,546.3 219.4,544.5 219.7,538.7 220.0,534.2 220.3,535.7 220.6,532.5 220.9,538.5 221.1,537.3 221.4,537.1 221.7,548.3 222.0,531.9 222.3,539.7 222.6,534.5 222.9,536.8 223.1,536.9 223.4,545.2 223.7,535.0 224.0,539.3 224.3,548.7 224.6,548.8 224.8,542.0 225.1,542.4 225.4,549.7 225.7,543.8 226.0,538.3 226.3,536.4 226.6,536.1 226.8,541.4 227.1,539.6 227.4,548.4 227.7,537.6 228.0,546.4 228.3,542.3 228.5,541.3 228.8,545.5 229.1,540.3 229.4,539.4 229.7,530.2 230.0,537.6 230.3,531.9 230.5,538.8 230.8,537.4 231.1,536.4 231.4,531.7 231.7,533.7 232.0,543.5 232.2,541.1 232.5,534.4 232.8,542.9 233.1,534.6 233.4,526.8 233.7,534.0 234.0,534.7 234.2,530.8 234.5,532.4 234.8,537.6 235.1,531.6 235.4,536.0 235.7,538.9 236.0,531.7 236.2,534.7 236.5,532.0 236.8,540.8 237.1,546.3 237.4,542.1 237.7,528.7 237.9,544.0 238.2,534.2 238.5,540.2 238.8,533.2 239.1,550.0 239.4,541.6 239.7,537.1 239.9,541.0 240.2,548.2 240.5,530.3 240.8,544.3 241.1,539.3 241.4,528.6 241.6,539.7 241.9,541.4 242.2,535.7 242.5,531.0 242.8,532.7 243.1,537.1 243.4,541.3 243.6,537.6 243.9,540.9 244.2,530.6 244.5,529.5 244.8,543.9 245.1,546.4 245.4,535.1 245.6,538.0 245.9,537.8 246.2,542.0 246.5,541.2 246.8,540.0 247.1,538.3 247.3,528.2 247.6,547.1 247.9,532.3 248.2,534.2 248.5,529.6 248.8,535.7 249.1,533.2 249.3,536.1 249.6,533.6 249.9,541.3 250.2,540.1 250.5,530.8 250.8,543.7 251.0,532.9 251.3,549.0 251.6,537.5 251.9,538.2 252.2,535.7 252.5,539.4 252.8,550.9 253.0,537.4 253.3,536.8 253.6,533.4 253.9,532.0 254.2,540.3 254.5,541.6 254.8,531.2 255.0,534.4 255.3,533.5 255.6,532.1 255.9,535.8 256.2,531.6 256.5,530.8 256.7,550.1 257.0,523.7 257.3,534.0 257.6,538.5 257.9,531.8 258.2,529.1 258.5,537.3 258.7,538.5 259.0,541.4 259.3,526.1 259.6,535.1 259.9,539.9 260.2,546.0 260.4,541.0 260.7,530.2 261.0,537.0 261.3,535.5 261.6,538.6 261.9,540.5 262.2,544.8 262.4,532.7 262.7,541.0 263.0,534.7 263.3,532.6 263.6,532.6 263.9,533.0 264.2,539.8 264.4,538.8 264.7,522.8 265.0,536.1 265.3,539.8 265.6,539.1 265.9,540.4 266.1,534.7 266.4,538.7 266.7,525.5 267.0,534.8 267.3,530.3 267.6,526.3 267.9,526.5 268.1,533.0 268.4,537.2 268.7,524.2 269.0,533.9 269.3,538.2 269.6,531.9 269.8,540.5 270.1,533.2 270.4,539.4 270.7,538.0 271.0,544.2 271.3,544.8 271.6,530.6 271.8,543.8 272.1,546.3 272.4,526.9 272.7,545.5 273.0,540.3 273.3,532.2 273.6,544.7 273.8,539.5 274.1,533.6 274.4,534.4 274.7,535.0 275.0,536.0 275.3,535.4 275.5,534.0 275.8,530.2 276.1,535.0 276.4,537.7 276.7,540.1 277.0,531.6 277.3,530.0 277.5,526.3 277.8,541.9 278.1,539.9 278.4,526.8 278.7,523.2 279.0,533.8 279.2,529.2 279.5,537.4 279.8,546.0 280.1,534.0 280.4,528.1 280.7,539.9 281.0,540.4 281.2,538.2 281.5,535.9 281.8,533.9 282.1,537.0 282.4,525.4 282.7,535.9 283.0,534.7 283.2,537.4 283.5,521.7 283.8,535.9 284.1,536.5 284.4,530.2 284.7,535.9 284.9,529.6 285.2,535.3 285.5,524.2 285.8,530.9 286.1,534.6 286.4,531.9 286.7,537.9 286.9,536.0 287.2,525.2 287.5,530.6 287.8,538.6 288.1,535.6 288.4,539.5 288.6,531.2 288.9,534.2 289.2,536.4 289.5,524.6 289.8,532.5 290.1,522.4 290.4,530.9 290.6,536.3 290.9,531.1 291.2,528.7 291.5,526.2 291.8,530.4 292.1,519.5 292.4,536.2 292.6,525.7 292.9,524.1 293.2,523.6 293.5,514.4 293.8,524.2 294.1,521.4 294.3,514.8 294.6,516.2 294.9,515.6 295.2,512.5 295.5,512.5 295.8,516.1 296.1,519.6 296.3,525.8 296.6,520.4 296.9,528.6 297.2,517.2 297.5,517.7 297.8,518.5 298.0,516.1 298.3,525.8 298.6,514.5 298.9,522.1 299.2,523.4 299.5,521.9 299.8,538.9 300.0,527.3 300.3,522.9 300.6,532.9 300.9,526.6 301.2,529.7 301.5,523.3 301.8,516.9 302.0,539.3 302.3,530.2 302.6,525.4 302.9,521.3 303.2,523.8 303.5,524.6 303.7,525.7 304.0,514.4 304.3,522.6 304.6,534.0 304.9,529.9 305.2,535.2 305.5,528.1 305.7,522.0 306.0,532.7 306.3,522.4 306.6,526.1 306.9,526.6 307.2,526.0 307.4,515.7 307.7,532.2 308.0,521.0 308.3,528.1 308.6,521.9 308.9,526.3 309.2,530.8 309.4,516.7 309.7,517.8 310.0,531.8 310.3,521.9 310.6,522.2 310.9,533.6 311.2,530.3 311.4,527.1 311.7,531.9 312.0,523.7 312.3,530.4 312.6,530.1 312.9,529.8 313.1,525.0 313.4,532.3 313.7,534.3 314.0,536.9 314.3,524.6 314.6,524.8 314.9,533.4 315.1,528.0 315.4,539.9 315.7,530.6 316.0,529.2 316.3,522.6 316.6,532.7 316.8,527.0 317.1,537.2 317.4,533.5 317.7,533.9 318.0,531.4 318.3,524.8 318.6,531.0 318.8,527.3 319.1,531.6 319.4,528.5 319.7,537.6 320.0,537.3 320.3,530.1 320.5,532.2 320.8,529.6 321.1,532.9 321.4,543.8 321.7,530.1 322.0,515.3 322.3,535.5 322.5,529.9 322.8,526.0 323.1,524.3 323.4,533.2 323.7,524.9 324.0,535.0 324.3,530.5 324.5,523.4 324.8,529.0 325.1,533.0 325.4,525.4 325.7,520.2 326.0,528.7 326.2,541.6 326.5,525.2 326.8,525.1 327.1,522.8 327.4,535.8 327.7,527.3 328.0,528.5 328.2,530.9 328.5,530.4 328.8,519.0 329.1,532.2 329.4,521.6 329.7,519.1 329.9,525.3 330.2,529.1 330.5,526.0 330.8,522.3 331.1,522.0 331.4,527.7 331.7,524.1 331.9,518.7 332.2,516.9 332.5,523.1 332.8,523.0 333.1,512.7 333.4,523.8 333.7,528.2 333.9,531.6 334.2,529.3 334.5,521.2 334.8,519.9 335.1,526.9 335.4,518.3 335.6,518.8 335.9,536.5 336.2,514.0 336.5,523.5 336.8,514.8 337.1,526.1 337.4,517.3 337.6,524.8 337.9,526.7 338.2,525.9 338.5,530.7 338.8,533.1 339.1,515.8 339.3,518.7 339.6,530.5 339.9,524.9 340.2,526.7 340.5,525.0 340.8,528.9 341.1,522.5 341.3,531.8 341.6,527.4 341.9,535.3 342.2,518.2 342.5,518.2 342.8,522.9 343.1,515.3 343.3,515.7 343.6,519.6 343.9,518.0 344.2,533.4 344.5,516.3 344.8,522.5 345.0,517.9 345.3,514.2 345.6,521.8 345.9,526.0 346.2,527.1 346.5,517.7 346.8,526.1 347.0,521.4 347.3,516.6 347.6,522.6 347.9,513.2 348.2,523.9 348.5,505.6 348.7,504.1 349.0,501.5 349.3,514.6 349.6,510.1 349.9,513.1 350.2,520.8 350.5,527.3 350.7,519.1 351.0,511.1 351.3,529.5 351.6,514.0 351.9,521.7 352.2,523.7 352.5,526.8 352.7,521.2 353.0,527.1 353.3,525.0 353.6,523.0 353.9,520.7 354.2,522.8 354.4,516.8 354.7,517.0 355.0,523.9 355.3,533.6 355.6,512.9 355.9,522.8 356.2,526.7 356.4,518.3 356.7,521.1 357.0,528.3 357.3,515.3 357.6,527.3 357.9,527.7 358.1,525.4 358.4,530.7 358.7,528.7 359.0,525.5 359.3,527.1 359.6,518.4 359.9,520.6 360.1,532.8 360.4,529.0 360.7,532.3 361.0,534.8 361.3,524.8 361.6,543.3 361.9,523.0 362.1,536.4 362.4,522.2 362.7,533.4 363.0,529.4 363.3,523.8 363.6,528.3 363.8,528.7 364.1,527.2 364.4,530.0 364.7,527.6 365.0,531.7 365.3,536.5 365.6,526.6 365.8,523.6 366.1,542.4 366.4,523.3 366.7,520.6 367.0,535.4 367.3,522.8 367.5,530.3 367.8,526.1 368.1,522.5 368.4,530.4 368.7,520.4 369.0,530.9 369.3,515.4 369.5,528.3 369.8,526.2 370.1,521.4 370.4,513.6 370.7,522.6 371.0,526.1 371.3,526.4 371.5,533.0 371.8,531.8 372.1,521.0 372.4,522.0 372.7,518.7 373.0,524.7 373.2,526.3 373.5,527.6 373.8,522.3 374.1,529.6 374.4,520.9 374.7,526.1 375.0,534.1 375.2,521.6 375.5,524.0 375.8,512.5 376.1,530.4 376.4,530.9 376.7,527.0 376.9,528.8 377.2,516.5 377.5,530.5 377.8,530.0 378.1,535.9 378.4,522.5 378.7,525.0 378.9,517.7 379.2,516.0 379.5,528.2 379.8,525.3 380.1,519.8 380.4,528.0 380.7,532.1 380.9,520.5 381.2,527.2 381.5,524.3 381.8,524.8 382.1,529.6 382.4,520.5 382.6,525.5 382.9,510.9 383.2,524.0 383.5,534.4 383.8,531.9 384.1,526.4 384.4,514.8 384.6,524.2 384.9,520.1 385.2,517.4 385.5,520.9 385.8,521.0 386.1,526.1 386.3,518.5 386.6,506.6 386.9,516.7 387.2,527.0 387.5,518.4 387.8,523.5 388.1,522.2 388.3,518.1 388.6,524.6 388.9,526.3 389.2,527.0 389.5,513.3 389.8,520.2 390.1,520.6 390.3,521.9 390.6,511.2 390.9,515.0 391.2,523.0 391.5,526.3 391.8,519.0 392.0,512.6 392.3,529.8 392.6,522.4 392.9,525.2 393.2,516.7 393.5,518.0 393.8,519.4 394.0,520.9 394.3,510.5 394.6,517.0 394.9,501.9 395.2,520.9 395.5,510.7 395.7,530.3 396.0,525.0 396.3,526.1 396.6,526.6 396.9,524.1 397.2,517.1 397.5,517.7 397.7,519.0 398.0,512.1 398.3,509.2 398.6,516.9 398.9,523.3 399.2,510.0 399.5,503.4 399.7,499.1 400.0,501.1 400.3,509.6 400.6,520.8 400.9,515.5 401.2,509.8 401.4,517.5 401.7,516.8 402.0,522.7 402.3,521.6 402.6,518.1 402.9,510.2 403.2,509.8 403.4,516.4 403.7,513.5 404.0,525.4 404.3,524.9 404.6,507.5 404.9,525.8 405.1,508.9 405.4,516.4 405.7,520.7 406.0,508.1 406.3,515.9 406.6,513.5 406.9,521.1 407.1,512.8 407.4,510.2 407.7,520.1 408.0,518.0 408.3,521.0 408.6,514.3 408.9,508.1 409.1,524.0 409.4,519.7 409.7,534.0 410.0,518.4 410.3,507.2 410.6,516.9 410.8,522.7 411.1,509.2 411.4,514.2 411.7,521.6 412.0,519.2 412.3,525.7 412.6,519.2 412.8,537.6 413.1,519.9 413.4,524.8 413.7,518.0 414.0,524.6 414.3,525.5 414.5,520.3 414.8,517.4 415.1,538.7 415.4,523.7 415.7,524.7 416.0,518.1 416.3,539.2 416.5,520.6 416.8,527.5 417.1,528.1 417.4,535.9 417.7,521.9 418.0,531.2 418.2,530.9 418.5,526.6 418.8,522.5 419.1,521.1 419.4,527.9 419.7,525.6 420.0,531.3 420.2,536.6 420.5,531.5 420.8,533.5 421.1,522.6 421.4,516.2 421.7,528.5 422.0,532.8 422.2,524.7 422.5,519.5 422.8,524.5 423.1,526.6 423.4,531.3 423.7,523.7 423.9,527.8 424.2,523.8 424.5,509.7 424.8,532.4 425.1,522.2 425.4,537.9 425.7,537.9 425.9,524.6 426.2,526.2 426.5,532.3 426.8,529.4 427.1,538.5 427.4,539.4 427.6,520.3 427.9,516.6 428.2,536.1 428.5,540.6 428.8,529.5 429.1,527.2 429.4,532.5 429.6,527.6 429.9,515.8 430.2,520.3 430.5,527.1 430.8,537.4 431.1,528.4 431.4,531.6 431.6,523.2 431.9,538.1 432.2,520.0 432.5,536.2 432.8,533.6 433.1,533.1 433.3,532.6 433.6,532.7 433.9,530.2 434.2,535.3 434.5,546.8 434.8,535.5 435.1,522.7 435.3,530.5 435.6,538.5 435.9,537.5 436.2,537.6 436.5,534.7 436.8,534.1 437.0,532.6 437.3,529.1 437.6,542.2 437.9,543.3 438.2,554.1 438.5,545.1 438.8,540.2 439.0,547.7 439.3,547.4 439.6,534.3 439.9,544.4 440.2,547.2 440.5,538.1 440.8,540.9 441.0,541.9 441.3,549.8 441.6,541.5 441.9,548.0 442.2,536.8 442.5,551.8 442.7,551.5 443.0,555.1 443.3,547.2 443.6,545.1 443.9,538.5 444.2,552.4 444.5,555.3 444.7,548.4 445.0,547.9 445.3,543.5 445.6,556.3 445.9,545.9 446.2,552.2 446.4,537.5 446.7,549.2 447.0,549.2 447.3,553.1 447.6,555.7 447.9,544.1 448.2,543.7 448.4,550.9 448.7,553.6 449.0,538.1 449.3,542.9 449.6,556.7 449.9,544.6 450.2,546.1 450.4,545.9 450.7,550.1 451.0,549.6 451.3,545.0 451.6,557.3 451.9,554.7 452.1,548.4 452.4,546.3 452.7,542.2 453.0,549.5 453.3,539.5 453.6,544.0 453.9,545.7 454.1,546.7 454.4,544.3 454.7,554.9 455.0,545.4 455.3,550.4 455.6,548.5 455.8,544.5 456.1,548.3 456.4,544.5 456.7,540.8 457.0,540.0 457.3,547.1 457.6,541.0 457.8,546.2 458.1,545.0 458.4,546.9 458.7,546.0 459.0,542.2 459.3,547.1 459.6,543.9 459.8,545.7 460.1,543.2 460.4,540.2 460.7,539.8 461.0,539.4 461.3,541.4 461.5,537.4 461.8,543.5 462.1,542.1 462.4,541.4 462.7,539.1 463.0,548.9 463.3,549.8 463.5,548.4 463.8,542.3 464.1,544.8 464.4,549.8 464.7,550.1 465.0,549.4 465.2,550.5 465.5,553.8 465.8,547.6 466.1,540.8 466.4,549.9 466.7,549.2 467.0,557.7 467.2,547.9 467.5,548.6 467.8,550.3 468.1,543.1 468.4,543.0 468.7,540.3 469.0,539.9 469.2,550.4 469.5,551.2 469.8,533.8 470.1,544.9 470.4,545.2 470.7,544.8 470.9,547.9 471.2,528.5 471.5,548.3 471.8,534.9 472.1,527.4 472.4,545.2 472.7,541.3 472.9,529.5 473.2,525.9 473.5,537.5 473.8,545.8 474.1,544.1 474.4,533.8 474.6,534.4 474.9,542.1 475.2,535.3 475.5,532.8 475.8,535.7 476.1,530.8 476.4,522.6 476.6,534.0 476.9,528.4 477.2,539.8 477.5,534.4 477.8,528.5 478.1,523.1 478.4,528.8 478.6,531.6 478.9,527.1 479.2,538.9 479.5,541.6 479.8,534.7 480.1,521.6 480.3,523.4 480.6,514.7 480.9,526.4 481.2,524.5 481.5,528.0 481.8,521.4 482.1,516.0 482.3,528.2 482.6,521.5 482.9,526.6 483.2,533.6 483.5,519.0 483.8,530.9 484.0,518.8 484.3,519.5 484.6,524.4 484.9,504.9 485.2,520.2 485.5,519.3 485.8,520.7 486.0,523.5 486.3,517.1 486.6,514.7 486.9,519.3 487.2,517.1 487.5,524.8 487.8,510.1 488.0,519.0 488.3,519.4 488.6,520.8 488.9,512.3 489.2,511.9 489.5,500.8 489.7,511.8 490.0,499.8 490.3,509.4 490.6,507.9 490.9,508.7 491.2,508.6 491.5,512.9 491.7,519.4 492.0,515.0 492.3,506.0 492.6,505.3 492.9,509.6 493.2,514.2 493.4,502.7 493.7,513.1 494.0,523.2 494.3,509.7 494.6,502.1 494.9,519.7 495.2,514.8 495.4,509.4 495.7,509.1 496.0,513.5 496.3,515.3 496.6,505.9 496.9,514.1 497.2,499.9 497.4,509.3 497.7,505.1 498.0,512.2 498.3,515.3 498.6,521.2 498.9,516.3 499.1,500.2 499.4,509.0 499.7,516.9 500.0,497.1 500.3,502.8 500.6,514.1 500.9,504.8 501.1,498.7 501.4,509.9 501.7,504.2 502.0,512.0 502.3,503.6 502.6,509.9 502.8,506.8 503.1,502.1 503.4,509.6 503.7,530.7 504.0,520.1 504.3,531.2 504.6,508.2 504.8,517.7 505.1,519.5 505.4,510.9 505.7,515.6 506.0,521.0 506.3,532.1 506.5,518.7 506.8,509.7 507.1,525.1 507.4,535.0 507.7,517.9 508.0,519.0 508.3,519.8 508.5,510.8 508.8,511.5 509.1,519.1 509.4,524.9 509.7,522.8 510.0,515.3 510.3,518.6 510.5,528.3 510.8,522.1 511.1,517.8 511.4,528.5 511.7,540.9 512.0,518.0 512.2,514.7 512.5,519.4 512.8,512.6 513.1,516.1 513.4,520.5 513.7,520.8 514.0,520.7 514.2,521.5 514.5,515.3 514.8,528.9 515.1,524.4 515.4,524.3 515.7,530.2 515.9,525.2 516.2,530.7 516.5,545.8 516.8,523.8 517.1,523.5 517.4,527.4 517.7,533.7 517.9,520.5 518.2,533.7 518.5,534.4 518.8,534.9 519.1,530.5 519.4,534.8 519.7,536.4 519.9,537.1 520.2,530.1 520.5,540.1 520.8,531.9 521.1,543.2 521.4,527.3 521.6,539.1 521.9,536.4 522.2,542.6 522.5,536.5 522.8,552.3 523.1,538.6 523.4,547.9 523.6,542.6 523.9,542.4 524.2,551.2 524.5,545.2 524.8,537.5 525.1,543.1 525.3,539.2 525.6,545.9 525.9,542.6 526.2,532.2 526.5,537.3 526.8,542.3 527.1,547.1 527.3,547.7 527.6,532.9 527.9,544.7 528.2,541.1 528.5,541.7 528.8,543.2 529.1,540.6 529.3,538.9 529.6,530.6 529.9,552.3 530.2,541.4 530.5,543.8 530.8,555.9 531.0,550.5 531.3,547.9 531.6,545.4 531.9,538.6 532.2,541.1 532.5,543.5 532.8,550.0 533.0,546.9 533.3,547.4 533.6,546.8 533.9,545.3 534.2,546.8 534.5,532.1 534.7,533.9 535.0,535.2 535.3,543.8 535.6,548.5 535.9,546.9 536.2,549.5 536.5,545.8 536.7,548.6 537.0,538.4 537.3,550.5 537.6,541.1 537.9,544.4 538.2,544.0 538.5,547.0 538.7,539.7 539.0,539.2 539.3,554.2 539.6,538.8 539.9,553.1 540.2,546.8 540.4,544.9 540.7,546.5 541.0,554.0 541.3,546.1 541.6,546.9 541.9,551.8 542.2,541.2 542.4,547.7 542.7,548.1 543.0,542.9 543.3,553.6 543.6,543.1 543.9,545.1 544.1,549.1 544.4,544.8 544.7,546.0 545.0,539.0 545.3,551.8 545.6,556.7 545.9,551.1 546.1,546.3 546.4,552.3 546.7,549.7 547.0,543.1 547.3,544.6 547.6,549.3 547.9,546.7 548.1,542.4 548.4,546.3 548.7,552.4 549.0,546.2 549.3,545.2 549.6,548.5 549.8,536.0 550.1,549.6 550.4,556.6 550.7,546.8 551.0,537.6 551.3,548.7 551.6,546.7 551.8,538.4 552.1,542.4 552.4,550.6 552.7,552.8 553.0,547.7 553.3,546.9 553.5,550.7 553.8,542.7 554.1,544.9 554.4,546.3 554.7,546.1 555.0,545.4 555.3,546.9 555.5,549.9 555.8,542.8 556.1,545.8 556.4,545.1 556.7,545.5 557.0,552.5 557.3,545.4 557.5,554.9 557.8,546.5 558.1,538.6 558.4,545.7 558.7,542.6 559.0,551.6 559.2,538.5 559.5,544.7 559.8,532.3 560.1,544.8 560.4,536.7 560.7,550.1 561.0,547.5 561.2,544.2 561.5,547.5 561.8,538.5 562.1,542.0 562.4,539.2 562.7,544.2 562.9,534.0 563.2,549.4 563.5,539.9 563.8,536.9 564.1,551.6 564.4,553.4 564.7,546.8 564.9,531.7 565.2,543.4 565.5,538.7 565.8,538.9 566.1,535.5 566.4,542.4 566.7,539.5 566.9,547.2 567.2,537.8 567.5,547.1 567.8,545.9 568.1,550.2 568.4,536.7 568.6,542.5 568.9,543.2 569.2,546.5 569.5,545.1 569.8,542.0 570.1,544.2 570.4,548.2 570.6,544.3 570.9,546.8 571.2,538.5 571.5,546.5 571.8,553.1 572.1,553.4 572.3,546.1 572.6,544.7 572.9,549.0 573.2,546.5 573.5,541.5 573.8,551.7 574.1,549.5 574.3,551.5 574.6,560.8 574.9,546.5 575.2,554.6 575.5,553.2 575.8,557.6 576.1,558.8 576.3,550.8 576.6,544.5 576.9,546.3 577.2,546.7 577.5,560.2 577.8,541.7 578.0,551.6 578.3,543.5 578.6,541.1 578.9,549.7 579.2,545.2 579.5,549.8 579.8,544.1 580.0,552.5 580.3,555.3 580.6,544.0 580.9,549.3 581.2,544.2 581.5,539.2 581.7,537.7 582.0,557.9 582.3,545.9 582.6,539.7 582.9,548.2 583.2,547.4 583.5,544.8 583.7,547.5 584.0,545.1 584.3,543.9 584.6,549.8 584.9,557.9 585.2,553.2 585.5,551.7 585.7,551.9 586.0,552.1 586.3,556.7 586.6,558.1 586.9,544.9 587.2,542.6 587.4,547.6 587.7,556.9 588.0,557.9 588.3,550.7 588.6,553.6 588.9,546.6 589.2,550.3 589.4,544.2 589.7,551.0 590.0,539.4 590.3,537.1 590.6,539.8 590.9,545.7 591.1,547.4 591.4,550.8 591.7,545.4 592.0,550.5 592.3,544.3 592.6,544.9 592.9,549.4 593.1,538.9 593.4,543.0 593.7,544.9 594.0,542.5 594.3,543.5 594.6,544.6 594.8,547.5 595.1,540.2 595.4,549.5 595.7,546.4 596.0,549.9 596.3,547.1 596.6,548.8 596.8,543.9 597.1,547.4 597.4,541.6 597.7,549.0 598.0,553.9 598.3,544.4 598.6,548.4 598.8,538.2 599.1,542.5 599.4,548.8 599.7,542.6 600.0,546.5 600.3,549.6 600.5,543.0 600.8,552.0 601.1,537.0 601.4,542.2 601.7,543.4 602.0,545.6 602.3,533.6 602.5,552.0 602.8,545.3 603.1,544.8 603.4,548.1 603.7,544.3 604.0,549.1 604.2,546.1 604.5,544.4 604.8,542.1 605.1,556.4 605.4,538.2 605.7,537.5 606.0,546.9 606.2,544.0 606.5,560.7 606.8,558.0 607.1,549.7 607.4,544.0 607.7,551.6 608.0,544.4 608.2,556.6 608.5,548.8 608.8,554.0 609.1,556.0 609.4,546.7 609.7,554.6 609.9,541.1 610.2,548.0 610.5,546.5 610.8,546.8 611.1,544.2 611.4,552.7 611.7,542.8 611.9,547.0 612.2,541.3 612.5,552.9 612.8,548.8 613.1,545.9 613.4,543.9 613.6,545.1 613.9,542.4 614.2,537.0 614.5,536.4 614.8,551.9 615.1,538.2 615.4,552.6 615.6,540.9 615.9,546.4 616.2,550.0 616.5,533.7 616.8,536.4 617.1,546.1 617.4,557.3 617.6,534.9 617.9,546.1 618.2,542.8 618.5,545.1 618.8,544.5 619.1,541.7 619.3,548.1 619.6,551.1 619.9,549.4 620.2,528.8 620.5,548.5 620.8,540.2 621.1,538.4 621.3,547.4 621.6,543.2 621.9,550.3 622.2,532.8 622.5,546.5 622.8,538.5 623.0,542.9 623.3,539.1 623.6,538.5 623.9,533.7 624.2,532.4 624.5,551.0 624.8,539.1 625.0,547.6 625.3,536.8 625.6,546.4 625.9,540.3 626.2,539.0 626.5,536.3 626.8,544.7 627.0,533.6 627.3,534.7 627.6,548.6 627.9,540.2 628.2,539.4 628.5,529.9 628.7,534.9 629.0,545.2 629.3,535.4 629.6,527.9 629.9,542.6 630.2,529.4 630.5,540.3 630.7,550.1 631.0,545.1 631.3,536.8 631.6,533.2 631.9,532.0 632.2,538.6 632.4,537.2 632.7,545.6 633.0,538.0 633.3,544.7 633.6,541.2 633.9,548.6 634.2,525.4 634.4,540.7 634.7,534.7 635.0,537.1 635.3,528.7 635.6,540.9 635.9,533.1 636.2,545.7 636.4,550.1 636.7,547.8 637.0,531.2 637.3,539.3 637.6,545.7 637.9,533.1 638.1,546.0 638.4,546.4 638.7,534.3 639.0,542.9 639.3,541.3 639.6,541.2 639.9,546.2 640.1,539.7 640.4,543.9 640.7,539.3 641.0,537.2 641.3,533.6 641.6,544.1 641.8,536.8 642.1,548.5 642.4,539.7 642.7,534.8 643.0,536.0 643.3,542.3 643.6,543.9 643.8,537.7 644.1,534.2 644.4,540.3 644.7,539.8 645.0,545.0 645.3,533.3 645.6,547.3 645.8,534.0 646.1,535.8 646.4,544.9 646.7,546.5 647.0,539.3 647.3,539.9 647.5,541.6 647.8,537.4 648.1,540.7 648.4,548.7 648.7,550.0 649.0,542.6 649.3,543.4 649.5,543.4 649.8,550.4 650.1,534.7 650.4,544.3 650.7,543.1 651.0,541.5 651.2,542.0 651.5,536.4 651.8,542.5 652.1,543.3 652.4,539.4 652.7,545.9 653.0,549.0 653.2,546.1 653.5,541.4 653.8,540.2 654.1,540.8 654.4,534.2 654.7,541.4 655.0,546.6 655.2,540.1 655.5,542.9 655.8,537.2 656.1,541.6 656.4,543.1 656.7,541.6 656.9,530.0 657.2,537.2 657.5,538.7 657.8,537.8 658.1,542.1 658.4,538.5 658.7,529.1 658.9,536.9 659.2,534.2 659.5,543.9 659.8,542.2 660.1,540.9 660.4,546.5 660.6,540.7 660.9,539.0 661.2,534.9 661.5,545.5 661.8,539.7 662.1,544.6 662.4,530.2 662.6,550.5 662.9,544.2 663.2,545.7 663.5,540.4 663.8,535.4 664.1,542.4 664.4,539.8 664.6,538.0 664.9,538.3 665.2,544.1 665.5,540.3 665.8,534.5 666.1,543.1 666.3,543.3 666.6,543.1 666.9,537.6 667.2,537.0 667.5,540.9 667.8,548.5 668.1,536.5 668.3,536.2 668.6,539.6 668.9,535.0 669.2,550.8 669.5,538.0 669.8,546.0 670.0,538.5 670.3,553.2 670.6,548.0 670.9,545.6 671.2,548.8 671.5,548.0 671.8,537.5 672.0,546.3 672.3,545.0 672.6,552.0 672.9,546.4 673.2,540.1 673.5,553.9 673.8,545.1 674.0,540.8 674.3,538.5 674.6,547.2 674.9,537.2 675.2,543.4 675.5,544.9 675.7,533.2 676.0,536.0 676.3,531.6 676.6,543.6 676.9,541.9 677.2,542.0 677.5,540.9 677.7,545.6 678.0,557.0 678.3,546.0 678.6,542.9 678.9,542.5 679.2,552.0 679.4,534.3 679.7,542.0 680.0,549.1 680.3,537.6 680.6,548.9 680.9,537.3 681.2,542.0 681.4,539.3 681.7,543.2 682.0,530.4 682.3,542.0 682.6,543.3 682.9,542.0 683.1,549.9 683.4,547.7 683.7,542.6 684.0,549.2 684.3,541.2 684.6,544.9 684.9,548.3 685.1,546.5 685.4,552.5 685.7,546.0 686.0,544.1 686.3,551.8 686.6,548.8 686.9,550.6 687.1,558.9 687.4,551.8 687.7,547.5 688.0,547.5 688.3,542.3 688.6,547.7 688.8,542.7 689.1,551.7 689.4,546.1 689.7,540.1 690.0,548.3 690.3,552.7 690.6,550.2 690.8,549.1 691.1,554.5 691.4,543.3 691.7,548.0 692.0,545.8 692.3,549.3 692.5,540.7 692.8,551.6 693.1,544.3 693.4,550.2 693.7,552.1 694.0,547.2 694.3,556.1 694.5,541.2 694.8,542.1 695.1,541.3 695.4,543.3 695.7,548.5 696.0,551.2 696.3,545.3 696.5,542.2 696.8,542.5 697.1,536.5 697.4,545.4 697.7,537.3 698.0,550.5 698.2,540.1 698.5,555.6 698.8,535.0 699.1,550.6 699.4,538.0 699.7,545.0 700.0,544.2 700.2,549.6 700.5,555.0 700.8,553.2 701.1,539.9 701.4,553.4 701.7,539.5 701.9,544.1 702.2,555.0 702.5,541.5 702.8,544.4 703.1,547.8 703.4,541.3 703.7,550.3 703.9,539.2 704.2,553.2 704.5,548.9 704.8,547.1 705.1,553.6 705.4,541.8 705.7,549.9 705.9,549.3 706.2,547.1 706.5,548.4 706.8,545.2 707.1,540.7 707.4,538.2 707.6,551.2 707.9,552.7 708.2,548.3 708.5,547.5 708.8,542.0 709.1,557.2 709.4,547.2 709.6,553.0 709.9,552.8 710.2,545.2 710.5,549.9 710.8,552.6 711.1,547.9 711.3,549.7 711.6,551.6 711.9,536.5 712.2,550.7 712.5,547.6 712.8,548.1 713.1,540.7 713.3,545.0 713.6,546.8 713.9,545.1 714.2,548.5 714.5,544.7 714.8,546.8 715.1,546.8 715.3,557.4 715.6,547.5 715.9,539.2 716.2,540.6 716.5,550.4 716.8,551.3 717.0,545.1 717.3,543.7 717.6,549.7 717.9,537.5 718.2,549.1 718.5,547.8 718.8,547.8 719.0,535.7 719.3,547.2 719.6,549.6 719.9,543.2 720.2,540.4 720.5,538.3 720.7,542.5 721.0,546.7 721.3,543.9 721.6,544.6 721.9,548.7 722.2,538.8 722.5,533.1 722.7,533.4 723.0,539.4 723.3,540.1 723.6,540.4 723.9,547.7 724.2,534.8 724.5,538.6 724.7,530.3 725.0,531.2 725.3,532.2 725.6,536.9 725.9,551.7 726.2,540.4 726.4,541.6 726.7,532.4 727.0,537.3 727.3,534.9 727.6,544.9 727.9,539.0 728.2,545.3 728.4,533.8 728.7,539.4 729.0,542.1 729.3,547.6 729.6,548.7 729.9,532.4 730.1,544.3 730.4,535.5 730.7,535.5 731.0,533.8 731.3,535.6 731.6,522.9 731.9,535.6 732.1,529.1 732.4,532.5 732.7,519.2 733.0,529.2 733.3,526.9 733.6,527.1 733.9,528.0 734.1,532.7 734.4,526.8 734.7,529.0 735.0,521.6 735.3,518.7 735.6,520.7 735.8,519.6 736.1,526.5 736.4,525.5 736.7,526.0 737.0,522.7 737.3,516.9 737.6,512.2 737.8,524.7 738.1,523.7 738.4,505.9 738.7,530.7 739.0,510.6 739.3,522.3 739.5,507.3 739.8,516.0 740.1,514.0 740.4,518.9 740.7,513.8 741.0,507.2 741.3,522.0 741.5,500.4 741.8,508.1 742.1,499.3 742.4,516.6 742.7,510.9 743.0,506.9 743.3,519.4 743.5,512.9 743.8,505.0 744.1,506.1 744.4,507.1 744.7,504.5 745.0,511.2 745.2,507.0 745.5,503.8 745.8,505.4 746.1,497.9 746.4,505.8 746.7,508.1 747.0,501.0 747.2,494.0 747.5,495.2 747.8,489.3 748.1,500.1 748.4,497.8 748.7,484.5 748.9,489.9 749.2,485.6 749.5,492.8 749.8,489.8 750.1,505.2 750.4,491.3 750.7,506.0 750.9,495.1 751.2,503.0 751.5,500.1 751.8,497.5 752.1,497.5 752.4,505.1 752.7,509.0 752.9,508.7 753.2,510.1 753.5,505.5 753.8,515.5 754.1,506.9 754.4,508.4 754.6,509.1 754.9,512.8 755.2,500.6 755.5,515.4 755.8,514.3 756.1,516.9 756.4,527.4 756.6,515.9 756.9,507.2 757.2,509.7 757.5,520.8 757.8,515.3 758.1,521.6 758.3,521.7 758.6,518.3 758.9,508.3 759.2,515.7 759.5,518.4 759.8,524.9 760.1,519.9 760.3,526.5 760.6,537.7 760.9,522.4 761.2,517.1 761.5,518.1 761.8,530.8 762.1,528.6 762.3,544.0 762.6,525.2 762.9,522.3 763.2,532.1 763.5,537.5 763.8,543.4 764.0,545.3 764.3,541.7 764.6,536.3 764.9,534.9 765.2,533.7 765.5,541.0 765.8,539.3 766.0,533.1 766.3,538.4 766.6,534.7 766.9,543.2 767.2,544.0 767.5,545.6 767.7,537.3 768.0,539.3 768.3,541.4 768.6,534.2 768.9,540.2 769.2,542.0 769.5,544.1 769.7,540.1 770.0,551.8 770.3,547.4 770.6,540.7 770.9,540.0 771.2,542.2 771.5,546.4 771.7,547.5 772.0,547.4 772.3,546.0 772.6,545.5 772.9,537.9 773.2,540.9 773.4,543.5 773.7,545.3 774.0,536.8 774.3,547.0 774.6,548.6 774.9,534.3 775.2,533.7 775.4,536.6 775.7,538.0 776.0,544.2 776.3,548.5 776.6,549.1 776.9,541.6 777.1,540.0 777.4,551.2 777.7,547.3 778.0,545.7 778.3,541.8 778.6,541.2 778.9,547.3 779.1,544.4 779.4,543.9 779.7,543.6 780.0,547.8 780.3,549.7 780.6,548.0 780.8,545.7 781.1,536.3 781.4,547.3 781.7,544.8 782.0,534.7 782.3,542.4 782.6,539.8 782.8,544.8 783.1,544.9 783.4,548.1 783.7,554.3 784.0,537.4 784.3,550.3 784.6,539.5 784.8,550.4 785.1,546.5 785.4,545.9 785.7,531.8 786.0,547.8 786.3,549.6 786.5,547.0 786.8,550.0 787.1,554.5 787.4,547.5 787.7,548.4 788.0,546.3 788.3,540.7 788.5,553.0 788.8,551.1 789.1,543.7 789.4,544.1 789.7,550.0 790.0,547.2 790.2,542.1 790.5,543.3 790.8,554.0 791.1,544.5 791.4,545.9 791.7,549.7 792.0,550.7 792.2,551.4 792.5,545.5 792.8,546.0 793.1,547.6 793.4,543.0 793.7,557.0 794.0,546.2 794.2,552.5 794.5,543.3 794.8,543.9 795.1,544.1 795.4,544.1 795.7,539.9 795.9,544.2 796.2,549.9 796.5,553.7 796.8,552.5 797.1,553.0 797.4,556.1 797.7,548.8 797.9,552.8 798.2,553.6 798.5,545.9 798.8,548.0 799.1,552.1 799.4,555.5 799.6,542.5 799.9,555.0 800.2,545.3 800.5,542.0 800.8,543.0 801.1,538.0 801.4,545.9 801.6,547.0 801.9,553.6 802.2,550.3 802.5,553.8 802.8,558.5 803.1,555.4 803.4,545.0 803.6,543.7 803.9,547.8 804.2,546.7 804.5,550.7 804.8,546.1 805.1,545.1 805.3,554.0 805.6,551.4 805.9,555.7 806.2,556.4 806.5,547.3 806.8,555.4 807.1,554.1 807.3,554.9 807.6,555.2 807.9,548.9 808.2,549.8 808.5,546.6 808.8,545.4 809.0,547.6 809.3,543.9 809.6,555.5 809.9,552.8 810.2,550.8 810.5,553.9 810.8,541.4 811.0,559.7 811.3,544.4 811.6,549.9 811.9,548.8 812.2,545.4 812.5,550.8 812.8,546.9 813.0,552.3 813.3,552.7 813.6,547.6 813.9,557.8 814.2,552.8 814.5,546.8 814.7,546.6 815.0,553.3 815.3,538.1 815.6,545.4 815.9,551.3 816.2,553.7 816.5,551.4 816.7,551.3 817.0,546.6 817.3,545.9 817.6,558.4 817.9,548.8 818.2,551.4 818.4,549.4 818.7,556.4 819.0,540.0 819.3,548.7 819.6,545.0 819.9,547.6 820.2,550.4 820.4,543.7 820.7,554.6 821.0,545.8 821.3,552.1 821.6,548.0 821.9,548.9 822.2,552.4 822.4,548.5 822.7,551.1 823.0,548.7 823.3,551.1 823.6,543.1 823.9,543.3 824.1,550.4 824.4,548.7 824.7,548.2 825.0,546.8 825.3,541.2 825.6,551.3 825.9,552.0 826.1,547.0 826.4,540.9 826.7,541.4 827.0,551.4 827.3,546.5 827.6,548.2 827.8,545.2 828.1,551.3 828.4,548.2 828.7,542.0 829.0,539.0 829.3,544.0 829.6,542.1 829.8,541.9 830.1,552.8 830.4,552.6 830.7,550.2 831.0,548.4 831.3,559.1 831.6,544.7 831.8,548.9 832.1,546.5 832.4,544.6 832.7,554.6 833.0,548.9 833.3,546.0 833.5,545.6 833.8,548.9 834.1,547.3 834.4,544.0 834.7,546.2 835.0,551.6 835.3,543.1 835.5,547.4 835.8,561.0 836.1,552.1 836.4,547.8 836.7,551.2 837.0,548.9 837.2,549.1 837.5,555.6 837.8,551.6 838.1,553.8 838.4,548.7 838.7,549.2 839.0,554.1 839.2,558.0 839.5,553.3 839.8,548.9 840.1,555.6 840.4,553.7 840.7,550.2 841.0,549.7 841.2,552.3 841.5,545.9 841.8,550.8 842.1,545.2 842.4,558.4 842.7,554.2 842.9,555.6 843.2,547.9 843.5,556.3 843.8,554.8 844.1,548.7 844.4,557.5 844.7,550.9 844.9,552.0 845.2,552.6 845.5,546.9 845.8,549.0 846.1,549.5 846.4,550.0 846.6,547.8 846.9,552.3 847.2,546.0 847.5,542.9 847.8,549.8 848.1,547.5 848.4,550.2 848.6,557.4 848.9,554.3 849.2,554.7 849.5,550.0 849.8,550.4 850.1,548.8 850.4,550.2 850.6,552.5 850.9,553.3 851.2,550.1 851.5,546.0 851.8,553.4 852.1,540.6 852.3,546.0 852.6,549.7 852.9,557.0 853.2,552.3 853.5,556.2 853.8,550.6 854.1,542.4 854.3,547.5 854.6,545.2 854.9,548.9 855.2,546.9 855.5,547.5 855.8,552.6 856.0,552.9 856.3,558.7 856.6,549.1 856.9,550.7 857.2,553.9 857.5,551.3 857.8,548.4 858.0,549.7 858.3,543.1 858.6,547.0 858.9,551.9 859.2,551.2 859.5,547.6 859.8,549.9 860.0,563.3 860.3,556.9 860.6,552.1 860.9,546.3 861.2,555.9 861.5,546.8 861.7,540.5 862.0,553.8 862.3,560.3 862.6,543.7 862.9,542.5 863.2,548.3 863.5,554.5 863.7,550.2 864.0,550.0 864.3,548.9 864.6,554.5 864.9,557.1 865.2,551.3 865.4,558.8 865.7,551.3 866.0,554.6 866.3,552.4 866.6,550.7 866.9,551.7 867.2,541.9 867.4,552.9 867.7,561.1 868.0,559.3 868.3,556.1 868.6,554.4 868.9,546.3 869.1,554.7 869.4,545.8 869.7,553.7 870.0,556.4 870.3,543.3 870.6,549.0 870.9,555.0 871.1,551.9 871.4,550.2 871.7,556.6 872.0,557.2 872.3,547.9 872.6,542.1 872.9,548.0 873.1,551.1 873.4,561.2 873.7,556.2 874.0,548.4 874.3,556.9 874.6,549.0 874.8,548.5 875.1,548.9 875.4,552.5 875.7,556.1 876.0,555.4 876.3,549.3 876.6,553.7 876.8,543.0 877.1,550.1 877.4,543.2 877.7,552.3 878.0,562.6 878.3,557.1 878.5,548.5 878.8,556.0 879.1,555.5 879.4,550.1 879.7,552.0 880.0,546.5 880.3,559.1 880.5,551.6 880.8,545.8 881.1,543.5 881.4,557.8 881.7,543.5 882.0,549.0 882.3,546.4 882.5,547.3 882.8,550.7 883.1,552.6 883.4,547.0 883.7,547.3 884.0,552.1 884.2,550.7 884.5,554.2 884.8,543.0 885.1,555.0 885.4,555.9 885.7,544.8 886.0,550.7 886.2,553.0 886.5,552.2 886.8,556.2 887.1,558.1 887.4,557.6 887.7,546.8 887.9,558.9 888.2,556.5 888.5,548.1 888.8,547.4 889.1,554.7 889.4,549.0 889.7,549.0 889.9,546.8 890.2,556.9 890.5,549.8 890.8,557.0 891.1,546.0 891.4,548.5 891.7,553.1 891.9,556.0 892.2,561.8 892.5,553.3 892.8,551.2 893.1,547.3 893.4,559.7 893.6,554.0 893.9,554.9 894.2,554.6 894.5,554.9 894.8,553.3 895.1,554.7 895.4,555.0 895.6,554.6 895.9,557.8 896.2,555.6 896.5,546.7 896.8,547.4 897.1,549.7 897.3,553.7 897.6,556.4 897.9,557.2 898.2,555.4 898.5,553.0 898.8,547.7 899.1,554.5 899.3,555.1 899.6,548.8 899.9,555.5 900.2,554.7 900.5,549.4 900.8,554.4 901.1,554.2 901.3,549.7 901.6,551.8 901.9,552.4 902.2,550.6 902.5,543.3 902.8,552.3 903.0,544.1 903.3,554.2 903.6,552.1 903.9,555.3 904.2,551.0 904.5,548.2 904.8,549.9 905.0,545.1 905.3,554.0 905.6,552.5 905.9,550.7 906.2,556.9 906.5,544.9 906.7,552.3 907.0,547.0 907.3,544.0 907.6,550.4 907.9,548.2 908.2,559.5 908.5,550.2 908.7,545.5 909.0,560.6 909.3,555.9 909.6,557.2 909.9,555.0 910.2,555.3 910.5,558.9 910.7,558.8 911.0,551.3 911.3,558.8 911.6,541.8 911.9,552.1 912.2,551.9 912.4,552.7 912.7,555.4 913.0,554.3 913.3,560.9 913.6,545.0 913.9,550.8 914.2,556.5 914.4,556.1 914.7,549.1 915.0,552.9 915.3,552.1 915.6,554.1 915.9,553.5 916.1,547.9 916.4,550.1 916.7,547.7 917.0,553.1 917.3,558.3 917.6,559.7 917.9,557.2 918.1,553.7 918.4,544.3 918.7,553.4 919.0,545.1 919.3,547.3 919.6,548.7 919.9,552.6 920.1,552.3 920.4,545.8 920.7,543.3 921.0,553.4 921.3,551.7 921.6,544.6 921.8,554.2 922.1,546.8 922.4,555.3 922.7,556.6 923.0,560.6 923.3,553.2 923.6,546.0 923.8,561.2 924.1,544.0 924.4,550.8 924.7,547.8 925.0,551.9 925.3,555.2 925.5,556.2 925.8,545.4 926.1,539.1 926.4,554.6 926.7,555.9 927.0,552.7 927.3,556.1 927.5,548.9 927.8,549.5 928.1,543.5 928.4,553.7 928.7,547.9 929.0,554.3 929.3,548.2 929.5,546.7 929.8,541.6 930.1,550.2 930.4,548.8 930.7,552.7 931.0,545.2 931.2,551.5 931.5,547.1 931.8,548.5 932.1,545.0 932.4,546.9 932.7,550.4 933.0,554.4 933.2,545.9 933.5,548.7 933.8,552.8 934.1,546.6 934.4,555.2 934.7,546.8 934.9,548.8 935.2,552.1 935.5,550.1 935.8,553.5 936.1,554.7 936.4,553.5 936.7,551.1 936.9,544.7 937.2,550.2 937.5,552.8 937.8,548.0 938.1,554.0 938.4,552.0 938.7,551.9 938.9,549.7 939.2,551.9 939.5,552.9 939.8,550.3 940.1,553.6 940.4,546.3 940.6,552.1 940.9,554.3 941.2,545.0 941.5,551.3 941.8,552.7 942.1,549.7 942.4,555.9 942.6,560.9 942.9,559.2 943.2,554.5 943.5,556.8 943.8,561.8 944.1,552.6 944.3,554.3 944.6,555.8 944.9,557.5 945.2,550.5 945.5,555.3 945.8,543.9 946.1,554.6 946.3,550.2 946.6,551.6 946.9,563.0 947.2,551.3 947.5,544.1 947.8,553.1 948.1,554.8 948.3,550.3 948.6,551.2 948.9,553.7 949.2,553.0 949.5,546.1 949.8,548.2 950.0,553.3 950.3,553.3 950.6,551.9 950.9,557.1 951.2,555.2 951.5,549.2 951.8,554.1 952.0,555.5 952.3,545.3 952.6,549.0 952.9,550.7 953.2,542.7 953.5,556.0 953.7,556.1 954.0,539.6 954.3,545.8 954.6,555.7 954.9,558.6 955.2,552.4 955.5,558.1 955.7,552.8 956.0,551.5 956.3,558.2 956.6,548.0 956.9,548.7 957.2,550.8 957.4,550.2 957.7,546.2 958.0,547.1 958.3,560.0 958.6,551.9 958.9,549.2 959.2,545.7 959.4,547.5 959.7,550.8 960.0,545.9 960.3,556.7 960.6,549.7 960.9,554.5 961.2,548.8 961.4,551.8 961.7,544.5 962.0,548.4 962.3,549.6 962.6,555.5 962.9,548.1 963.1,558.1 963.4,548.6 963.7,552.6 964.0,554.1 964.3,551.6 964.6,548.9 964.9,548.5 965.1,553.3 965.4,548.4 965.7,559.9 966.0,554.8 966.3,550.2 966.6,545.6 966.8,555.8 967.1,560.4 967.4,547.3 967.7,543.8 968.0,554.6 968.3,559.7 968.6,554.0 968.8,546.9 969.1,549.4 969.4,554.9 969.7,547.5 970.0,553.4 970.3,554.8 970.6,557.2 970.8,548.0 971.1,553.2 971.4,555.8 971.7,552.4 972.0,556.5 972.3,552.0 972.5,549.1 972.8,547.4 973.1,552.1 973.4,553.3 973.7,558.4 974.0,555.3 974.3,549.8 974.5,556.8 974.8,563.0 975.1,551.5 975.4,556.3 975.7,546.9 976.0,565.6 976.2,559.3 976.5,561.4 976.8,556.3 977.1,557.2 977.4,554.9 977.7,552.7 978.0,563.6 978.2,560.3 978.5,552.7 978.8,553.4 979.1,555.4 979.4,556.2 979.7,561.8 980.0,546.5 980.2,550.2 980.5,544.3 980.8,549.7 981.1,552.3 981.4,559.4 981.7,555.7 981.9,555.0 982.2,548.9 982.5,559.2 982.8,555.5 983.1,548.4 983.4,547.2 983.7,552.7 983.9,544.4 984.2,545.7 984.5,552.0 984.8,549.7 985.1,547.5 985.4,549.5 985.6,549.1 985.9,549.1 986.2,551.5 986.5,543.1 986.8,554.5 987.1,550.1 987.4,550.6 987.6,551.8 987.9,554.3 988.2,562.9 988.5,549.0 988.8,548.8 989.1,551.7 989.4,550.6 989.6,545.5 989.9,551.2 990.2,550.7 990.5,559.8 990.8,557.2 991.1,544.9 991.3,544.2 991.6,561.6 991.9,552.6 992.2,545.5 992.5,551.6 992.8,560.2 993.1,556.2 993.3,563.5 993.6,561.6 993.9,553.2 994.2,558.9 994.5,548.4 994.8,556.9 995.0,556.3 995.3,555.4 995.6,556.2 995.9,563.2 996.2,549.8 996.5,550.8 996.8,553.6 997.0,551.8 997.3,556.6 997.6,553.1 997.9,546.5 998.2,554.2 998.5,550.6 998.8,546.7 999.0,556.4 999.3,549.1 999.6,551.0 999.9,556.2 1000.2,550.2 1000.5,549.8 1000.7,551.3 1001.0,554.7 1001.3,553.6 1001.6,558.9"/>
<polyline fill="none" stroke="#ff00ff" stroke-width="1.8" stroke-linejoin="miter" points="90.4,673.1 90.7,670.8 91.0,672.6 91.3,665.1 91.5,676.1 91.8,670.8 92.1,683.5 92.4,669.7 92.7,673.7 93.0,668.5 93.2,677.5 93.5,683.2 93.8,685.9 94.1,669.5 94.4,680.2 94.7,677.4 95.0,679.2 95.2,673.1 95.5,673.9 95.8,672.9 96.1,666.3 96.4,672.0 96.7,680.5 97.0,663.9 97.2,676.1 97.5,665.7 97.8,671.5 98.1,679.9 98.4,664.7 98.7,679.3 98.9,661.5 99.2,681.1 99.5,668.8 99.8,689.9 100.1,670.9 100.4,666.7 100.7,667.1 100.9,673.0 101.2,669.4 101.5,674.2 101.8,669.3 102.1,680.4 102.4,685.5 102.6,669.8 102.9,679.3 103.2,674.6 103.5,678.9 103.8,680.4 104.1,675.5 104.4,673.2 104.6,661.8 104.9,688.1 105.2,666.9 105.5,681.6 105.8,672.7 106.1,677.4 106.4,667.1 106.6,677.8 106.9,669.8 107.2,669.1 107.5,669.7 107.8,672.7 108.1,666.6 108.3,671.0 108.6,665.1 108.9,677.6 109.2,666.1 109.5,675.4 109.8,668.4 110.1,666.6 110.3,668.7 110.6,673.6 110.9,676.0 111.2,679.9 111.5,674.2 111.8,678.9 112.0,670.1 112.3,662.8 112.6,681.8 112.9,675.6 113.2,678.0 113.5,665.3 113.8,675.9 114.0,675.8 114.3,681.4 114.6,669.0 114.9,676.4 115.2,673.2 115.5,674.9 115.8,680.4 116.0,674.1 116.3,676.8 116.6,675.0 116.9,673.5 117.2,672.6 117.5,671.8 117.7,673.5 118.0,673.4 118.3,673.5 118.6,668.6 118.9,664.8 119.2,669.4 119.5,663.4 119.7,681.6 120.0,666.0 120.3,669.0 120.6,675.7 120.9,669.0 121.2,671.9 121.4,677.6 121.7,666.9 122.0,681.0 122.3,666.1 122.6,675.2 122.9,665.9 123.2,666.9 123.4,660.8 123.7,676.4 124.0,672.8 124.3,661.0 124.6,679.0 124.9,664.8 125.2,667.8 125.4,665.2 125.7,659.3 126.0,683.6 126.3,664.3 126.6,664.2 126.9,676.3 127.1,668.1 127.4,662.9 127.7,675.2 128.0,684.4 128.3,672.6 128.6,663.9 128.9,664.2 129.1,664.5 129.4,661.9 129.7,663.7 130.0,666.5 130.3,667.8 130.6,669.8 130.8,680.1 131.1,660.5 131.4,671.1 131.7,670.6 132.0,661.7 132.3,680.9 132.6,676.5 132.8,659.5 133.1,681.7 133.4,663.8 133.7,674.3 134.0,680.3 134.3,669.5 134.6,676.6 134.8,663.5 135.1,666.2 135.4,666.3 135.7,669.9 136.0,680.8 136.3,680.3 136.5,663.4 136.8,661.1 137.1,670.8 137.4,664.2 137.7,662.5 138.0,668.8 138.3,672.7 138.5,668.1 138.8,668.1 139.1,667.2 139.4,673.9 139.7,676.3 140.0,671.4 140.2,665.6 140.5,670.8 140.8,667.2 141.1,661.4 141.4,668.7 141.7,669.9 142.0,673.0 142.2,672.6 142.5,666.1 142.8,663.7 143.1,670.0 143.4,675.3 143.7,668.6 143.9,669.3 144.2,661.0 144.5,658.6 144.8,666.3 145.1,662.1 145.4,654.4 145.7,667.4 145.9,671.7 146.2,676.9 146.5,661.8 146.8,661.1 147.1,664.0 147.4,661.3 147.7,673.3 147.9,669.1 148.2,660.1 148.5,670.5 148.8,666.5 149.1,668.1 149.4,658.1 149.6,654.0 149.9,670.0 150.2,664.1 150.5,667.6 150.8,669.0 151.1,666.6 151.4,677.9 151.6,672.1 151.9,655.4 152.2,668.4 152.5,672.5 152.8,671.5 153.1,670.9 153.3,665.7 153.6,669.6 153.9,670.1 154.2,675.0 154.5,670.9 154.8,669.8 155.1,672.0 155.3,667.8 155.6,676.3 155.9,668.3 156.2,680.7 156.5,667.4 156.8,672.2 157.1,668.8 157.3,675.5 157.6,673.5 157.9,663.7 158.2,679.6 158.5,676.8 158.8,672.0 159.0,667.1 159.3,659.7 159.6,672.3 159.9,664.5 160.2,669.0 160.5,654.3 160.8,663.8 161.0,673.5 161.3,673.0 161.6,668.1 161.9,672.1 162.2,662.2 162.5,677.8 162.7,665.1 163.0,662.4 163.3,664.8 163.6,671.5 163.9,673.7 164.2,662.0 164.5,672.9 164.7,675.7 165.0,677.3 165.3,670.9 165.6,673.5 165.9,662.6 166.2,662.8 166.5,682.5 166.7,672.1 167.0,669.6 167.3,678.9 167.6,669.8 167.9,668.3 168.2,674.0 168.4,675.5 168.7,656.3 169.0,656.4 169.3,672.5 169.6,672.5 169.9,658.1 170.2,666.3 170.4,672.5 170.7,669.8 171.0,665.8 171.3,673.4 171.6,659.1 171.9,663.6 172.1,663.5 172.4,658.3 172.7,658.5 173.0,666.0 173.3,664.6 173.6,663.9 173.9,651.7 174.1,670.9 174.4,664.9 174.7,664.5 175.0,664.0 175.3,670.9 175.6,661.5 175.9,664.4 176.1,662.2 176.4,673.8 176.7,674.9 177.0,664.7 177.3,680.7 177.6,662.9 177.8,666.5 178.1,669.1 178.4,662.4 178.7,666.5 179.0,661.0 179.3,662.9 179.6,667.8 179.8,673.0 180.1,660.3 180.4,653.8 180.7,658.2 181.0,655.2 181.3,662.4 181.5,667.2 181.8,668.4 182.1,654.3 182.4,674.6 182.7,655.1 183.0,662.0 183.3,663.2 183.5,656.6 183.8,666.9 184.1,657.1 184.4,661.7 184.7,656.7 185.0,657.9 185.3,662.7 185.5,660.0 185.8,660.9 186.1,665.2 186.4,655.6 186.7,660.9 187.0,652.0 187.2,666.6 187.5,660.8 187.8,666.8 188.1,658.8 188.4,660.3 188.7,658.9 189.0,656.6 189.2,654.2 189.5,667.2 189.8,660.1 190.1,656.4 190.4,658.1 190.7,654.4 190.9,667.2 191.2,660.9 191.5,648.9 191.8,639.6 192.1,655.0 192.4,625.8 192.7,632.4 192.9,631.9 193.2,628.0 193.5,604.1 193.8,611.3 194.1,603.8 194.4,611.0 194.7,606.0 194.9,620.7 195.2,619.4 195.5,630.8 195.8,626.4 196.1,633.6 196.4,634.6 196.6,652.7 196.9,646.1 197.2,652.6 197.5,644.9 197.8,655.8 198.1,651.5 198.4,658.7 198.6,653.6 198.9,643.9 199.2,662.7 199.5,646.6 199.8,662.8 200.1,660.9 200.3,671.7 200.6,656.9 200.9,673.2 201.2,670.2 201.5,666.1 201.8,673.4 202.1,660.7 202.3,660.9 202.6,659.5 202.9,666.7 203.2,660.7 203.5,678.8 203.8,673.7 204.1,674.8 204.3,664.2 204.6,661.2 204.9,659.0 205.2,661.1 205.5,673.2 205.8,665.7 206.0,669.6 206.3,665.9 206.6,659.1 206.9,675.2 207.2,664.2 207.5,668.1 207.8,667.8 208.0,664.9 208.3,670.3 208.6,661.2 208.9,673.9 209.2,669.1 209.5,666.2 209.7,666.0 210.0,663.5 210.3,668.9 210.6,674.5 210.9,672.2 211.2,664.6 211.5,663.3 211.7,672.8 212.0,668.5 212.3,669.5 212.6,670.9 212.9,665.3 213.2,667.8 213.5,659.6 213.7,660.5 214.0,665.2 214.3,657.9 214.6,659.4 214.9,666.5 215.2,661.0 215.4,662.1 215.7,675.2 216.0,658.2 216.3,668.1 216.6,668.9 216.9,669.9 217.2,672.7 217.4,670.3 217.7,668.0 218.0,655.2 218.3,657.5 218.6,665.6 218.9,647.6 219.1,666.2 219.4,665.7 219.7,669.3 220.0,656.7 220.3,665.0 220.6,648.0 220.9,652.0 221.1,656.3 221.4,666.2 221.7,653.2 222.0,658.1 222.3,660.3 222.6,648.0 222.9,651.3 223.1,642.6 223.4,670.3 223.7,662.2 224.0,653.8 224.3,651.6 224.6,657.2 224.8,668.3 225.1,649.5 225.4,652.7 225.7,647.4 226.0,663.0 226.3,663.7 226.6,655.3 226.8,653.3 227.1,662.8 227.4,668.2 227.7,665.5 228.0,662.2 228.3,660.8 228.5,668.6 228.8,655.8 229.1,662.1 229.4,664.2 229.7,664.3 230.0,659.7 230.3,658.2 230.5,664.1 230.8,664.0 231.1,658.7 231.4,659.7 231.7,661.9 232.0,664.1 232.2,661.8 232.5,663.1 232.8,655.6 233.1,661.2 233.4,657.1 233.7,665.5 234.0,671.0 234.2,658.3 234.5,672.9 234.8,657.0 235.1,660.1 235.4,657.9 235.7,658.9 236.0,662.1 236.2,665.2 236.5,663.1 236.8,661.0 237.1,669.0 237.4,664.8 237.7,665.1 237.9,665.9 238.2,673.7 238.5,665.8 238.8,664.6 239.1,666.1 239.4,670.8 239.7,675.5 239.9,676.2 240.2,656.8 240.5,671.9 240.8,667.9 241.1,670.3 241.4,671.9 241.6,657.9 241.9,668.9 242.2,663.0 242.5,679.3 242.8,665.6 243.1,664.5 243.4,662.7 243.6,666.2 243.9,674.7 244.2,668.3 244.5,672.1 244.8,666.8 245.1,673.3 245.4,660.5 245.6,671.5 245.9,666.0 246.2,679.1 246.5,663.6 246.8,671.3 247.1,658.6 247.3,665.6 247.6,664.4 247.9,660.3 248.2,658.8 248.5,662.6 248.8,660.4 249.1,658.4 249.3,672.0 249.6,660.0 249.9,655.8 250.2,660.8 250.5,669.9 250.8,655.6 251.0,667.3 251.3,649.5 251.6,662.5 251.9,660.5 252.2,664.2 252.5,667.8 252.8,664.9 253.0,651.4 253.3,664.0 253.6,659.1 253.9,661.1 254.2,658.0 254.5,659.1 254.8,668.0 255.0,666.7 255.3,661.0 255.6,654.3 255.9,657.7 256.2,662.0 256.5,659.6 256.7,668.4 257.0,659.9 257.3,657.5 257.6,665.9 257.9,662.6 258.2,652.7 258.5,661.7 258.7,665.8 259.0,670.8 259.3,652.8 259.6,665.3 259.9,662.9 260.2,664.2 260.4,659.7 260.7,668.9 261.0,667.3 261.3,659.6 261.6,663.4 261.9,679.4 262.2,659.5 262.4,657.8 262.7,664.6 263.0,672.7 263.3,668.4 263.6,663.3 263.9,669.4 264.2,664.5 264.4,667.7 264.7,673.2 265.0,658.2 265.3,664.5 265.6,655.9 265.9,653.0 266.1,655.9 266.4,666.1 266.7,673.6 267.0,671.3 267.3,657.6 267.6,665.2 267.9,661.1 268.1,668.8 268.4,660.9 268.7,658.7 269.0,662.4 269.3,666.8 269.6,655.9 269.8,663.0 270.1,654.6 270.4,670.5 270.7,655.5 271.0,659.9 271.3,665.8 271.6,666.2 271.8,658.8 272.1,661.0 272.4,654.2 272.7,644.3 273.0,648.7 273.3,660.3 273.6,663.4 273.8,647.3 274.1,656.4 274.4,657.6 274.7,648.5 275.0,658.8 275.3,661.2 275.5,663.4 275.8,660.1 276.1,656.4 276.4,666.6 276.7,655.8 277.0,651.9 277.3,656.8 277.5,654.3 277.8,660.3 278.1,656.0 278.4,667.9 278.7,662.5 279.0,654.5 279.2,654.4 279.5,652.1 279.8,658.6 280.1,655.7 280.4,659.2 280.7,652.9 281.0,656.2 281.2,656.1 281.5,648.8 281.8,667.5 282.1,653.8 282.4,655.0 282.7,656.4 283.0,647.9 283.2,663.0 283.5,652.9 283.8,660.4 284.1,662.8 284.4,654.9 284.7,661.7 284.9,659.2 285.2,650.2 285.5,659.9 285.8,651.0 286.1,658.5 286.4,647.9 286.7,652.9 286.9,645.7 287.2,654.9 287.5,653.5 287.8,648.3 288.1,640.2 288.4,632.2 288.6,654.0 288.9,642.3 289.2,633.2 289.5,640.5 289.8,638.0 290.1,639.2 290.4,618.3 290.6,628.7 290.9,631.8 291.2,631.6 291.5,620.7 291.8,611.0 292.1,610.9 292.4,598.2 292.6,572.7 292.9,584.3 293.2,564.7 293.5,592.7 293.8,575.4 294.1,586.0 294.3,592.4 294.6,579.5 294.9,587.6 295.2,608.9 295.5,610.2 295.8,607.8 296.1,613.4 296.3,630.8 296.6,642.1 296.9,634.3 297.2,633.5 297.5,637.3 297.8,629.2 298.0,645.2 298.3,650.0 298.6,637.5 298.9,649.4 299.2,652.0 299.5,654.1 299.8,651.2 300.0,648.6 300.3,657.9 300.6,647.2 300.9,659.3 301.2,652.7 301.5,656.1 301.8,657.8 302.0,652.6 302.3,661.8 302.6,648.7 302.9,658.2 303.2,649.5 303.5,663.5 303.7,654.0 304.0,662.0 304.3,648.4 304.6,665.8 304.9,648.1 305.2,646.6 305.5,647.4 305.7,661.5 306.0,659.5 306.3,656.5 306.6,653.9 306.9,660.2 307.2,666.3 307.4,659.6 307.7,652.0 308.0,668.6 308.3,663.3 308.6,663.8 308.9,655.5 309.2,654.3 309.4,661.5 309.7,653.8 310.0,666.1 310.3,657.8 310.6,669.7 310.9,664.7 311.2,658.3 311.4,665.2 311.7,667.3 312.0,649.8 312.3,665.2 312.6,662.7 312.9,646.5 313.1,656.3 313.4,659.1 313.7,666.8 314.0,659.4 314.3,656.2 314.6,649.3 314.9,655.6 315.1,659.2 315.4,653.7 315.7,654.6 316.0,661.7 316.3,660.3 316.6,660.7 316.8,658.2 317.1,663.6 317.4,650.4 317.7,648.0 318.0,672.4 318.3,662.7 318.6,650.7 318.8,646.2 319.1,669.7 319.4,655.5 319.7,659.7 320.0,675.8 320.3,654.4 320.5,646.9 320.8,663.5 321.1,654.1 321.4,674.7 321.7,654.4 322.0,656.2 322.3,656.0 322.5,657.8 322.8,655.6 323.1,653.3 323.4,658.3 323.7,649.6 324.0,648.5 324.3,655.4 324.5,653.7 324.8,662.7 325.1,664.0 325.4,666.9 325.7,670.7 326.0,650.8 326.2,654.2 326.5,661.5 326.8,662.0 327.1,667.2 327.4,654.7 327.7,652.0 328.0,663.3 328.2,661.4 328.5,651.1 328.8,656.9 329.1,652.0 329.4,661.2 329.7,658.4 329.9,656.0 330.2,650.7 330.5,650.6 330.8,659.2 331.1,647.4 331.4,649.5 331.7,661.2 331.9,662.6 332.2,659.5 332.5,652.8 332.8,649.8 333.1,658.8 333.4,656.1 333.7,654.1 333.9,662.1 334.2,662.1 334.5,645.3 334.8,676.6 335.1,661.4 335.4,658.7 335.6,659.4 335.9,668.0 336.2,664.1 336.5,659.9 336.8,658.9 337.1,664.7 337.4,673.4 337.6,665.4 337.9,667.9 338.2,663.8 338.5,666.9 338.8,665.4 339.1,669.8 339.3,669.1 339.6,655.7 339.9,654.8 340.2,662.5 340.5,652.9 340.8,663.4 341.1,658.1 341.3,655.2 341.6,651.2 341.9,653.9 342.2,653.4 342.5,673.1 342.8,664.5 343.1,668.6 343.3,661.6 343.6,662.2 343.9,660.0 344.2,666.1 344.5,662.5 344.8,660.0 345.0,657.1 345.3,653.1 345.6,654.3 345.9,668.0 346.2,659.3 346.5,670.8 346.8,653.3 347.0,666.7 347.3,672.6 347.6,655.3 347.9,657.3 348.2,667.1 348.5,668.3 348.7,668.8 349.0,662.6 349.3,669.3 349.6,670.2 349.9,651.0 350.2,658.2 350.5,662.3 350.7,659.5 351.0,660.0 351.3,664.4 351.6,652.7 351.9,661.0 352.2,671.6 352.5,664.6 352.7,660.5 353.0,659.8 353.3,667.4 353.6,664.9 353.9,665.1 354.2,654.4 354.4,657.4 354.7,657.3 355.0,656.5 355.3,660.0 355.6,660.9 355.9,664.3 356.2,655.5 356.4,651.4 356.7,661.4 357.0,655.8 357.3,654.9 357.6,652.5 357.9,649.4 358.1,656.3 358.4,650.5 358.7,654.7 359.0,658.3 359.3,666.4 359.6,655.8 359.9,653.4 360.1,658.5 360.4,663.4 360.7,650.9 361.0,654.7 361.3,656.9 361.6,642.9 361.9,638.6 362.1,647.6 362.4,633.3 362.7,623.3 363.0,627.2 363.3,632.3 363.6,626.2 363.8,609.8 364.1,624.4 364.4,611.5 364.7,621.1 365.0,612.5 365.3,631.7 365.6,646.8 365.8,630.8 366.1,630.9 366.4,640.7 366.7,647.2 367.0,654.2 367.3,648.8 367.5,652.5 367.8,651.7 368.1,646.4 368.4,662.0 368.7,654.7 369.0,667.1 369.3,651.7 369.5,654.0 369.8,661.5 370.1,663.8 370.4,667.4 370.7,668.5 371.0,666.6 371.3,652.6 371.5,676.4 371.8,664.7 372.1,658.1 372.4,664.6 372.7,657.0 373.0,671.2 373.2,666.1 373.5,667.0 373.8,662.6 374.1,669.8 374.4,667.5 374.7,660.1 375.0,663.8 375.2,666.6 375.5,656.7 375.8,671.0 376.1,660.9 376.4,666.0 376.7,666.1 376.9,656.1 377.2,665.3 377.5,655.5 377.8,666.1 378.1,660.6 378.4,667.4 378.7,660.6 378.9,658.2 379.2,668.8 379.5,654.9 379.8,663.1 380.1,666.0 380.4,671.9 380.7,672.1 380.9,668.3 381.2,663.9 381.5,662.4 381.8,660.2 382.1,668.7 382.4,654.2 382.6,662.5 382.9,671.3 383.2,670.4 383.5,674.2 383.8,671.1 384.1,661.8 384.4,666.7 384.6,648.5 384.9,662.2 385.2,666.0 385.5,658.8 385.8,663.9 386.1,669.0 386.3,660.2 386.6,668.4 386.9,658.5 387.2,669.8 387.5,665.7 387.8,654.9 388.1,660.8 388.3,665.4 388.6,654.8 388.9,661.2 389.2,677.6 389.5,664.1 389.8,674.4 390.1,655.6 390.3,654.8 390.6,664.3 390.9,661.6 391.2,671.3 391.5,651.4 391.8,663.7 392.0,667.6 392.3,670.2 392.6,668.7 392.9,662.4 393.2,667.5 393.5,664.6 393.8,663.8 394.0,668.3 394.3,664.4 394.6,661.0 394.9,663.2 395.2,667.6 395.5,672.6 395.7,668.5 396.0,657.3 396.3,660.8 396.6,677.6 396.9,665.4 397.2,669.8 397.5,666.8 397.7,657.5 398.0,664.1 398.3,661.0 398.6,669.0 398.9,667.6 399.2,656.6 399.5,665.8 399.7,666.1 400.0,666.0 400.3,670.9 400.6,669.4 400.9,675.0 401.2,654.9 401.4,670.3 401.7,676.1 402.0,662.3 402.3,668.0 402.6,663.4 402.9,654.7 403.2,671.4 403.4,659.1 403.7,663.8 404.0,661.4 404.3,660.7 404.6,656.7 404.9,651.2 405.1,664.0 405.4,660.3 405.7,668.0 406.0,656.6 406.3,666.2 406.6,656.8 406.9,643.8 407.1,658.3 407.4,661.8 407.7,659.4 408.0,667.8 408.3,661.1 408.6,655.3 408.9,648.4 409.1,650.9 409.4,661.7 409.7,650.9 410.0,657.3 410.3,663.4 410.6,665.7 410.8,666.0 411.1,655.0 411.4,661.1 411.7,664.3 412.0,655.5 412.3,653.8 412.6,653.6 412.8,655.6 413.1,652.4 413.4,672.1 413.7,655.5 414.0,660.3 414.3,654.7 414.5,661.8 414.8,675.1 415.1,660.9 415.4,671.7 415.7,660.8 416.0,662.4 416.3,663.9 416.5,668.8 416.8,656.4 417.1,655.9 417.4,662.4 417.7,666.1 418.0,658.2 418.2,661.7 418.5,663.6 418.8,665.8 419.1,662.7 419.4,648.4 419.7,663.6 420.0,667.2 420.2,655.8 420.5,667.9 420.8,660.6 421.1,662.1 421.4,654.4 421.7,674.6 422.0,678.7 422.2,663.2 422.5,652.6 422.8,654.8 423.1,659.0 423.4,660.9 423.7,659.6 423.9,667.2 424.2,658.5 424.5,662.5 424.8,664.5 425.1,665.7 425.4,656.7 425.7,668.5 425.9,653.6 426.2,664.6 426.5,655.0 426.8,659.8 427.1,665.0 427.4,660.2 427.6,671.4 427.9,654.2 428.2,649.9 428.5,650.9 428.8,665.7 429.1,650.7 429.4,666.1 429.6,650.8 429.9,640.3 430.2,641.2 430.5,647.2 430.8,638.1 431.1,630.4 431.4,641.6 431.6,645.5 431.9,635.0 432.2,639.7 432.5,653.7 432.8,652.5 433.1,651.6 433.3,657.3 433.6,669.1 433.9,667.5 434.2,665.5 434.5,652.7 434.8,664.5 435.1,660.9 435.3,664.4 435.6,676.3 435.9,669.2 436.2,663.2 436.5,674.0 436.8,656.0 437.0,678.8 437.3,668.2 437.6,672.0 437.9,668.6 438.2,675.9 438.5,663.2 438.8,664.0 439.0,655.8 439.3,655.4 439.6,668.6 439.9,660.1 440.2,671.2 440.5,658.0 440.8,663.5 441.0,652.0 441.3,668.0 441.6,659.7 441.9,665.4 442.2,672.6 442.5,670.2 442.7,674.3 443.0,670.9 443.3,668.3 443.6,660.3 443.9,664.9 444.2,671.7 444.5,664.5 444.7,668.5 445.0,664.5 445.3,677.4 445.6,669.9 445.9,665.3 446.2,678.4 446.4,667.6 446.7,673.7 447.0,684.3 447.3,678.3 447.6,666.6 447.9,663.7 448.2,670.6 448.4,670.6 448.7,668.2 449.0,674.0 449.3,671.6 449.6,670.5 449.9,661.2 450.2,661.8 450.4,674.4 450.7,663.5 451.0,684.3 451.3,665.2 451.6,669.8 451.9,673.5 452.1,678.0 452.4,673.2 452.7,672.7 453.0,658.8 453.3,663.2 453.6,670.4 453.9,665.2 454.1,675.6 454.4,667.6 454.7,669.6 455.0,673.7 455.3,677.1 455.6,666.6 455.8,668.4 456.1,658.9 456.4,666.5 456.7,673.7 457.0,673.4 457.3,677.9 457.6,667.8 457.8,673.2 458.1,658.2 458.4,667.4 458.7,679.0 459.0,658.6 459.3,664.4 459.6,669.1 459.8,664.9 460.1,662.2 460.4,672.8 460.7,668.5 461.0,678.0 461.3,671.8 461.5,671.2 461.8,668.1 462.1,674.1 462.4,667.0 462.7,668.7 463.0,673.1 463.3,667.3 463.5,679.1 463.8,660.1 464.1,667.1 464.4,678.1 464.7,676.1 465.0,669.9 465.2,674.7 465.5,661.9 465.8,665.3 466.1,654.8 466.4,664.7 466.7,667.9 467.0,671.3 467.2,659.8 467.5,674.2 467.8,669.4 468.1,667.8 468.4,660.2 468.7,667.0 469.0,661.4 469.2,668.3 469.5,673.4 469.8,665.5 470.1,659.0 470.4,665.8 470.7,664.4 470.9,670.3 471.2,667.1 471.5,673.9 471.8,651.6 472.1,663.1 472.4,661.3 472.7,663.5 472.9,652.3 473.2,669.2 473.5,662.6 473.8,657.3 474.1,664.8 474.4,669.3 474.6,665.0 474.9,665.6 475.2,661.5 475.5,676.6 475.8,658.4 476.1,666.4 476.4,660.7 476.6,662.5 476.9,671.7 477.2,665.1 477.5,670.1 477.8,662.9 478.1,666.8 478.4,673.4 478.6,660.9 478.9,655.6 479.2,668.2 479.5,666.6 479.8,674.9 480.1,668.8 480.3,657.9 480.6,666.7 480.9,657.2 481.2,666.3 481.5,662.9 481.8,667.7 482.1,661.0 482.3,672.4 482.6,669.6 482.9,663.1 483.2,666.0 483.5,670.1 483.8,657.7 484.0,655.5 484.3,674.3 484.6,655.1 484.9,655.1 485.2,653.5 485.5,655.3 485.8,666.5 486.0,669.2 486.3,666.1 486.6,663.7 486.9,655.6 487.2,663.4 487.5,655.4 487.8,658.8 488.0,650.5 488.3,649.3 488.6,657.2 488.9,647.7 489.2,651.1 489.5,650.0 489.7,647.9 490.0,665.2 490.3,657.8 490.6,655.0 490.9,664.5 491.2,668.3 491.5,663.1 491.7,650.3 492.0,662.5 492.3,659.4 492.6,656.1 492.9,657.6 493.2,661.9 493.4,662.5 493.7,656.6 494.0,661.0 494.3,648.2 494.6,650.0 494.9,664.1 495.2,667.1 495.4,654.1 495.7,655.2 496.0,657.7 496.3,655.8 496.6,654.4 496.9,652.1 497.2,654.9 497.4,659.4 497.7,650.5 498.0,652.7 498.3,653.1 498.6,650.2 498.9,641.8 499.1,650.9 499.4,635.8 499.7,642.6 500.0,652.5 500.3,653.1 500.6,653.3 500.9,651.6 501.1,659.6 501.4,662.5 501.7,675.2 502.0,650.3 502.3,655.0 502.6,666.6 502.8,661.9 503.1,661.6 503.4,666.3 503.7,667.8 504.0,660.7 504.3,660.8 504.6,652.5 504.8,665.3 505.1,666.8 505.4,665.5 505.7,655.9 506.0,651.7 506.3,666.4 506.5,657.8 506.8,658.3 507.1,672.7 507.4,663.1 507.7,660.8 508.0,669.8 508.3,663.6 508.5,671.1 508.8,676.8 509.1,664.4 509.4,658.6 509.7,667.3 510.0,675.5 510.3,678.0 510.5,675.6 510.8,672.2 511.1,672.8 511.4,662.7 511.7,654.8 512.0,668.4 512.2,663.7 512.5,665.1 512.8,661.1 513.1,671.6 513.4,657.4 513.7,661.8 514.0,673.1 514.2,663.9 514.5,664.5 514.8,669.0 515.1,665.1 515.4,671.2 515.7,673.4 515.9,669.6 516.2,671.3 516.5,668.1 516.8,666.7 517.1,662.5 517.4,677.8 517.7,673.9 517.9,660.6 518.2,673.2 518.5,671.6 518.8,677.8 519.1,675.0 519.4,673.1 519.7,670.8 519.9,668.5 520.2,678.6 520.5,675.1 520.8,676.5 521.1,674.6 521.4,675.6 521.6,670.1 521.9,669.0 522.2,671.6 522.5,673.6 522.8,673.9 523.1,670.8 523.4,672.5 523.6,681.7 523.9,660.5 524.2,666.0 524.5,678.4 524.8,665.0 525.1,681.9 525.3,682.0 525.6,670.0 525.9,673.1 526.2,676.4 526.5,671.7 526.8,681.2 527.1,678.6 527.3,666.2 527.6,668.9 527.9,683.0 528.2,671.4 528.5,677.7 528.8,676.3 529.1,677.9 529.3,674.3 529.6,679.9 529.9,686.3 530.2,677.7 530.5,678.9 530.8,677.9 531.0,678.5 531.3,677.9 531.6,682.2 531.9,673.6 532.2,668.8 532.5,685.7 532.8,676.8 533.0,679.3 533.3,679.8 533.6,682.2 533.9,667.6 534.2,671.4 534.5,676.3 534.7,676.9 535.0,672.6 535.3,679.5 535.6,668.0 535.9,667.5 536.2,670.4 536.5,677.1 536.7,689.7 537.0,674.5 537.3,674.8 537.6,669.5 537.9,685.5 538.2,673.9 538.5,678.9 538.7,685.8 539.0,671.5 539.3,671.9 539.6,680.8 539.9,679.3 540.2,675.4 540.4,682.2 540.7,674.6 541.0,673.6 541.3,670.4 541.6,670.1 541.9,672.3 542.2,681.2 542.4,676.9 542.7,673.9 543.0,673.0 543.3,667.9 543.6,675.6 543.9,676.7 544.1,681.2 544.4,668.7 544.7,683.4 545.0,676.0 545.3,676.1 545.6,675.5 545.9,666.1 546.1,679.0 546.4,677.8 546.7,670.4 547.0,668.5 547.3,677.1 547.6,673.3 547.9,666.6 548.1,672.5 548.4,674.0 548.7,666.6 549.0,675.7 549.3,680.2 549.6,671.4 549.8,673.9 550.1,669.3 550.4,668.0 550.7,679.0 551.0,667.0 551.3,681.4 551.6,669.0 551.8,669.0 552.1,662.1 552.4,667.3 552.7,674.3 553.0,670.8 553.3,672.7 553.5,676.7 553.8,668.3 554.1,672.3 554.4,684.6 554.7,667.6 555.0,678.0 555.3,664.4 555.5,673.4 555.8,678.9 556.1,665.8 556.4,671.7 556.7,664.7 557.0,675.5 557.3,669.9 557.5,677.2 557.8,681.6 558.1,672.8 558.4,670.1 558.7,678.2 559.0,663.1 559.2,672.2 559.5,669.0 559.8,663.1 560.1,678.0 560.4,671.1 560.7,668.9 561.0,671.4 561.2,667.8 561.5,665.3 561.8,671.4 562.1,671.9 562.4,673.2 562.7,672.7 562.9,668.7 563.2,681.4 563.5,675.2 563.8,677.2 564.1,663.8 564.4,669.8 564.7,669.8 564.9,678.1 565.2,670.2 565.5,668.4 565.8,670.7 566.1,665.9 566.4,669.3 566.7,673.8 566.9,679.0 567.2,664.8 567.5,688.5 567.8,673.9 568.1,677.5 568.4,669.1 568.6,674.0 568.9,675.0 569.2,676.9 569.5,671.4 569.8,669.2 570.1,671.9 570.4,676.0 570.6,686.8 570.9,667.6 571.2,667.8 571.5,665.7 571.8,666.2 572.1,678.1 572.3,670.3 572.6,672.3 572.9,680.9 573.2,675.7 573.5,675.4 573.8,671.6 574.1,672.9 574.3,671.6 574.6,675.5 574.9,678.1 575.2,670.7 575.5,670.7 575.8,672.8 576.1,672.7 576.3,677.1 576.6,677.5 576.9,670.2 577.2,669.6 577.5,666.1 577.8,667.8 578.0,675.4 578.3,675.3 578.6,658.0 578.9,671.8 579.2,669.0 579.5,673.8 579.8,678.6 580.0,668.9 580.3,666.3 580.6,675.0 580.9,674.2 581.2,681.1 581.5,672.4 581.7,670.1 582.0,672.7 582.3,668.6 582.6,673.2 582.9,677.6 583.2,671.4 583.5,662.9 583.7,668.0 584.0,677.6 584.3,679.3 584.6,678.8 584.9,671.3 585.2,665.6 585.5,671.4 585.7,675.6 586.0,672.7 586.3,666.0 586.6,673.8 586.9,674.8 587.2,657.5 587.4,664.3 587.7,675.9 588.0,674.0 588.3,672.5 588.6,675.3 588.9,670.1 589.2,669.2 589.4,675.4 589.7,663.0 590.0,666.3 590.3,683.5 590.6,669.8 590.9,677.6 591.1,676.8 591.4,675.9 591.7,672.8 592.0,655.2 592.3,676.3 592.6,672.3 592.9,674.9 593.1,675.5 593.4,683.9 593.7,662.7 594.0,670.4 594.3,683.5 594.6,664.1 594.8,673.9 595.1,671.6 595.4,668.3 595.7,656.8 596.0,666.3 596.3,662.3 596.6,661.4 596.8,661.5 597.1,662.4 597.4,667.7 597.7,656.3 598.0,664.0 598.3,663.3 598.6,657.2 598.8,661.2 599.1,662.8 599.4,659.6 599.7,652.8 600.0,664.0 600.3,661.3 600.5,663.7 600.8,652.6 601.1,669.8 601.4,656.5 601.7,665.7 602.0,661.6 602.3,655.4 602.5,661.1 602.8,674.5 603.1,670.9 603.4,671.8 603.7,666.5 604.0,667.6 604.2,655.4 604.5,673.0 604.8,672.1 605.1,663.3 605.4,664.8 605.7,661.5 606.0,668.0 606.2,669.5 606.5,675.5 606.8,667.2 607.1,666.4 607.4,669.7 607.7,664.6 608.0,666.0 608.2,668.5 608.5,676.6 608.8,676.7 609.1,671.2 609.4,676.7 609.7,672.7 609.9,668.5 610.2,665.2 610.5,675.3 610.8,673.5 611.1,673.3 611.4,670.8 611.7,675.3 611.9,667.5 612.2,676.7 612.5,672.0 612.8,672.8 613.1,673.4 613.4,659.0 613.6,672.8 613.9,685.2 614.2,663.9 614.5,676.8 614.8,666.3 615.1,676.1 615.4,666.0 615.6,666.0 615.9,662.2 616.2,674.6 616.5,670.4 616.8,654.2 617.1,666.7 617.4,665.0 617.6,663.5 617.9,671.6 618.2,665.7 618.5,668.6 618.8,669.0 619.1,670.3 619.3,667.9 619.6,679.4 619.9,657.9 620.2,659.3 620.5,661.7 620.8,667.4 621.1,676.9 621.3,671.5 621.6,671.1 621.9,673.9 622.2,674.2 622.5,664.9 622.8,668.8 623.0,667.4 623.3,669.7 623.6,669.8 623.9,668.2 624.2,671.6 624.5,656.1 624.8,682.7 625.0,673.5 625.3,661.2 625.6,658.2 625.9,675.0 626.2,670.3 626.5,666.2 626.8,664.3 627.0,665.3 627.3,659.0 627.6,656.9 627.9,656.2 628.2,660.0 628.5,657.5 628.7,669.1 629.0,662.4 629.3,668.9 629.6,660.8 629.9,653.5 630.2,662.1 630.5,666.8 630.7,657.8 631.0,657.9 631.3,667.1 631.6,668.3 631.9,661.1 632.2,665.3 632.4,665.5 632.7,669.4 633.0,656.7 633.3,668.1 633.6,667.7 633.9,669.6 634.2,670.4 634.4,658.8 634.7,666.5 635.0,662.5 635.3,671.8 635.6,661.0 635.9,656.8 636.2,661.0 636.4,656.5 636.7,665.5 637.0,657.4 637.3,661.8 637.6,667.1 637.9,659.8 638.1,659.5 638.4,658.1 638.7,662.8 639.0,649.4 639.3,665.0 639.6,645.9 639.9,631.9 640.1,652.8 640.4,649.3 640.7,663.3 641.0,665.9 641.3,661.3 641.6,657.7 641.8,662.4 642.1,660.0 642.4,668.4 642.7,659.3 643.0,660.8 643.3,662.7 643.6,657.7 643.8,674.7 644.1,657.5 644.4,659.5 644.7,667.4 645.0,673.3 645.3,656.0 645.6,666.3 645.8,660.8 646.1,666.3 646.4,669.7 646.7,664.3 647.0,667.7 647.3,658.2 647.5,662.2 647.8,670.9 648.1,669.6 648.4,672.9 648.7,669.9 649.0,666.7 649.3,668.3 649.5,657.6 649.8,664.8 650.1,662.6 650.4,675.5 650.7,657.2 651.0,662.0 651.2,662.2 651.5,660.3 651.8,660.8 652.1,662.0 652.4,666.6 652.7,670.9 653.0,668.2 653.2,664.5 653.5,664.0 653.8,664.7 654.1,675.4 654.4,678.2 654.7,662.2 655.0,664.4 655.2,663.4 655.5,667.5 655.8,666.2 656.1,680.9 656.4,684.6 656.7,674.0 656.9,664.6 657.2,682.1 657.5,661.2 657.8,675.1 658.1,667.3 658.4,671.4 658.7,668.0 658.9,672.7 659.2,679.3 659.5,664.1 659.8,664.7 660.1,666.6 660.4,666.5 660.6,685.0 660.9,675.3 661.2,672.1 661.5,677.0 661.8,661.7 662.1,673.8 662.4,657.6 662.6,671.5 662.9,667.1 663.2,668.3 663.5,662.3 663.8,679.1 664.1,669.2 664.4,683.0 664.6,664.0 664.9,666.1 665.2,681.9 665.5,669.9 665.8,673.7 666.1,666.0 666.3,668.5 666.6,673.1 666.9,668.4 667.2,674.8 667.5,680.4 667.8,671.7 668.1,674.5 668.3,679.7 668.6,679.6 668.9,673.8 669.2,682.3 669.5,681.9 669.8,668.2 670.0,674.6 670.3,680.3 670.6,670.1 670.9,672.7 671.2,675.3 671.5,673.1 671.8,676.1 672.0,687.3 672.3,675.9 672.6,673.4 672.9,669.2 673.2,681.8 673.5,679.7 673.8,668.5 674.0,674.3 674.3,665.8 674.6,688.7 674.9,672.3 675.2,676.7 675.5,669.4 675.7,674.7 676.0,673.0 676.3,682.4 676.6,681.3 676.9,677.2 677.2,678.9 677.5,683.2 677.7,668.4 678.0,680.0 678.3,677.5 678.6,675.1 678.9,676.8 679.2,674.1 679.4,676.5 679.7,681.4 680.0,676.1 680.3,670.0 680.6,676.6 680.9,679.7 681.2,676.1 681.4,664.4 681.7,667.5 682.0,681.5 682.3,675.5 682.6,674.3 682.9,670.0 683.1,677.9 683.4,681.7 683.7,674.6 684.0,676.0 684.3,679.1 684.6,678.1 684.9,677.2 685.1,682.6 685.4,666.4 685.7,671.8 686.0,671.4 686.3,666.7 686.6,675.5 686.9,682.1 687.1,669.5 687.4,677.1 687.7,679.7 688.0,667.5 688.3,673.8 688.6,671.1 688.8,682.5 689.1,675.1 689.4,678.3 689.7,681.8 690.0,686.5 690.3,675.7 690.6,676.0 690.8,674.6 691.1,673.6 691.4,674.4 691.7,667.3 692.0,669.1 692.3,673.7 692.5,682.6 692.8,673.6 693.1,668.2 693.4,676.4 693.7,679.8 694.0,675.5 694.3,667.4 694.5,671.1 694.8,677.3 695.1,680.1 695.4,671.7 695.7,670.8 696.0,676.0 696.3,675.7 696.5,674.0 696.8,678.8 697.1,676.7 697.4,669.0 697.7,671.2 698.0,675.4 698.2,666.2 698.5,677.8 698.8,671.8 699.1,689.7 699.4,674.4 699.7,672.4 700.0,676.4 700.2,681.4 700.5,677.0 700.8,668.7 701.1,674.4 701.4,670.1 701.7,673.1 701.9,672.6 702.2,670.4 702.5,677.9 702.8,667.2 703.1,668.5 703.4,674.4 703.7,678.2 703.9,668.6 704.2,671.1 704.5,682.0 704.8,668.8 705.1,679.5 705.4,669.7 705.7,673.0 705.9,667.9 706.2,669.1 706.5,678.0 706.8,668.3 707.1,673.1 707.4,677.1 707.6,673.3 707.9,665.7 708.2,679.4 708.5,675.2 708.8,679.5 709.1,665.6 709.4,665.7 709.6,673.8 709.9,671.6 710.2,681.4 710.5,684.9 710.8,674.0 711.1,679.2 711.3,678.3 711.6,677.7 711.9,682.7 712.2,671.1 712.5,680.1 712.8,672.5 713.1,670.9 713.3,678.3 713.6,675.5 713.9,674.6 714.2,678.3 714.5,680.2 714.8,679.0 715.1,664.2 715.3,671.4 715.6,670.3 715.9,672.2 716.2,676.9 716.5,671.3 716.8,677.7 717.0,670.1 717.3,684.8 717.6,666.3 717.9,672.8 718.2,673.4 718.5,670.0 718.8,675.5 719.0,673.4 719.3,666.6 719.6,673.9 719.9,661.5 720.2,668.7 720.5,672.1 720.7,683.9 721.0,676.4 721.3,675.0 721.6,676.8 721.9,674.2 722.2,670.5 722.5,671.8 722.7,671.3 723.0,683.7 723.3,676.1 723.6,675.0 723.9,675.6 724.2,673.8 724.5,672.2 724.7,683.5 725.0,674.4 725.3,675.2 725.6,676.4 725.9,666.0 726.2,668.2 726.4,673.3 726.7,669.8 727.0,668.1 727.3,683.0 727.6,667.8 727.9,679.9 728.2,668.5 728.4,674.5 728.7,669.6 729.0,670.5 729.3,675.4 729.6,666.0 729.9,676.8 730.1,681.7 730.4,678.7 730.7,679.3 731.0,674.0 731.3,680.5 731.6,676.3 731.9,685.9 732.1,662.0 732.4,674.4 732.7,669.5 733.0,669.8 733.3,660.8 733.6,669.9 733.9,672.5 734.1,673.5 734.4,673.4 734.7,656.4 735.0,668.8 735.3,671.6 735.6,675.2 735.8,670.7 736.1,676.5 736.4,669.1 736.7,671.6 737.0,658.6 737.3,666.1 737.6,665.2 737.8,668.6 738.1,675.4 738.4,665.8 738.7,671.2 739.0,662.3 739.3,670.8 739.5,666.3 739.8,663.9 740.1,667.4 740.4,666.5 740.7,664.8 741.0,663.2 741.3,672.6 741.5,669.9 741.8,677.4 742.1,662.6 742.4,665.8 742.7,672.1 743.0,664.5 743.3,657.9 743.5,669.5 743.8,680.0 744.1,662.5 744.4,661.0 744.7,670.5 745.0,664.9 745.2,662.1 745.5,666.2 745.8,667.9 746.1,671.9 746.4,673.2 746.7,661.6 747.0,669.3 747.2,674.1 747.5,681.2 747.8,667.7 748.1,666.5 748.4,670.3 748.7,669.4 748.9,665.1 749.2,662.4 749.5,662.3 749.8,681.2 750.1,657.1 750.4,663.9 750.7,664.6 750.9,664.9 751.2,664.8 751.5,670.6 751.8,667.9 752.1,650.5 752.4,667.6 752.7,674.3 752.9,672.7 753.2,654.0 753.5,674.9 753.8,669.9 754.1,660.0 754.4,671.7 754.6,665.9 754.9,666.4 755.2,669.1 755.5,656.8 755.8,666.7 756.1,659.8 756.4,674.9 756.6,647.8 756.9,664.7 757.2,663.0 757.5,668.0 757.8,670.1 758.1,673.4 758.3,664.4 758.6,668.4 758.9,661.4 759.2,670.7 759.5,675.3 759.8,659.5 760.1,659.2 760.3,665.0 760.6,671.4 760.9,667.3 761.2,655.9 761.5,657.1 761.8,666.6 762.1,676.9 762.3,659.6 762.6,661.6 762.9,658.7 763.2,663.1 763.5,672.7 763.8,662.5 764.0,651.0 764.3,660.5 764.6,657.0 764.9,667.4 765.2,669.0 765.5,660.6 765.8,662.4 766.0,673.4 766.3,670.5 766.6,664.8 766.9,654.6 767.2,665.7 767.5,666.0 767.7,666.3 768.0,655.1 768.3,649.8 768.6,671.3 768.9,681.3 769.2,655.0 769.5,665.8 769.7,667.6 770.0,666.4 770.3,669.6 770.6,665.6 770.9,672.4 771.2,656.0 771.5,662.6 771.7,673.3 772.0,656.6 772.3,666.7 772.6,657.8 772.9,669.6 773.2,663.6 773.4,657.5 773.7,672.0 774.0,655.1 774.3,667.3 774.6,668.8 774.9,666.4 775.2,666.2 775.4,666.2 775.7,668.3 776.0,663.7 776.3,665.4 776.6,674.7 776.9,668.6 777.1,680.1 777.4,673.4 777.7,669.0 778.0,673.1 778.3,664.6 778.6,672.5 778.9,665.9 779.1,677.8 779.4,683.1 779.7,673.0 780.0,670.0 780.3,672.0 780.6,670.7 780.8,674.2 781.1,675.5 781.4,677.5 781.7,675.2 782.0,676.1 782.3,672.4 782.6,662.5 782.8,669.8 783.1,671.0 783.4,668.8 783.7,659.7 784.0,664.2 784.3,676.0 784.6,666.7 784.8,674.9 785.1,671.6 785.4,672.5 785.7,673.2 786.0,675.5 786.3,666.5 786.5,669.4 786.8,670.5 787.1,675.9 787.4,663.3 787.7,677.0 788.0,675.8 788.3,676.9 788.5,667.2 788.8,680.4 789.1,680.4 789.4,666.9 789.7,679.3 790.0,674.8 790.2,669.7 790.5,676.5 790.8,673.3 791.1,674.1 791.4,665.3 791.7,664.1 792.0,665.9 792.2,670.8 792.5,673.3 792.8,666.3 793.1,668.9 793.4,680.2 793.7,676.2 794.0,674.4 794.2,664.1 794.5,670.0 794.8,668.4 795.1,671.7 795.4,670.9 795.7,675.1 795.9,674.7 796.2,667.5 796.5,668.5 796.8,674.7 797.1,665.5 797.4,676.5 797.7,682.7 797.9,668.8 798.2,678.0 798.5,659.0 798.8,678.0 799.1,667.5 799.4,664.7 799.6,663.3 799.9,666.3 800.2,666.9 800.5,677.3 800.8,676.8 801.1,667.5 801.4,666.8 801.6,663.5 801.9,673.7 802.2,676.4 802.5,677.9 802.8,670.7 803.1,660.8 803.4,670.0 803.6,677.0 803.9,667.0 804.2,673.0 804.5,681.1 804.8,673.5 805.1,674.5 805.3,674.4 805.6,673.7 805.9,667.2 806.2,682.3 806.5,666.8 806.8,676.4 807.1,672.1 807.3,672.8 807.6,670.3 807.9,675.1 808.2,670.0 808.5,669.2 808.8,668.2 809.0,672.1 809.3,667.0 809.6,668.7 809.9,667.5 810.2,674.4 810.5,681.9 810.8,662.4 811.0,670.3 811.3,672.3 811.6,672.4 811.9,660.3 812.2,675.5 812.5,677.0 812.8,666.6 813.0,669.3 813.3,684.3 813.6,684.0 813.9,679.1 814.2,670.3 814.5,670.8 814.7,677.0 815.0,675.8 815.3,667.1 815.6,676.9 815.9,679.8 816.2,671.1 816.5,678.1 816.7,679.2 817.0,674.9 817.3,680.3 817.6,674.6 817.9,674.1 818.2,680.3 818.4,674.5 818.7,673.3 819.0,671.4 819.3,669.5 819.6,662.1 819.9,674.7 820.2,673.4 820.4,664.0 820.7,663.4 821.0,671.0 821.3,677.1 821.6,667.3 821.9,680.6 822.2,671.4 822.4,681.4 822.7,675.7 823.0,678.9 823.3,671.1 823.6,676.9 823.9,672.7 824.1,675.9 824.4,681.0 824.7,683.9 825.0,670.1 825.3,678.3 825.6,678.0 825.9,682.7 826.1,683.2 826.4,675.9 826.7,672.1 827.0,678.2 827.3,686.3 827.6,679.6 827.8,681.5 828.1,674.5 828.4,686.9 828.7,672.1 829.0,677.7 829.3,675.0 829.6,670.8 829.8,679.2 830.1,679.5 830.4,674.3 830.7,679.1 831.0,674.8 831.3,682.6 831.6,676.5 831.8,667.8 832.1,681.4 832.4,671.0 832.7,670.9 833.0,671.8 833.3,671.6 833.5,676.3 833.8,667.1 834.1,677.7 834.4,667.1 834.7,680.2 835.0,660.6 835.3,669.9 835.5,673.2 835.8,671.8 836.1,665.7 836.4,669.1 836.7,671.2 837.0,674.4 837.2,674.4 837.5,675.5 837.8,676.6 838.1,675.2 838.4,672.1 838.7,680.6 839.0,678.5 839.2,668.9 839.5,666.0 839.8,674.0 840.1,676.8 840.4,659.6 840.7,675.7 841.0,672.1 841.2,673.4 841.5,678.5 841.8,669.7 842.1,673.7 842.4,669.2 842.7,674.8 842.9,668.0 843.2,674.5 843.5,675.0 843.8,681.1 844.1,677.1 844.4,682.5 844.7,673.6 844.9,689.0 845.2,678.6 845.5,671.5 845.8,672.3 846.1,685.0 846.4,685.8 846.6,678.2 846.9,673.2 847.2,672.9 847.5,677.4 847.8,686.3 848.1,672.6 848.4,683.7 848.6,681.2 848.9,671.6 849.2,678.0 849.5,682.3 849.8,678.3 850.1,677.6 850.4,672.1 850.6,690.9 850.9,685.5 851.2,687.0 851.5,676.8 851.8,682.8 852.1,678.6 852.3,672.6 852.6,676.6 852.9,673.2 853.2,671.5 853.5,676.6 853.8,681.7 854.1,682.5 854.3,679.7 854.6,678.6 854.9,672.4 855.2,685.8 855.5,679.0 855.8,680.6 856.0,678.1 856.3,680.1 856.6,674.8 856.9,682.9 857.2,674.0 857.5,672.8 857.8,672.4 858.0,678.9 858.3,679.7 858.6,677.7 858.9,677.2 859.2,677.0 859.5,678.8 859.8,675.4 860.0,679.7 860.3,676.6 860.6,669.0 860.9,683.8 861.2,673.4 861.5,679.8 861.7,666.8 862.0,673.5 862.3,681.0 862.6,691.3 862.9,680.1 863.2,672.1 863.5,678.4 863.7,676.6 864.0,669.8 864.3,683.1 864.6,675.6 864.9,675.8 865.2,668.5 865.4,669.2 865.7,672.3 866.0,668.0 866.3,670.7 866.6,668.0 866.9,676.2 867.2,672.9 867.4,669.1 867.7,686.5 868.0,661.7 868.3,673.2 868.6,673.5 868.9,674.2 869.1,669.1 869.4,674.6 869.7,680.4 870.0,672.5 870.3,677.1 870.6,677.5 870.9,669.6 871.1,673.9 871.4,678.9 871.7,683.9 872.0,677.7 872.3,684.4 872.6,672.9 872.9,669.6 873.1,679.1 873.4,678.0 873.7,676.0 874.0,686.2 874.3,680.3 874.6,675.9 874.8,674.4 875.1,675.5 875.4,676.5 875.7,682.3 876.0,665.5 876.3,676.7 876.6,672.7 876.8,678.3 877.1,677.2 877.4,675.5 877.7,670.1 878.0,664.5 878.3,678.3 878.5,672.0 878.8,674.3 879.1,677.1 879.4,673.5 879.7,669.7 880.0,671.7 880.3,671.6 880.5,667.2 880.8,676.7 881.1,674.6 881.4,669.1 881.7,674.2 882.0,676.6 882.3,671.3 882.5,672.3 882.8,674.1 883.1,681.9 883.4,682.3 883.7,677.7 884.0,680.2 884.2,679.7 884.5,681.0 884.8,672.0 885.1,678.9 885.4,682.0 885.7,665.0 886.0,671.3 886.2,686.7 886.5,678.7 886.8,682.2 887.1,674.4 887.4,682.8 887.7,680.0 887.9,675.5 888.2,679.3 888.5,673.1 888.8,670.6 889.1,670.3 889.4,666.1 889.7,676.0 889.9,673.2 890.2,681.3 890.5,680.5 890.8,675.1 891.1,676.9 891.4,675.7 891.7,664.6 891.9,678.2 892.2,675.6 892.5,680.6 892.8,683.8 893.1,684.6 893.4,681.0 893.6,665.2 893.9,679.7 894.2,676.8 894.5,671.1 894.8,680.0 895.1,672.0 895.4,679.4 895.6,685.7 895.9,671.1 896.2,678.2 896.5,679.3 896.8,679.3 897.1,670.8 897.3,662.7 897.6,684.5 897.9,672.9 898.2,674.4 898.5,672.5 898.8,671.2 899.1,680.1 899.3,683.2 899.6,682.0 899.9,676.9 900.2,680.0 900.5,669.7 900.8,683.6 901.1,674.0 901.3,669.6 901.6,679.2 901.9,674.5 902.2,689.3 902.5,680.1 902.8,682.9 903.0,688.8 903.3,672.6 903.6,674.9 903.9,687.6 904.2,679.4 904.5,681.0 904.8,683.8 905.0,681.0 905.3,679.9 905.6,679.0 905.9,679.6 906.2,683.8 906.5,684.2 906.7,670.7 907.0,674.9 907.3,670.9 907.6,679.6 907.9,679.1 908.2,686.0 908.5,670.8 908.7,674.3 909.0,673.9 909.3,678.5 909.6,680.2 909.9,680.8 910.2,681.0 910.5,681.3 910.7,679.2 911.0,677.4 911.3,680.3 911.6,675.5 911.9,679.7 912.2,679.4 912.4,681.2 912.7,675.2 913.0,666.5 913.3,675.4 913.6,679.6 913.9,678.2 914.2,678.6 914.4,674.6 914.7,682.1 915.0,677.6 915.3,673.4 915.6,679.4 915.9,675.1 916.1,687.1 916.4,690.0 916.7,677.6 917.0,687.9 917.3,685.9 917.6,683.3 917.9,683.8 918.1,677.4 918.4,669.9 918.7,682.0 919.0,689.4 919.3,678.1 919.6,679.5 919.9,682.4 920.1,680.1 920.4,687.2 920.7,675.2 921.0,684.1 921.3,669.3 921.6,672.2 921.8,681.3 922.1,677.3 922.4,681.6 922.7,669.8 923.0,675.4 923.3,680.7 923.6,671.4 923.8,681.7 924.1,676.9 924.4,679.6 924.7,664.1 925.0,676.7 925.3,669.5 925.5,672.5 925.8,677.1 926.1,670.0 926.4,664.6 926.7,674.5 927.0,688.2 927.3,685.2 927.5,682.6 927.8,675.8 928.1,672.4 928.4,679.8 928.7,678.0 929.0,671.4 929.3,683.6 929.5,677.8 929.8,679.1 930.1,678.4 930.4,678.0 930.7,681.4 931.0,673.2 931.2,686.8 931.5,682.9 931.8,679.9 932.1,672.4 932.4,682.6 932.7,669.0 933.0,682.6 933.2,672.6 933.5,681.5 933.8,676.5 934.1,684.5 934.4,671.0 934.7,662.3 934.9,680.7 935.2,670.5 935.5,674.6 935.8,677.4 936.1,678.3 936.4,680.3 936.7,671.3 936.9,671.0 937.2,678.9 937.5,680.3 937.8,681.6 938.1,672.9 938.4,675.2 938.7,673.3 938.9,678.0 939.2,689.9 939.5,667.1 939.8,670.8 940.1,685.3 940.4,681.5 940.6,672.5 940.9,678.6 941.2,687.6 941.5,671.4 941.8,676.0 942.1,678.2 942.4,676.5 942.6,672.4 942.9,666.5 943.2,677.7 943.5,677.8 943.8,672.4 944.1,663.4 944.3,676.0 944.6,666.1 944.9,662.6 945.2,678.9 945.5,675.5 945.8,675.7 946.1,674.9 946.3,675.3 946.6,684.3 946.9,679.8 947.2,669.0 947.5,667.5 947.8,677.4 948.1,675.0 948.3,675.2 948.6,665.7 948.9,662.7 949.2,663.1 949.5,668.2 949.8,663.0 950.0,663.9 950.3,663.9 950.6,670.3 950.9,672.4 951.2,669.9 951.5,664.9 951.8,666.4 952.0,668.1 952.3,675.5 952.6,682.4 952.9,680.3 953.2,667.8 953.5,674.4 953.7,678.6 954.0,677.2 954.3,681.8 954.6,672.0 954.9,675.9 955.2,678.0 955.5,683.9 955.7,681.0 956.0,680.6 956.3,667.0 956.6,683.5 956.9,677.3 957.2,669.0 957.4,676.2 957.7,679.7 958.0,675.4 958.3,679.6 958.6,669.8 958.9,689.6 959.2,673.3 959.4,677.5 959.7,669.6 960.0,670.2 960.3,681.4 960.6,675.1 960.9,674.2 961.2,681.5 961.4,680.6 961.7,678.1 962.0,680.4 962.3,680.2 962.6,674.0 962.9,678.8 963.1,676.0 963.4,678.4 963.7,670.1 964.0,685.1 964.3,675.7 964.6,684.6 964.9,687.4 965.1,677.6 965.4,690.6 965.7,675.5 966.0,679.1 966.3,677.4 966.6,676.5 966.8,679.1 967.1,678.9 967.4,677.2 967.7,679.7 968.0,681.4 968.3,682.8 968.6,681.4 968.8,680.9 969.1,680.5 969.4,690.2 969.7,676.7 970.0,672.4 970.3,681.1 970.6,683.0 970.8,680.7 971.1,684.4 971.4,673.0 971.7,683.7 972.0,687.1 972.3,682.4 972.5,684.6 972.8,687.8 973.1,680.4 973.4,672.4 973.7,684.2 974.0,685.7 974.3,675.9 974.5,692.7 974.8,682.0 975.1,685.7 975.4,678.6 975.7,676.9 976.0,682.1 976.2,678.2 976.5,687.5 976.8,688.1 977.1,668.4 977.4,687.5 977.7,676.2 978.0,693.8 978.2,681.3 978.5,684.7 978.8,680.5 979.1,686.0 979.4,680.9 979.7,682.5 980.0,681.9 980.2,685.8 980.5,678.5 980.8,677.3 981.1,681.7 981.4,681.1 981.7,680.1 981.9,672.7 982.2,680.1 982.5,674.8 982.8,675.7 983.1,684.9 983.4,673.2 983.7,671.8 983.9,676.2 984.2,681.2 984.5,679.1 984.8,676.6 985.1,685.6 985.4,685.9 985.6,666.3 985.9,674.7 986.2,667.7 986.5,677.2 986.8,675.2 987.1,681.2 987.4,663.6 987.6,669.9 987.9,672.4 988.2,680.1 988.5,677.9 988.8,681.2 989.1,678.1 989.4,679.0 989.6,673.2 989.9,671.0 990.2,684.3 990.5,673.9 990.8,674.9 991.1,685.3 991.3,684.3 991.6,675.6 991.9,684.8 992.2,686.3 992.5,678.2 992.8,683.5 993.1,686.9 993.3,674.9 993.6,682.0 993.9,675.8 994.2,678.0 994.5,671.6 994.8,675.1 995.0,683.0 995.3,674.2 995.6,680.8 995.9,682.2 996.2,673.8 996.5,677.5 996.8,672.9 997.0,671.9 997.3,664.8 997.6,677.0 997.9,680.8 998.2,670.8 998.5,670.1 998.8,676.1 999.0,673.5 999.3,672.9 999.6,686.1 999.9,674.2 1000.2,671.1 1000.5,671.0 1000.7,672.5 1001.0,683.5 1001.3,679.4 1001.6,683.2"/>
</g>
<g fill="#000">
<circle cx="351.5" cy="250" r="5"/>
<circle cx="410.3" cy="235" r="5"/>
<circle cx="502.7" cy="243.5" r="5"/>
<circle cx="749" cy="226.7" r="5"/>
<circle cx="351.6" cy="340.2" r="5"/>
<circle cx="408.3" cy="342.2" r="5"/>
<circle cx="503" cy="331.3" r="5"/>
<circle cx="748.6" cy="327.2" r="5"/>
<circle cx="502.1" cy="414.2" r="5"/>
<circle cx="747.5" cy="414.4" r="5"/>
<circle cx="348.5" cy="492.7" r="5"/>
<circle cx="405.7" cy="492.5" r="5"/>
<circle cx="500.7" cy="486.6" r="5"/>
<circle cx="747.4" cy="470.1" r="5"/>
<circle cx="498.4" cy="621.5" r="5"/>
<circle cx="748.5" cy="637.8" r="5"/>
<circle cx="821.3" cy="52.9" r="4.6"/>
<path d="M194.4,415.2L194.4,426.0M189.7,417.9L199.1,423.3M199.1,417.9L189.7,423.3" stroke="#777" stroke-width="1.7" fill="none"/><circle cx="194.4" cy="416.0" r="1.25" fill="#1a1a1a"/><circle cx="194.4" cy="425.2" r="1.25" fill="#1a1a1a"/><circle cx="190.4" cy="418.3" r="1.25" fill="#1a1a1a"/><circle cx="198.4" cy="422.9" r="1.25" fill="#1a1a1a"/><circle cx="198.4" cy="418.3" r="1.25" fill="#1a1a1a"/><circle cx="190.4" cy="422.9" r="1.25" fill="#1a1a1a"/>
<path d="M296.0,403.8L296.0,414.6M291.3,406.5L300.7,411.9M300.7,406.5L291.3,411.9" stroke="#777" stroke-width="1.7" fill="none"/><circle cx="296.0" cy="404.6" r="1.25" fill="#1a1a1a"/><circle cx="296.0" cy="413.8" r="1.25" fill="#1a1a1a"/><circle cx="292.0" cy="406.9" r="1.25" fill="#1a1a1a"/><circle cx="300.0" cy="411.5" r="1.25" fill="#1a1a1a"/><circle cx="300.0" cy="406.9" r="1.25" fill="#1a1a1a"/><circle cx="292.0" cy="411.5" r="1.25" fill="#1a1a1a"/>
<path d="M429.5,418.6L429.5,429.4M424.8,421.3L434.2,426.7M434.2,421.3L424.8,426.7" stroke="#777" stroke-width="1.7" fill="none"/><circle cx="429.5" cy="419.4" r="1.25" fill="#1a1a1a"/><circle cx="429.5" cy="428.6" r="1.25" fill="#1a1a1a"/><circle cx="425.5" cy="421.7" r="1.25" fill="#1a1a1a"/><circle cx="433.5" cy="426.3" r="1.25" fill="#1a1a1a"/><circle cx="433.5" cy="421.7" r="1.25" fill="#1a1a1a"/><circle cx="425.5" cy="426.3" r="1.25" fill="#1a1a1a"/>
<path d="M192.0,581.2L192.0,592.0M187.3,583.9L196.7,589.3M196.7,583.9L187.3,589.3" stroke="#777" stroke-width="1.7" fill="none"/><circle cx="192.0" cy="582.0" r="1.25" fill="#1a1a1a"/><circle cx="192.0" cy="591.2" r="1.25" fill="#1a1a1a"/><circle cx="188.0" cy="584.3" r="1.25" fill="#1a1a1a"/><circle cx="196.0" cy="588.9" r="1.25" fill="#1a1a1a"/><circle cx="196.0" cy="584.3" r="1.25" fill="#1a1a1a"/><circle cx="188.0" cy="588.9" r="1.25" fill="#1a1a1a"/>
<path d="M294.9,546.4L294.9,557.2M290.2,549.1L299.6,554.5M299.6,549.1L290.2,554.5" stroke="#777" stroke-width="1.7" fill="none"/><circle cx="294.9" cy="547.2" r="1.25" fill="#1a1a1a"/><circle cx="294.9" cy="556.4" r="1.25" fill="#1a1a1a"/><circle cx="290.9" cy="549.5" r="1.25" fill="#1a1a1a"/><circle cx="298.9" cy="554.1" r="1.25" fill="#1a1a1a"/><circle cx="298.9" cy="549.5" r="1.25" fill="#1a1a1a"/><circle cx="290.9" cy="554.1" r="1.25" fill="#1a1a1a"/>
<path d="M363.0,585.3L363.0,596.1M358.3,588.0L367.7,593.4M367.7,588.0L358.3,593.4" stroke="#777" stroke-width="1.7" fill="none"/><circle cx="363.0" cy="586.1" r="1.25" fill="#1a1a1a"/><circle cx="363.0" cy="595.3" r="1.25" fill="#1a1a1a"/><circle cx="359.0" cy="588.4" r="1.25" fill="#1a1a1a"/><circle cx="367.0" cy="593.0" r="1.25" fill="#1a1a1a"/><circle cx="367.0" cy="588.4" r="1.25" fill="#1a1a1a"/><circle cx="359.0" cy="593.0" r="1.25" fill="#1a1a1a"/>
<path d="M430.0,605.3L430.0,616.1M425.3,608.0L434.7,613.4M434.7,608.0L425.3,613.4" stroke="#777" stroke-width="1.7" fill="none"/><circle cx="430.0" cy="606.1" r="1.25" fill="#1a1a1a"/><circle cx="430.0" cy="615.3" r="1.25" fill="#1a1a1a"/><circle cx="426.0" cy="608.4" r="1.25" fill="#1a1a1a"/><circle cx="434.0" cy="613.0" r="1.25" fill="#1a1a1a"/><circle cx="434.0" cy="608.4" r="1.25" fill="#1a1a1a"/><circle cx="426.0" cy="613.0" r="1.25" fill="#1a1a1a"/>
<path d="M823.0,95.6L823.0,107.6M817.8,98.6L828.2,104.6M828.2,98.6L817.8,104.6" stroke="#777" stroke-width="2.2" fill="none"/>
<path d="M295.9,491.8V509.8" stroke="#3a3a3a" stroke-width="3.0" fill="none"/><path d="M287.9,500.8H303.9" stroke="#000" stroke-width="2.4" fill="none"/>
<path d="M824.1,140.4V154.79999999999998" stroke="#222" stroke-width="3.0" fill="none"/><path d="M817.1,147.6H831.1" stroke="#555" stroke-width="2.4" fill="none"/>
</g>
<rect x="88.5" y="17.6" width="3.6" height="678" fill="#3a3a3a"/>
<rect x="88.5" y="18" width="913.5" height="3.2" fill="#000"/>
<rect x="999.8" y="18" width="2.4" height="677" fill="#000"/>
<rect x="88.5" y="692.9" width="913.5" height="2.5" fill="#000"/>
<path d="M90.4,694V707M147.4,694V700.5M204.3,694V707M261.2,694V700.5M318.2,694V707M375.1,694V700.5M432.1,694V707M489.1,694V700.5M546.0,694V707M603.0,694V700.5M659.9,694V707M716.9,694V700.5M773.8,694V707M830.8,694V700.5M887.7,694V707M944.6,694V700.5M1001.6,694V707" stroke="#000" stroke-width="2.4" fill="none"/>
<g font-size="36.6" stroke="#fff" stroke-width="0.4">
<text x="90.4" y="742.8" text-anchor="middle" textLength="38.2" lengthAdjust="spacingAndGlyphs">10</text>
<text x="204.3" y="742.8" text-anchor="middle" textLength="38.2" lengthAdjust="spacingAndGlyphs">20</text>
<text x="318.2" y="742.8" text-anchor="middle" textLength="38.2" lengthAdjust="spacingAndGlyphs">30</text>
<text x="432.1" y="742.8" text-anchor="middle" textLength="38.2" lengthAdjust="spacingAndGlyphs">40</text>
<text x="546.0" y="742.8" text-anchor="middle" textLength="38.2" lengthAdjust="spacingAndGlyphs">50</text>
<text x="659.9" y="742.8" text-anchor="middle" textLength="38.2" lengthAdjust="spacingAndGlyphs">60</text>
<text x="773.8" y="742.8" text-anchor="middle" textLength="38.2" lengthAdjust="spacingAndGlyphs">70</text>
<text x="887.7" y="742.8" text-anchor="middle" textLength="38.2" lengthAdjust="spacingAndGlyphs">80</text>
<text x="1001.6" y="742.8" text-anchor="middle" textLength="38.2" lengthAdjust="spacingAndGlyphs">90</text>
</g>
<rect x="72" y="739.6" width="7.7" height="4" fill="#fff"/><rect x="83" y="739.6" width="7" height="4" fill="#fff"/>

<g font-size="29.4">
<path d="M109,46.9H173.7" stroke="#000000" stroke-width="2" opacity="0.72"/>
<text x="180.3" y="55.8">Al</text>
<path d="M109,81.5H173.7" stroke="#ff0000" stroke-width="2" opacity="0.72"/>
<text x="180.3" y="90.8">Al-La</text>
<path d="M109,116.1H173.7" stroke="#00ff00" stroke-width="2" opacity="0.72"/>
<text x="180.3" y="125.7">Al-Ba</text>
<path d="M109,150.7H173.7" stroke="#0000ff" stroke-width="2" opacity="0.72"/>
<text x="180.3" y="160.7">Al-Ce</text>
<path d="M109,185.3H173.7" stroke="#ff00ff" stroke-width="2" opacity="0.72"/>
<text x="180.3" y="195.6">Al-(La+Ba)</text>
</g>
<g font-size="29.4">
<text x="851.6" y="59.5">:</text><text x="868" y="59.5">Al</text><text x="893.3" y="70.7" font-size="17">2</text><text x="903.2" y="59.5">O</text><text x="926.2" y="70.4" font-size="17">3</text>
<text x="847.5" y="111.8">:</text><text x="863" y="111.8">BaAl</text><text x="924.5" y="124.5" font-size="17">2</text><text x="935" y="111.8">O</text><text x="957" y="123.8" font-size="17">4</text>
<text x="847.9" y="157.8">:</text><text x="863.9" y="157.8">CeO</text><text x="924.5" y="169.7" font-size="17">2</text>
</g>
<g font-size="36.5" stroke="#fff" stroke-width="0.3">
<text transform="translate(473.3,796.6) scale(1.055,1)">2θ</text><text x="524.5" y="796.6">(</text><text x="537.3" y="796.6">°</text><text x="553.7" y="796.6">)</text>
</g>
<text transform="translate(39.8,508) rotate(-90)" font-size="40.5" textLength="261" lengthAdjust="spacingAndGlyphs">Intensity (a.u.)</text>
</g>
</svg>
</body></html>
